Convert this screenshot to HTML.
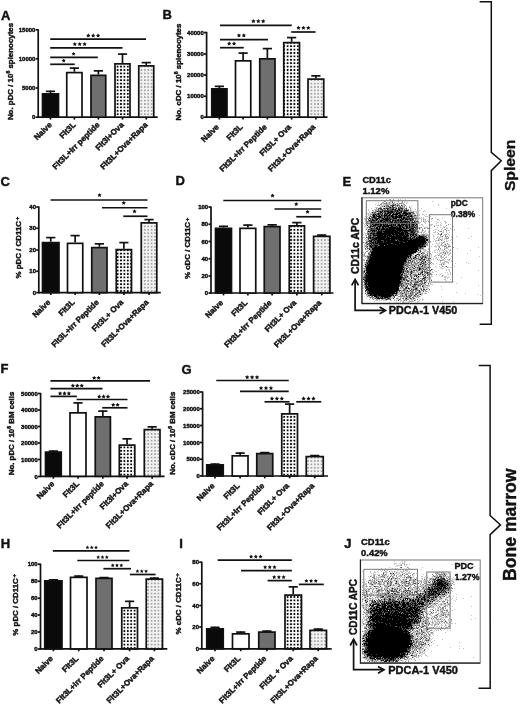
<!DOCTYPE html>
<html><head><meta charset="utf-8"><style>
html,body{margin:0;padding:0;background:#fff;}
svg{display:block;filter:grayscale(1);}
text{font-family:'Liberation Sans', sans-serif;font-weight:bold;fill:#111;stroke:#111;stroke-width:0.42px;}
.tk{font-size:6px;text-anchor:end;}
.xl{font-size:8px;text-anchor:end;}
.yl{font-size:7.9px;text-anchor:middle;}
.pl{font-size:13px;}
.ch line,.ch polyline{stroke:#111;stroke-width:1.7;}
.ch rect{stroke:#111;stroke-width:1.7;}
</style></head><body>
<svg width="520" height="704" viewBox="0 0 520 704">
<defs>
<pattern id="pOva" patternUnits="userSpaceOnUse" width="3.4" height="3.4" x="0.3" y="0.3"><rect width="3.4" height="3.4" fill="#fff"/><rect x="0.8" y="0.8" width="1.8" height="1.8" fill="#000"/></pattern>
<pattern id="pRapa" patternUnits="userSpaceOnUse" width="3.4" height="3.4" x="0.3" y="0.3"><rect width="3.4" height="3.4" fill="#f2f2f2"/><rect x="0.9" y="0.9" width="1.6" height="1.6" fill="#9a9a9a"/></pattern>
</defs>
<g class="ch">
<line x1="35.6" y1="117.2" x2="38.2" y2="117.2"/>
<text class="tk" x="35.4" y="119.4">0</text>
<line x1="35.6" y1="88" x2="38.2" y2="88"/>
<text class="tk" x="35.4" y="90.2">5000</text>
<line x1="35.6" y1="58.8" x2="38.2" y2="58.8"/>
<text class="tk" x="35.4" y="61">10000</text>
<line x1="35.6" y1="29.8" x2="38.2" y2="29.8"/>
<text class="tk" x="35.4" y="32">15000</text>
<line x1="38.2" y1="29.2" x2="38.2" y2="117.9"/>
<line x1="37.5" y1="117.2" x2="157.7" y2="117.2"/>
<line x1="50.5" y1="90.75" x2="50.5" y2="93"/>
<line x1="45.9" y1="91.35" x2="55.1" y2="91.35"/>
<rect x="42.5" y="93.85" width="16" height="23.35" fill="#0a0a0a"/>
<line x1="50.5" y1="117.2" x2="50.5" y2="119.6"/>
<line x1="74.38" y1="67.5" x2="74.38" y2="71.75"/>
<line x1="69.78" y1="68.1" x2="78.97" y2="68.1"/>
<rect x="66.75" y="72.6" width="15.25" height="44.6" fill="#fff"/>
<line x1="74.38" y1="117.2" x2="74.38" y2="119.6"/>
<line x1="98.38" y1="70.25" x2="98.38" y2="74.5"/>
<line x1="93.78" y1="70.85" x2="102.97" y2="70.85"/>
<rect x="91" y="75.35" width="14.75" height="41.85" fill="#6f6f6f"/>
<line x1="98.38" y1="117.2" x2="98.38" y2="119.6"/>
<line x1="122.5" y1="53.5" x2="122.5" y2="63"/>
<line x1="117.9" y1="54.1" x2="127.1" y2="54.1"/>
<rect x="115" y="63.85" width="15" height="53.35" fill="url(#pOva)"/>
<line x1="122.5" y1="117.2" x2="122.5" y2="119.6"/>
<line x1="146.25" y1="62" x2="146.25" y2="65"/>
<line x1="141.65" y1="62.6" x2="150.85" y2="62.6"/>
<rect x="138.75" y="65.85" width="15" height="51.35" fill="url(#pRapa)"/>
<line x1="146.25" y1="117.2" x2="146.25" y2="119.6"/>
<line x1="50.2" y1="64.3" x2="74.8" y2="64.3"/>
<g stroke="none" fill="#111"><polygon points="63.7,58.6 64.34,59.82 65.7,60.05 64.74,61.04 64.93,62.4 63.7,61.79 62.47,62.4 62.66,61.04 61.7,60.05 63.06,59.82"/></g>
<line x1="50.2" y1="57.4" x2="97.8" y2="57.4"/>
<g stroke="none" fill="#111"><polygon points="73.6,51.7 74.24,52.92 75.6,53.15 74.64,54.14 74.83,55.5 73.6,54.89 72.37,55.5 72.56,54.14 71.6,53.15 72.96,52.92"/></g>
<line x1="50.2" y1="47.8" x2="122.5" y2="47.8"/>
<g stroke="none" fill="#111"><polygon points="74.8,41.95 75.49,43.25 76.94,43.5 75.91,44.56 76.12,46.02 74.8,45.37 73.48,46.02 73.69,44.56 72.66,43.5 74.11,43.25"/><polygon points="79.7,41.95 80.39,43.25 81.84,43.5 80.81,44.56 81.02,46.02 79.7,45.37 78.38,46.02 78.59,44.56 77.56,43.5 79.01,43.25"/><polygon points="84.6,41.95 85.29,43.25 86.74,43.5 85.71,44.56 85.92,46.02 84.6,45.37 83.28,46.02 83.49,44.56 82.46,43.5 83.91,43.25"/></g>
<line x1="50.2" y1="39.2" x2="146" y2="39.2"/>
<g stroke="none" fill="#111"><polygon points="88.3,33.35 88.99,34.65 90.44,34.9 89.41,35.96 89.62,37.42 88.3,36.77 86.98,37.42 87.19,35.96 86.16,34.9 87.61,34.65"/><polygon points="93.2,33.35 93.89,34.65 95.34,34.9 94.31,35.96 94.52,37.42 93.2,36.77 91.88,37.42 92.09,35.96 91.06,34.9 92.51,34.65"/><polygon points="98.1,33.35 98.79,34.65 100.24,34.9 99.21,35.96 99.42,37.42 98.1,36.77 96.78,37.42 96.99,35.96 95.96,34.9 97.41,34.65"/></g>
<text class="xl" transform="translate(52.3,125.4) rotate(-45)">Naive</text>
<text class="xl" transform="translate(76.17,125.4) rotate(-45)">Flt3L</text>
<text class="xl" transform="translate(100.17,125.4) rotate(-45)">Flt3L+Irr peptide</text>
<text class="xl" transform="translate(124.3,125.4) rotate(-45)">Flt3l+Ova</text>
<text class="xl" transform="translate(148.05,125.4) rotate(-45)">Flt3L+Ova+Rapa</text>
<text class="yl" transform="translate(13.2,71.5) rotate(-90)">No. pDC / 10<tspan dy="-3" font-size="5.2">6</tspan><tspan dy="3"> </tspan>splenocytes</text>
<text class="pl" x="1" y="19.6">A</text>
<line x1="204" y1="117.2" x2="206.6" y2="117.2"/>
<text class="tk" x="203.8" y="119.4">0</text>
<line x1="204" y1="96.25" x2="206.6" y2="96.25"/>
<text class="tk" x="203.8" y="98.45">10000</text>
<line x1="204" y1="75" x2="206.6" y2="75"/>
<text class="tk" x="203.8" y="77.2">20000</text>
<line x1="204" y1="54" x2="206.6" y2="54"/>
<text class="tk" x="203.8" y="56.2">30000</text>
<line x1="204" y1="32.5" x2="206.6" y2="32.5"/>
<text class="tk" x="203.8" y="34.7">40000</text>
<line x1="206.6" y1="31.9" x2="206.6" y2="117.9"/>
<line x1="205.9" y1="117.2" x2="327.5" y2="117.2"/>
<line x1="219.38" y1="85.75" x2="219.38" y2="88"/>
<line x1="214.78" y1="86.35" x2="223.97" y2="86.35"/>
<rect x="211.75" y="88.85" width="15.25" height="28.35" fill="#0a0a0a"/>
<line x1="219.38" y1="117.2" x2="219.38" y2="119.6"/>
<line x1="243.12" y1="52.5" x2="243.12" y2="60"/>
<line x1="238.53" y1="53.1" x2="247.72" y2="53.1"/>
<rect x="235.5" y="60.85" width="15.25" height="56.35" fill="#fff"/>
<line x1="243.12" y1="117.2" x2="243.12" y2="119.6"/>
<line x1="267.38" y1="48" x2="267.38" y2="58"/>
<line x1="262.77" y1="48.6" x2="271.98" y2="48.6"/>
<rect x="259.75" y="58.85" width="15.25" height="58.35" fill="#6f6f6f"/>
<line x1="267.38" y1="117.2" x2="267.38" y2="119.6"/>
<line x1="291.62" y1="37" x2="291.62" y2="41.75"/>
<line x1="287.02" y1="37.6" x2="296.23" y2="37.6"/>
<rect x="283.75" y="42.6" width="15.75" height="74.6" fill="url(#pOva)"/>
<line x1="291.62" y1="117.2" x2="291.62" y2="119.6"/>
<line x1="315.88" y1="75.25" x2="315.88" y2="78.25"/>
<line x1="311.27" y1="75.85" x2="320.48" y2="75.85"/>
<rect x="308" y="79.1" width="15.75" height="38.1" fill="url(#pRapa)"/>
<line x1="315.88" y1="117.2" x2="315.88" y2="119.6"/>
<line x1="220" y1="47.7" x2="243.75" y2="47.7"/>
<g stroke="none" fill="#111"><polygon points="229.15,41.35 229.84,42.65 231.29,42.9 230.26,43.96 230.47,45.42 229.15,44.77 227.83,45.42 228.04,43.96 227.01,42.9 228.46,42.65"/><polygon points="234.05,41.35 234.74,42.65 236.19,42.9 235.16,43.96 235.37,45.42 234.05,44.77 232.73,45.42 232.94,43.96 231.91,42.9 233.36,42.65"/></g>
<line x1="220" y1="39.6" x2="268" y2="39.6"/>
<g stroke="none" fill="#111"><polygon points="238.95,33.25 239.64,34.55 241.09,34.8 240.06,35.86 240.27,37.32 238.95,36.67 237.63,37.32 237.84,35.86 236.81,34.8 238.26,34.55"/><polygon points="243.85,33.25 244.54,34.55 245.99,34.8 244.96,35.86 245.17,37.32 243.85,36.67 242.53,37.32 242.74,35.86 241.71,34.8 243.16,34.55"/></g>
<line x1="220" y1="25.4" x2="291.75" y2="25.4"/>
<g stroke="none" fill="#111"><polygon points="253.4,19.05 254.09,20.35 255.54,20.6 254.51,21.66 254.72,23.12 253.4,22.47 252.08,23.12 252.29,21.66 251.26,20.6 252.71,20.35"/><polygon points="258.3,19.05 258.99,20.35 260.44,20.6 259.41,21.66 259.62,23.12 258.3,22.47 256.98,23.12 257.19,21.66 256.16,20.6 257.61,20.35"/><polygon points="263.2,19.05 263.89,20.35 265.34,20.6 264.31,21.66 264.52,23.12 263.2,22.47 261.88,23.12 262.09,21.66 261.06,20.6 262.51,20.35"/></g>
<line x1="291.25" y1="32" x2="315.5" y2="32"/>
<g stroke="none" fill="#111"><polygon points="298.5,25.65 299.19,26.95 300.64,27.2 299.61,28.26 299.82,29.72 298.5,29.07 297.18,29.72 297.39,28.26 296.36,27.2 297.81,26.95"/><polygon points="303.4,25.65 304.09,26.95 305.54,27.2 304.51,28.26 304.72,29.72 303.4,29.07 302.08,29.72 302.29,28.26 301.26,27.2 302.71,26.95"/><polygon points="308.3,25.65 308.99,26.95 310.44,27.2 309.41,28.26 309.62,29.72 308.3,29.07 306.98,29.72 307.19,28.26 306.16,27.2 307.61,26.95"/></g>
<text class="xl" transform="translate(219.47,127.5) rotate(-45)">Naive</text>
<text class="xl" transform="translate(243.22,127.5) rotate(-45)">Flt3L</text>
<text class="xl" transform="translate(267.48,127.5) rotate(-45)">Flt3L+Irr Peptide</text>
<text class="xl" transform="translate(291.73,127.5) rotate(-45)">Flt3L+ Ova</text>
<text class="xl" transform="translate(315.98,127.5) rotate(-45)">Flt3L+Ova+Rapa</text>
<text class="yl" transform="translate(181.2,72) rotate(-90)">No. cDC / 10<tspan dy="-3" font-size="5.2">6</tspan><tspan dy="3"> </tspan>splenocytes</text>
<text class="pl" x="162.6" y="19.4">B</text>
<line x1="36.2" y1="292.6" x2="38.8" y2="292.6"/>
<text class="tk" x="36" y="294.8">0</text>
<line x1="36.2" y1="271.25" x2="38.8" y2="271.25"/>
<text class="tk" x="36" y="273.45">10</text>
<line x1="36.2" y1="250" x2="38.8" y2="250"/>
<text class="tk" x="36" y="252.2">20</text>
<line x1="36.2" y1="228.25" x2="38.8" y2="228.25"/>
<text class="tk" x="36" y="230.45">30</text>
<line x1="36.2" y1="207" x2="38.8" y2="207"/>
<text class="tk" x="36" y="209.2">40</text>
<line x1="38.8" y1="206.4" x2="38.8" y2="293.3"/>
<line x1="38.1" y1="292.6" x2="160.8" y2="292.6"/>
<line x1="50.75" y1="237" x2="50.75" y2="241.75"/>
<line x1="46.15" y1="237.6" x2="55.35" y2="237.6"/>
<rect x="42.5" y="242.6" width="16.5" height="50" fill="#0a0a0a"/>
<line x1="50.75" y1="292.6" x2="50.75" y2="295"/>
<line x1="75.12" y1="235" x2="75.12" y2="242.5"/>
<line x1="70.53" y1="235.6" x2="79.72" y2="235.6"/>
<rect x="67.5" y="243.35" width="15.25" height="49.25" fill="#fff"/>
<line x1="75.12" y1="292.6" x2="75.12" y2="295"/>
<line x1="99.38" y1="243.25" x2="99.38" y2="246.75"/>
<line x1="94.78" y1="243.85" x2="103.97" y2="243.85"/>
<rect x="91.75" y="247.6" width="15.25" height="45" fill="#6f6f6f"/>
<line x1="99.38" y1="292.6" x2="99.38" y2="295"/>
<line x1="123.88" y1="242" x2="123.88" y2="248.75"/>
<line x1="119.28" y1="242.6" x2="128.47" y2="242.6"/>
<rect x="116.25" y="249.6" width="15.25" height="43" fill="url(#pOva)"/>
<line x1="123.88" y1="292.6" x2="123.88" y2="295"/>
<line x1="149.03" y1="219" x2="149.03" y2="222"/>
<line x1="144.43" y1="219.6" x2="153.62" y2="219.6"/>
<rect x="141.25" y="222.85" width="15.55" height="69.75" fill="url(#pRapa)"/>
<line x1="149.03" y1="292.6" x2="149.03" y2="295"/>
<line x1="50.6" y1="200" x2="147.5" y2="200"/>
<g stroke="none" fill="#111"><polygon points="99.5,192.95 100.19,194.25 101.64,194.5 100.61,195.56 100.82,197.02 99.5,196.37 98.18,197.02 98.39,195.56 97.36,194.5 98.81,194.25"/></g>
<line x1="102" y1="207.75" x2="147.5" y2="207.75"/>
<g stroke="none" fill="#111"><polygon points="123.75,200.7 124.44,202 125.89,202.25 124.86,203.31 125.07,204.77 123.75,204.12 122.43,204.77 122.64,203.31 121.61,202.25 123.06,202"/></g>
<line x1="123.25" y1="216.25" x2="147.5" y2="216.25"/>
<g stroke="none" fill="#111"><polygon points="134.5,209.2 135.19,210.5 136.64,210.75 135.61,211.81 135.82,213.27 134.5,212.62 133.18,213.27 133.39,211.81 132.36,210.75 133.81,210.5"/></g>
<text class="xl" transform="translate(50.85,302.9) rotate(-45)">Naive</text>
<text class="xl" transform="translate(75.22,302.9) rotate(-45)">Flt3L</text>
<text class="xl" transform="translate(99.47,302.9) rotate(-45)">Flt3L+Irr Peptide</text>
<text class="xl" transform="translate(123.97,302.9) rotate(-45)">Flt3L+ Ova</text>
<text class="xl" transform="translate(149.12,302.9) rotate(-45)">Flt3L+Ova+Rapa</text>
<text class="yl" transform="translate(20.5,247.6) rotate(-90)">% pDC / CD11C<tspan dx="0.8" dy="-1.8" font-size="5.9">+</tspan></text>
<text class="pl" x="0.6" y="185.8">C</text>
<line x1="208.4" y1="293" x2="211" y2="293"/>
<text class="tk" x="208.2" y="295.2">0</text>
<line x1="208.4" y1="276" x2="211" y2="276"/>
<text class="tk" x="208.2" y="278.2">20</text>
<line x1="208.4" y1="258.75" x2="211" y2="258.75"/>
<text class="tk" x="208.2" y="260.95">40</text>
<line x1="208.4" y1="241.5" x2="211" y2="241.5"/>
<text class="tk" x="208.2" y="243.7">60</text>
<line x1="208.4" y1="224.25" x2="211" y2="224.25"/>
<text class="tk" x="208.2" y="226.45">80</text>
<line x1="208.4" y1="207" x2="211" y2="207"/>
<text class="tk" x="208.2" y="209.2">100</text>
<line x1="211" y1="206.4" x2="211" y2="293.7"/>
<line x1="210.3" y1="293" x2="333.5" y2="293"/>
<line x1="223.5" y1="225.75" x2="223.5" y2="227.5"/>
<line x1="218.9" y1="226.35" x2="228.1" y2="226.35"/>
<rect x="215.5" y="228.35" width="16" height="64.65" fill="#0a0a0a"/>
<line x1="223.5" y1="293" x2="223.5" y2="295.4"/>
<line x1="247.88" y1="224.5" x2="247.88" y2="227.5"/>
<line x1="243.28" y1="225.1" x2="252.47" y2="225.1"/>
<rect x="240" y="228.35" width="15.75" height="64.65" fill="#fff"/>
<line x1="247.88" y1="293" x2="247.88" y2="295.4"/>
<line x1="272.12" y1="224.25" x2="272.12" y2="225.75"/>
<line x1="267.52" y1="224.85" x2="276.73" y2="224.85"/>
<rect x="264.25" y="226.6" width="15.75" height="66.4" fill="#6f6f6f"/>
<line x1="272.12" y1="293" x2="272.12" y2="295.4"/>
<line x1="296.88" y1="222" x2="296.88" y2="225"/>
<line x1="292.27" y1="222.6" x2="301.48" y2="222.6"/>
<rect x="289.25" y="225.85" width="15.25" height="67.15" fill="url(#pOva)"/>
<line x1="296.88" y1="293" x2="296.88" y2="295.4"/>
<line x1="321.75" y1="234.5" x2="321.75" y2="235.5"/>
<line x1="317.15" y1="235.1" x2="326.35" y2="235.1"/>
<rect x="313.6" y="236.35" width="16.3" height="56.65" fill="url(#pRapa)"/>
<line x1="321.75" y1="293" x2="321.75" y2="295.4"/>
<line x1="223.3" y1="200.5" x2="321.25" y2="200.5"/>
<g stroke="none" fill="#111"><polygon points="272.5,193.45 273.19,194.75 274.64,195 273.61,196.06 273.82,197.52 272.5,196.87 271.18,197.52 271.39,196.06 270.36,195 271.81,194.75"/></g>
<line x1="274.5" y1="209" x2="321.25" y2="209"/>
<g stroke="none" fill="#111"><polygon points="296.25,201.95 296.94,203.25 298.39,203.5 297.36,204.56 297.57,206.02 296.25,205.37 294.93,206.02 295.14,204.56 294.11,203.5 295.56,203.25"/></g>
<line x1="296.25" y1="216.75" x2="321.25" y2="216.75"/>
<g stroke="none" fill="#111"><polygon points="307.5,209.7 308.19,211 309.64,211.25 308.61,212.31 308.82,213.77 307.5,213.12 306.18,213.77 306.39,212.31 305.36,211.25 306.81,211"/></g>
<text class="xl" transform="translate(223.6,303.3) rotate(-45)">Naive</text>
<text class="xl" transform="translate(247.97,303.3) rotate(-45)">Flt3L</text>
<text class="xl" transform="translate(272.23,303.3) rotate(-45)">Flt3L+Irr Peptide</text>
<text class="xl" transform="translate(296.98,303.3) rotate(-45)">Flt3L+ Ova</text>
<text class="xl" transform="translate(321.85,303.3) rotate(-45)">Flt3L+Ova+Rapa</text>
<text class="yl" transform="translate(190.4,248.4) rotate(-90)">% cDC / CD11C<tspan dx="0.8" dy="-1.8" font-size="5.9">+</tspan></text>
<text class="pl" x="175.4" y="185.3">D</text>
<line x1="38" y1="476.5" x2="40.6" y2="476.5"/>
<text class="tk" x="37.8" y="478.7">0</text>
<line x1="38" y1="459.5" x2="40.6" y2="459.5"/>
<text class="tk" x="37.8" y="461.7">10000</text>
<line x1="38" y1="443" x2="40.6" y2="443"/>
<text class="tk" x="37.8" y="445.2">20000</text>
<line x1="38" y1="426.5" x2="40.6" y2="426.5"/>
<text class="tk" x="37.8" y="428.7">30000</text>
<line x1="38" y1="410" x2="40.6" y2="410"/>
<text class="tk" x="37.8" y="412.2">40000</text>
<line x1="38" y1="393.5" x2="40.6" y2="393.5"/>
<text class="tk" x="37.8" y="395.7">50000</text>
<line x1="40.6" y1="392.9" x2="40.6" y2="477"/>
<line x1="39.9" y1="476.3" x2="164.6" y2="476.3"/>
<line x1="53.38" y1="450.5" x2="53.38" y2="451.25"/>
<line x1="48.77" y1="451.1" x2="57.98" y2="451.1"/>
<rect x="45.5" y="452.1" width="15.75" height="24.2" fill="#0a0a0a"/>
<line x1="53.38" y1="476.3" x2="53.38" y2="478.7"/>
<line x1="78" y1="402.3" x2="78" y2="412"/>
<line x1="73.4" y1="402.9" x2="82.6" y2="402.9"/>
<rect x="70" y="412.85" width="16" height="63.45" fill="#fff"/>
<line x1="78" y1="476.3" x2="78" y2="478.7"/>
<line x1="102.83" y1="410.5" x2="102.83" y2="416"/>
<line x1="98.23" y1="411.1" x2="107.42" y2="411.1"/>
<rect x="95.25" y="416.85" width="15.15" height="59.45" fill="#6f6f6f"/>
<line x1="102.83" y1="476.3" x2="102.83" y2="478.7"/>
<line x1="127.05" y1="438.25" x2="127.05" y2="444.25"/>
<line x1="122.45" y1="438.85" x2="131.65" y2="438.85"/>
<rect x="119.3" y="445.1" width="15.5" height="31.2" fill="url(#pOva)"/>
<line x1="127.05" y1="476.3" x2="127.05" y2="478.7"/>
<line x1="152.15" y1="426.25" x2="152.15" y2="428.75"/>
<line x1="147.55" y1="426.85" x2="156.75" y2="426.85"/>
<rect x="144.3" y="429.6" width="15.7" height="46.7" fill="url(#pRapa)"/>
<line x1="152.15" y1="476.3" x2="152.15" y2="478.7"/>
<line x1="50.4" y1="380.8" x2="150.1" y2="380.8"/>
<g stroke="none" fill="#111"><polygon points="94.2,375.65 94.89,376.95 96.34,377.2 95.31,378.26 95.52,379.72 94.2,379.07 92.88,379.72 93.09,378.26 92.06,377.2 93.51,376.95"/><polygon points="98.6,375.65 99.29,376.95 100.74,377.2 99.71,378.26 99.92,379.72 98.6,379.07 97.28,379.72 97.49,378.26 96.46,377.2 97.91,376.95"/></g>
<line x1="50.4" y1="388.6" x2="102.5" y2="388.6"/>
<g stroke="none" fill="#111"><polygon points="72.9,383.45 73.59,384.75 75.04,385 74.01,386.06 74.22,387.52 72.9,386.87 71.58,387.52 71.79,386.06 70.76,385 72.21,384.75"/><polygon points="77.3,383.45 77.99,384.75 79.44,385 78.41,386.06 78.62,387.52 77.3,386.87 75.98,387.52 76.19,386.06 75.16,385 76.61,384.75"/><polygon points="81.7,383.45 82.39,384.75 83.84,385 82.81,386.06 83.02,387.52 81.7,386.87 80.38,387.52 80.59,386.06 79.56,385 81.01,384.75"/></g>
<line x1="50.4" y1="396.4" x2="76.9" y2="396.4"/>
<g stroke="none" fill="#111"><polygon points="60.1,391.25 60.79,392.55 62.24,392.8 61.21,393.86 61.42,395.32 60.1,394.67 58.78,395.32 58.99,393.86 57.96,392.8 59.41,392.55"/><polygon points="64.5,391.25 65.19,392.55 66.64,392.8 65.61,393.86 65.82,395.32 64.5,394.67 63.18,395.32 63.39,393.86 62.36,392.8 63.81,392.55"/><polygon points="68.9,391.25 69.59,392.55 71.04,392.8 70.01,393.86 70.22,395.32 68.9,394.67 67.58,395.32 67.79,393.86 66.76,392.8 68.21,392.55"/></g>
<line x1="76.6" y1="399.5" x2="127.5" y2="399.5"/>
<g stroke="none" fill="#111"><polygon points="99.2,394.35 99.89,395.65 101.34,395.9 100.31,396.96 100.52,398.42 99.2,397.77 97.88,398.42 98.09,396.96 97.06,395.9 98.51,395.65"/><polygon points="103.6,394.35 104.29,395.65 105.74,395.9 104.71,396.96 104.92,398.42 103.6,397.77 102.28,398.42 102.49,396.96 101.46,395.9 102.91,395.65"/><polygon points="108,394.35 108.69,395.65 110.14,395.9 109.11,396.96 109.32,398.42 108,397.77 106.68,398.42 106.89,396.96 105.86,395.9 107.31,395.65"/></g>
<line x1="102.2" y1="407.8" x2="127.5" y2="407.8"/>
<g stroke="none" fill="#111"><polygon points="113.2,402.65 113.89,403.95 115.34,404.2 114.31,405.26 114.52,406.72 113.2,406.07 111.88,406.72 112.09,405.26 111.06,404.2 112.51,403.95"/><polygon points="117.6,402.65 118.29,403.95 119.74,404.2 118.71,405.26 118.92,406.72 117.6,406.07 116.28,406.72 116.49,405.26 115.46,404.2 116.91,403.95"/></g>
<text class="xl" transform="translate(54.98,484.4) rotate(-45)">Naive</text>
<text class="xl" transform="translate(79.6,484.4) rotate(-45)">Flt3L</text>
<text class="xl" transform="translate(104.42,484.4) rotate(-45)">Flt3L+Irr peptide</text>
<text class="xl" transform="translate(128.65,484.4) rotate(-45)">Flt3l+Ova</text>
<text class="xl" transform="translate(153.75,484.4) rotate(-45)">Flt3L+Ova+Rapa</text>
<text class="yl" transform="translate(13.9,433.5) rotate(-90)">No. pDC / 10<tspan dy="-3" font-size="5.2">6</tspan><tspan dy="3"> </tspan>BM cells</text>
<text class="pl" x="0.6" y="373.2">F</text>
<line x1="200" y1="476" x2="202.6" y2="476"/>
<text class="tk" x="199.8" y="478.2">0</text>
<line x1="200" y1="459.25" x2="202.6" y2="459.25"/>
<text class="tk" x="199.8" y="461.45">5000</text>
<line x1="200" y1="442.5" x2="202.6" y2="442.5"/>
<text class="tk" x="199.8" y="444.7">10000</text>
<line x1="200" y1="425.5" x2="202.6" y2="425.5"/>
<text class="tk" x="199.8" y="427.7">15000</text>
<line x1="200" y1="408.75" x2="202.6" y2="408.75"/>
<text class="tk" x="199.8" y="410.95">20000</text>
<line x1="200" y1="392" x2="202.6" y2="392"/>
<text class="tk" x="199.8" y="394.2">25000</text>
<line x1="202.6" y1="391.4" x2="202.6" y2="476.7"/>
<line x1="201.9" y1="476" x2="328" y2="476"/>
<line x1="215" y1="463.5" x2="215" y2="464"/>
<line x1="210.4" y1="464.1" x2="219.6" y2="464.1"/>
<rect x="206.75" y="464.85" width="16.5" height="11.15" fill="#0a0a0a"/>
<line x1="215" y1="476" x2="215" y2="478.4"/>
<line x1="240.12" y1="452.5" x2="240.12" y2="455"/>
<line x1="235.53" y1="453.1" x2="244.72" y2="453.1"/>
<rect x="232.25" y="455.85" width="15.75" height="20.15" fill="#fff"/>
<line x1="240.12" y1="476" x2="240.12" y2="478.4"/>
<line x1="264.75" y1="452" x2="264.75" y2="452.75"/>
<line x1="260.15" y1="452.6" x2="269.35" y2="452.6"/>
<rect x="256.75" y="453.6" width="16" height="22.4" fill="#6f6f6f"/>
<line x1="264.75" y1="476" x2="264.75" y2="478.4"/>
<line x1="289.62" y1="403.5" x2="289.62" y2="413"/>
<line x1="285.02" y1="404.1" x2="294.23" y2="404.1"/>
<rect x="281.75" y="413.85" width="15.75" height="62.15" fill="url(#pOva)"/>
<line x1="289.62" y1="476" x2="289.62" y2="478.4"/>
<line x1="314.75" y1="455" x2="314.75" y2="455.75"/>
<line x1="310.15" y1="455.6" x2="319.35" y2="455.6"/>
<rect x="306.25" y="456.6" width="17" height="19.4" fill="url(#pRapa)"/>
<line x1="314.75" y1="476" x2="314.75" y2="478.4"/>
<line x1="216.25" y1="380.5" x2="288.75" y2="380.5"/>
<g stroke="none" fill="#111"><polygon points="247.15,375.05 247.84,376.35 249.29,376.6 248.26,377.66 248.47,379.12 247.15,378.47 245.83,379.12 246.04,377.66 245.01,376.6 246.46,376.35"/><polygon points="252.1,375.05 252.79,376.35 254.24,376.6 253.21,377.66 253.42,379.12 252.1,378.47 250.78,379.12 250.99,377.66 249.96,376.6 251.41,376.35"/><polygon points="257.05,375.05 257.74,376.35 259.19,376.6 258.16,377.66 258.37,379.12 257.05,378.47 255.73,379.12 255.94,377.66 254.91,376.6 256.36,376.35"/></g>
<line x1="240" y1="391.3" x2="288.75" y2="391.3"/>
<g stroke="none" fill="#111"><polygon points="261.05,385.85 261.74,387.15 263.19,387.4 262.16,388.46 262.37,389.92 261.05,389.27 259.73,389.92 259.94,388.46 258.91,387.4 260.36,387.15"/><polygon points="266,385.85 266.69,387.15 268.14,387.4 267.11,388.46 267.32,389.92 266,389.27 264.68,389.92 264.89,388.46 263.86,387.4 265.31,387.15"/><polygon points="270.95,385.85 271.64,387.15 273.09,387.4 272.06,388.46 272.27,389.92 270.95,389.27 269.63,389.92 269.84,388.46 268.81,387.4 270.26,387.15"/></g>
<line x1="264.5" y1="401.8" x2="289.5" y2="401.8"/>
<g stroke="none" fill="#111"><polygon points="271.95,396.35 272.64,397.65 274.09,397.9 273.06,398.96 273.27,400.42 271.95,399.77 270.63,400.42 270.84,398.96 269.81,397.9 271.26,397.65"/><polygon points="276.9,396.35 277.59,397.65 279.04,397.9 278.01,398.96 278.22,400.42 276.9,399.77 275.58,400.42 275.79,398.96 274.76,397.9 276.21,397.65"/><polygon points="281.85,396.35 282.54,397.65 283.99,397.9 282.96,398.96 283.17,400.42 281.85,399.77 280.53,400.42 280.74,398.96 279.71,397.9 281.16,397.65"/></g>
<line x1="296.25" y1="401.8" x2="321.25" y2="401.8"/>
<g stroke="none" fill="#111"><polygon points="303.55,396.35 304.24,397.65 305.69,397.9 304.66,398.96 304.87,400.42 303.55,399.77 302.23,400.42 302.44,398.96 301.41,397.9 302.86,397.65"/><polygon points="308.5,396.35 309.19,397.65 310.64,397.9 309.61,398.96 309.82,400.42 308.5,399.77 307.18,400.42 307.39,398.96 306.36,397.9 307.81,397.65"/><polygon points="313.45,396.35 314.14,397.65 315.59,397.9 314.56,398.96 314.77,400.42 313.45,399.77 312.13,400.42 312.34,398.96 311.31,397.9 312.76,397.65"/></g>
<text class="xl" transform="translate(215.1,486.3) rotate(-45)">Naive</text>
<text class="xl" transform="translate(240.22,486.3) rotate(-45)">Flt3L</text>
<text class="xl" transform="translate(264.85,486.3) rotate(-45)">Flt3L+Irr Peptide</text>
<text class="xl" transform="translate(289.73,486.3) rotate(-45)">Flt3L+ Ova</text>
<text class="xl" transform="translate(314.85,486.3) rotate(-45)">Flt3L+Ova+Rapa</text>
<text class="yl" transform="translate(175.4,433.2) rotate(-90)">No. cDC / 10<tspan dy="-3" font-size="5.2">6</tspan><tspan dy="3"> </tspan>BM cells</text>
<text class="pl" x="181.5" y="373.7">G</text>
<line x1="37.9" y1="649" x2="40.5" y2="649"/>
<text class="tk" x="37.7" y="651.2">0</text>
<line x1="37.9" y1="632" x2="40.5" y2="632"/>
<text class="tk" x="37.7" y="634.2">20</text>
<line x1="37.9" y1="615" x2="40.5" y2="615"/>
<text class="tk" x="37.7" y="617.2">40</text>
<line x1="37.9" y1="598.25" x2="40.5" y2="598.25"/>
<text class="tk" x="37.7" y="600.45">60</text>
<line x1="37.9" y1="581.25" x2="40.5" y2="581.25"/>
<text class="tk" x="37.7" y="583.45">80</text>
<line x1="37.9" y1="564.2" x2="40.5" y2="564.2"/>
<text class="tk" x="37.7" y="566.4">100</text>
<line x1="40.5" y1="563.6" x2="40.5" y2="649.6"/>
<line x1="39.8" y1="648.9" x2="167.3" y2="648.9"/>
<line x1="53.38" y1="579.25" x2="53.38" y2="580"/>
<line x1="48.77" y1="579.85" x2="57.98" y2="579.85"/>
<rect x="44.75" y="580.85" width="17.25" height="68.05" fill="#0a0a0a"/>
<line x1="53.38" y1="648.9" x2="53.38" y2="651.3"/>
<line x1="78.75" y1="575.5" x2="78.75" y2="576.5"/>
<line x1="74.15" y1="576.1" x2="83.35" y2="576.1"/>
<rect x="70.5" y="577.35" width="16.5" height="71.55" fill="#fff"/>
<line x1="78.75" y1="648.9" x2="78.75" y2="651.3"/>
<line x1="104" y1="577" x2="104" y2="577.5"/>
<line x1="99.4" y1="577.6" x2="108.6" y2="577.6"/>
<rect x="96" y="578.35" width="16" height="70.55" fill="#6f6f6f"/>
<line x1="104" y1="648.9" x2="104" y2="651.3"/>
<line x1="129.62" y1="600.75" x2="129.62" y2="607"/>
<line x1="125.03" y1="601.35" x2="134.22" y2="601.35"/>
<rect x="121.75" y="607.85" width="15.75" height="41.05" fill="url(#pOva)"/>
<line x1="129.62" y1="648.9" x2="129.62" y2="651.3"/>
<line x1="154.38" y1="577.5" x2="154.38" y2="578.25"/>
<line x1="149.78" y1="578.1" x2="158.97" y2="578.1"/>
<rect x="146.25" y="579.1" width="16.25" height="69.8" fill="url(#pRapa)"/>
<line x1="154.38" y1="648.9" x2="154.38" y2="651.3"/>
<line x1="52.8" y1="550.8" x2="129.5" y2="550.8"/>
<g stroke="none" fill="#111"><polygon points="87.45,545.55 88.05,546.68 89.3,546.9 88.41,547.81 88.6,549.08 87.45,548.51 86.3,549.08 86.49,547.81 85.6,546.9 86.85,546.68"/><polygon points="91.75,545.55 92.35,546.68 93.6,546.9 92.71,547.81 92.9,549.08 91.75,548.51 90.6,549.08 90.79,547.81 89.9,546.9 91.15,546.68"/><polygon points="96.05,545.55 96.65,546.68 97.9,546.9 97.01,547.81 97.2,549.08 96.05,548.51 94.9,549.08 95.09,547.81 94.2,546.9 95.45,546.68"/></g>
<line x1="77.3" y1="560.5" x2="129.3" y2="560.5"/>
<g stroke="none" fill="#111"><polygon points="98.2,555.25 98.8,556.38 100.05,556.6 99.16,557.51 99.35,558.78 98.2,558.21 97.05,558.78 97.24,557.51 96.35,556.6 97.6,556.38"/><polygon points="102.5,555.25 103.1,556.38 104.35,556.6 103.46,557.51 103.65,558.78 102.5,558.21 101.35,558.78 101.54,557.51 100.65,556.6 101.9,556.38"/><polygon points="106.8,555.25 107.4,556.38 108.65,556.6 107.76,557.51 107.95,558.78 106.8,558.21 105.65,558.78 105.84,557.51 104.95,556.6 106.2,556.38"/></g>
<line x1="103.4" y1="568.7" x2="131" y2="568.7"/>
<g stroke="none" fill="#111"><polygon points="112.7,563.45 113.3,564.58 114.55,564.8 113.66,565.71 113.85,566.98 112.7,566.41 111.55,566.98 111.74,565.71 110.85,564.8 112.1,564.58"/><polygon points="117,563.45 117.6,564.58 118.85,564.8 117.96,565.71 118.15,566.98 117,566.41 115.85,566.98 116.04,565.71 115.15,564.8 116.4,564.58"/><polygon points="121.3,563.45 121.9,564.58 123.15,564.8 122.26,565.71 122.45,566.98 121.3,566.41 120.15,566.98 120.34,565.71 119.45,564.8 120.7,564.58"/></g>
<line x1="129.9" y1="574.5" x2="155.6" y2="574.5"/>
<g stroke="none" fill="#111"><polygon points="137.45,569.25 138.05,570.38 139.3,570.6 138.41,571.51 138.6,572.78 137.45,572.21 136.3,572.78 136.49,571.51 135.6,570.6 136.85,570.38"/><polygon points="141.75,569.25 142.35,570.38 143.6,570.6 142.71,571.51 142.9,572.78 141.75,572.21 140.6,572.78 140.79,571.51 139.9,570.6 141.15,570.38"/><polygon points="146.05,569.25 146.65,570.38 147.9,570.6 147.01,571.51 147.2,572.78 146.05,572.21 144.9,572.78 145.09,571.51 144.2,570.6 145.45,570.38"/></g>
<text class="xl" transform="translate(53.48,659.2) rotate(-45)">Naive</text>
<text class="xl" transform="translate(78.85,659.2) rotate(-45)">Flt3L</text>
<text class="xl" transform="translate(104.1,659.2) rotate(-45)">Flt3L+Irr Peptide</text>
<text class="xl" transform="translate(129.72,659.2) rotate(-45)">Flt3L+ Ova</text>
<text class="xl" transform="translate(154.47,659.2) rotate(-45)">Flt3L+Ova+Rapa</text>
<text class="yl" transform="translate(17.9,604.8) rotate(-90)">% pDC / CD11C<tspan dx="0.8" dy="-1.8" font-size="5.9">+</tspan></text>
<text class="pl" x="0.8" y="548.1">H</text>
<line x1="199.2" y1="648.8" x2="201.8" y2="648.8"/>
<text class="tk" x="199" y="651">0</text>
<line x1="199.2" y1="627" x2="201.8" y2="627"/>
<text class="tk" x="199" y="629.2">20</text>
<line x1="199.2" y1="605.5" x2="201.8" y2="605.5"/>
<text class="tk" x="199" y="607.7">40</text>
<line x1="199.2" y1="583.75" x2="201.8" y2="583.75"/>
<text class="tk" x="199" y="585.95">60</text>
<line x1="199.2" y1="562.2" x2="201.8" y2="562.2"/>
<text class="tk" x="199" y="564.4">80</text>
<line x1="201.8" y1="561.6" x2="201.8" y2="649.5"/>
<line x1="201.1" y1="648.8" x2="331.7" y2="648.8"/>
<line x1="215" y1="626.75" x2="215" y2="628"/>
<line x1="210.4" y1="627.35" x2="219.6" y2="627.35"/>
<rect x="206.75" y="628.85" width="16.5" height="19.95" fill="#0a0a0a"/>
<line x1="215" y1="648.8" x2="215" y2="651.2"/>
<line x1="240.75" y1="631.5" x2="240.75" y2="633"/>
<line x1="236.15" y1="632.1" x2="245.35" y2="632.1"/>
<rect x="232.5" y="633.85" width="16.5" height="14.95" fill="#fff"/>
<line x1="240.75" y1="648.8" x2="240.75" y2="651.2"/>
<line x1="266.88" y1="630.5" x2="266.88" y2="631.25"/>
<line x1="262.27" y1="631.1" x2="271.48" y2="631.1"/>
<rect x="258.75" y="632.1" width="16.25" height="16.7" fill="#6f6f6f"/>
<line x1="266.88" y1="648.8" x2="266.88" y2="651.2"/>
<line x1="293.25" y1="586.25" x2="293.25" y2="594.25"/>
<line x1="288.65" y1="586.85" x2="297.85" y2="586.85"/>
<rect x="285" y="595.1" width="16.5" height="53.7" fill="url(#pOva)"/>
<line x1="293.25" y1="648.8" x2="293.25" y2="651.2"/>
<line x1="318.25" y1="628.5" x2="318.25" y2="629.5"/>
<line x1="313.65" y1="629.1" x2="322.85" y2="629.1"/>
<rect x="310" y="630.35" width="16.5" height="18.45" fill="url(#pRapa)"/>
<line x1="318.25" y1="648.8" x2="318.25" y2="651.2"/>
<line x1="217.7" y1="560.1" x2="291.8" y2="560.1"/>
<g stroke="none" fill="#111"><polygon points="251.1,554.6 251.74,555.82 253.1,556.05 252.14,557.04 252.33,558.4 251.1,557.79 249.87,558.4 250.06,557.04 249.1,556.05 250.46,555.82"/><polygon points="255.8,554.6 256.44,555.82 257.8,556.05 256.84,557.04 257.03,558.4 255.8,557.79 254.57,558.4 254.76,557.04 253.8,556.05 255.16,555.82"/><polygon points="260.5,554.6 261.14,555.82 262.5,556.05 261.54,557.04 261.73,558.4 260.5,557.79 259.27,558.4 259.46,557.04 258.5,556.05 259.86,555.82"/></g>
<line x1="241" y1="570.6" x2="291.8" y2="570.6"/>
<g stroke="none" fill="#111"><polygon points="265.1,565.1 265.74,566.32 267.1,566.55 266.14,567.54 266.33,568.9 265.1,568.29 263.87,568.9 264.06,567.54 263.1,566.55 264.46,566.32"/><polygon points="269.8,565.1 270.44,566.32 271.8,566.55 270.84,567.54 271.03,568.9 269.8,568.29 268.57,568.9 268.76,567.54 267.8,566.55 269.16,566.32"/><polygon points="274.5,565.1 275.14,566.32 276.5,566.55 275.54,567.54 275.73,568.9 274.5,568.29 273.27,568.9 273.46,567.54 272.5,566.55 273.86,566.32"/></g>
<line x1="267.6" y1="580.6" x2="291.8" y2="580.6"/>
<g stroke="none" fill="#111"><polygon points="274.2,575.1 274.84,576.32 276.2,576.55 275.24,577.54 275.43,578.9 274.2,578.29 272.97,578.9 273.16,577.54 272.2,576.55 273.56,576.32"/><polygon points="278.9,575.1 279.54,576.32 280.9,576.55 279.94,577.54 280.13,578.9 278.9,578.29 277.67,578.9 277.86,577.54 276.9,576.55 278.26,576.32"/><polygon points="283.6,575.1 284.24,576.32 285.6,576.55 284.64,577.54 284.83,578.9 283.6,578.29 282.37,578.9 282.56,577.54 281.6,576.55 282.96,576.32"/></g>
<line x1="298.8" y1="584.4" x2="323.8" y2="584.4"/>
<g stroke="none" fill="#111"><polygon points="306.4,578.9 307.04,580.12 308.4,580.35 307.44,581.34 307.63,582.7 306.4,582.09 305.17,582.7 305.36,581.34 304.4,580.35 305.76,580.12"/><polygon points="311.1,578.9 311.74,580.12 313.1,580.35 312.14,581.34 312.33,582.7 311.1,582.09 309.87,582.7 310.06,581.34 309.1,580.35 310.46,580.12"/><polygon points="315.8,578.9 316.44,580.12 317.8,580.35 316.84,581.34 317.03,582.7 315.8,582.09 314.57,582.7 314.76,581.34 313.8,580.35 315.16,580.12"/></g>
<text class="xl" transform="translate(215.1,659.1) rotate(-45)">Naive</text>
<text class="xl" transform="translate(240.85,659.1) rotate(-45)">Flt3L</text>
<text class="xl" transform="translate(266.98,659.1) rotate(-45)">Flt3L+Irr Peptide</text>
<text class="xl" transform="translate(293.35,659.1) rotate(-45)">Flt3L + Ova</text>
<text class="xl" transform="translate(318.35,659.1) rotate(-45)">Flt3L+Ova+Rapa</text>
<text class="yl" transform="translate(180.6,603.8) rotate(-90)">% cDC / CD11C<tspan dx="0.8" dy="-1.8" font-size="5.9">+</tspan></text>
<text class="pl" x="179.3" y="548.1">I</text>
</g>
<g fill="none" stroke="#111" stroke-width="1.5">
<polyline points="479.6,1.8 491.3,1.8 491.3,152.4 501.2,160.8 491.3,170.6 491.3,324.3 479.6,324.3"/>
<polyline points="478.7,365.6 490.1,365.6 490.1,515.5 500.5,524.9 490.1,534.6 490.2,688.2 478.5,688.2"/>
</g>
<text transform="translate(515.3,165.4) rotate(-90) scale(0.98,0.92)" style="font-size:16px;text-anchor:middle">Spleen</text>
<text transform="translate(516.4,524.7) rotate(-90)" style="font-size:17.6px;text-anchor:middle">Bone marrow</text>
<text class="pl" x="342.6" y="185.9">E</text>
<text x="362.4" y="182.6" style="font-size:9.3px">CD11c</text>
<text x="362.4" y="193.8" style="font-size:9.5px">1.12%</text>
<text x="450.8" y="206.2" style="font-size:8.3px">pDC</text>
<text x="450.8" y="216.8" style="font-size:8.6px">0.38%</text>
<path d="M386 199h1v1h-1zM389 199h1v1h-1zM398 199h1v1h-1zM400 199h1v1h-1zM405 199h1v1h-1zM383 200h1v1h-1zM388 200h1v1h-1zM390 200h5v1h-5zM399 200h1v1h-1zM390 201h2v1h-2zM394 201h1v1h-1zM397 201h1v1h-1zM404 201h1v1h-1zM432 201h1v1h-1zM378 202h1v1h-1zM382 202h1v1h-1zM387 202h2v1h-2zM390 202h1v1h-1zM394 202h1v1h-1zM398 202h1v1h-1zM401 202h1v1h-1zM404 202h1v1h-1zM406 202h2v1h-2zM382 203h2v1h-2zM387 203h6v1h-6zM394 203h3v1h-3zM402 203h2v1h-2zM406 203h1v1h-1zM375 204h1v1h-1zM378 204h1v1h-1zM383 204h3v1h-3zM387 204h2v1h-2zM390 204h1v1h-1zM399 204h1v1h-1zM401 204h3v1h-3zM438 204h1v1h-1zM377 205h2v1h-2zM381 205h5v1h-5zM403 205h2v1h-2zM438 205h1v1h-1zM380 206h2v1h-2zM383 206h1v1h-1zM385 206h1v1h-1zM391 206h1v1h-1zM396 206h1v1h-1zM398 206h1v1h-1zM401 206h1v1h-1zM403 206h1v1h-1zM406 206h1v1h-1zM409 206h1v1h-1zM411 206h1v1h-1zM375 207h3v1h-3zM379 207h1v1h-1zM381 207h1v1h-1zM383 207h1v1h-1zM385 207h1v1h-1zM388 207h1v1h-1zM403 207h1v1h-1zM406 207h1v1h-1zM410 207h1v1h-1zM371 208h1v1h-1zM394 208h1v1h-1zM397 208h1v1h-1zM404 208h1v1h-1zM421 208h1v1h-1zM446 208h1v1h-1zM368 209h1v1h-1zM374 209h4v1h-4zM379 209h1v1h-1zM383 209h1v1h-1zM386 209h1v1h-1zM397 209h1v1h-1zM403 209h1v1h-1zM405 209h1v1h-1zM407 209h1v1h-1zM410 209h2v1h-2zM415 209h1v1h-1zM368 210h1v1h-1zM373 210h1v1h-1zM377 210h1v1h-1zM379 210h1v1h-1zM411 210h1v1h-1zM419 210h1v1h-1zM424 210h1v1h-1zM465 210h1v1h-1zM369 211h1v1h-1zM373 211h2v1h-2zM408 211h5v1h-5zM414 211h3v1h-3zM423 211h1v1h-1zM425 211h1v1h-1zM369 212h1v1h-1zM371 212h1v1h-1zM376 212h1v1h-1zM402 212h1v1h-1zM416 212h1v1h-1zM366 213h3v1h-3zM370 213h3v1h-3zM383 213h1v1h-1zM411 213h1v1h-1zM416 213h1v1h-1zM368 214h2v1h-2zM383 214h1v1h-1zM391 214h1v1h-1zM413 214h3v1h-3zM417 214h1v1h-1zM419 214h1v1h-1zM422 214h2v1h-2zM426 214h1v1h-1zM431 214h1v1h-1zM368 215h3v1h-3zM407 215h1v1h-1zM413 215h1v1h-1zM416 215h1v1h-1zM419 215h1v1h-1zM424 215h1v1h-1zM479 215h1v1h-1zM365 216h1v1h-1zM367 216h1v1h-1zM369 216h1v1h-1zM415 216h2v1h-2zM425 216h3v1h-3zM430 216h1v1h-1zM366 217h1v1h-1zM368 217h1v1h-1zM377 217h1v1h-1zM410 217h1v1h-1zM413 217h1v1h-1zM415 217h1v1h-1zM419 217h1v1h-1zM421 217h1v1h-1zM423 217h1v1h-1zM435 217h1v1h-1zM364 218h2v1h-2zM368 218h1v1h-1zM397 218h1v1h-1zM417 218h5v1h-5zM423 218h1v1h-1zM429 218h1v1h-1zM431 218h1v1h-1zM442 218h1v1h-1zM364 219h3v1h-3zM416 219h2v1h-2zM421 219h1v1h-1zM424 219h2v1h-2zM431 219h1v1h-1zM438 219h1v1h-1zM365 220h2v1h-2zM391 220h1v1h-1zM416 220h2v1h-2zM421 220h1v1h-1zM423 220h1v1h-1zM425 220h1v1h-1zM427 220h1v1h-1zM439 220h1v1h-1zM365 221h2v1h-2zM421 221h1v1h-1zM424 221h3v1h-3zM431 221h1v1h-1zM436 221h1v1h-1zM444 221h2v1h-2zM368 222h2v1h-2zM416 222h2v1h-2zM419 222h2v1h-2zM424 222h2v1h-2zM429 222h1v1h-1zM437 222h2v1h-2zM440 222h1v1h-1zM445 222h2v1h-2zM363 223h1v1h-1zM365 223h1v1h-1zM369 223h1v1h-1zM382 223h1v1h-1zM393 223h1v1h-1zM418 223h2v1h-2zM425 223h1v1h-1zM436 223h1v1h-1zM441 223h1v1h-1zM445 223h1v1h-1zM452 223h1v1h-1zM364 224h1v1h-1zM367 224h3v1h-3zM421 224h2v1h-2zM430 224h3v1h-3zM440 224h1v1h-1zM450 224h1v1h-1zM365 225h2v1h-2zM369 225h1v1h-1zM419 225h1v1h-1zM422 225h1v1h-1zM429 225h3v1h-3zM434 225h1v1h-1zM436 225h3v1h-3zM440 225h2v1h-2zM364 226h2v1h-2zM423 226h1v1h-1zM443 226h1v1h-1zM445 226h1v1h-1zM453 226h1v1h-1zM366 227h1v1h-1zM418 227h1v1h-1zM420 227h1v1h-1zM424 227h4v1h-4zM429 227h1v1h-1zM437 227h1v1h-1zM440 227h1v1h-1zM443 227h1v1h-1zM446 227h1v1h-1zM366 228h2v1h-2zM369 228h1v1h-1zM414 228h1v1h-1zM418 228h1v1h-1zM420 228h1v1h-1zM422 228h1v1h-1zM425 228h1v1h-1zM430 228h1v1h-1zM442 228h1v1h-1zM446 228h2v1h-2zM450 228h1v1h-1zM468 228h1v1h-1zM365 229h1v1h-1zM419 229h1v1h-1zM435 229h2v1h-2zM441 229h1v1h-1zM444 229h1v1h-1zM451 229h1v1h-1zM454 229h1v1h-1zM367 230h1v1h-1zM369 230h1v1h-1zM418 230h1v1h-1zM423 230h1v1h-1zM425 230h1v1h-1zM433 230h1v1h-1zM441 230h1v1h-1zM443 230h1v1h-1zM448 230h2v1h-2zM454 230h1v1h-1zM421 231h2v1h-2zM424 231h2v1h-2zM428 231h2v1h-2zM435 231h1v1h-1zM439 231h1v1h-1zM443 231h1v1h-1zM446 231h1v1h-1zM364 232h1v1h-1zM368 232h1v1h-1zM416 232h1v1h-1zM419 232h2v1h-2zM423 232h2v1h-2zM428 232h1v1h-1zM433 232h3v1h-3zM437 232h1v1h-1zM442 232h2v1h-2zM446 232h1v1h-1zM449 232h1v1h-1zM365 233h2v1h-2zM421 233h1v1h-1zM423 233h1v1h-1zM425 233h2v1h-2zM447 233h1v1h-1zM363 234h1v1h-1zM365 234h1v1h-1zM420 234h2v1h-2zM425 234h4v1h-4zM432 234h1v1h-1zM435 234h1v1h-1zM437 234h3v1h-3zM444 234h2v1h-2zM448 234h1v1h-1zM365 235h1v1h-1zM425 235h1v1h-1zM428 235h1v1h-1zM433 235h1v1h-1zM443 235h1v1h-1zM449 235h1v1h-1zM366 236h1v1h-1zM433 236h2v1h-2zM438 236h1v1h-1zM440 236h2v1h-2zM446 236h1v1h-1zM451 236h1v1h-1zM456 236h1v1h-1zM471 236h1v1h-1zM363 237h2v1h-2zM428 237h1v1h-1zM439 237h2v1h-2zM442 237h1v1h-1zM445 237h2v1h-2zM451 237h1v1h-1zM365 238h1v1h-1zM367 238h1v1h-1zM427 238h2v1h-2zM433 238h1v1h-1zM436 238h1v1h-1zM438 238h2v1h-2zM442 238h1v1h-1zM444 238h2v1h-2zM448 238h1v1h-1zM468 238h1v1h-1zM364 239h1v1h-1zM366 239h2v1h-2zM369 239h1v1h-1zM434 239h1v1h-1zM438 239h2v1h-2zM441 239h2v1h-2zM444 239h1v1h-1zM446 239h1v1h-1zM451 239h1v1h-1zM365 240h3v1h-3zM428 240h1v1h-1zM435 240h3v1h-3zM439 240h1v1h-1zM442 240h1v1h-1zM446 240h1v1h-1zM448 240h1v1h-1zM450 240h1v1h-1zM426 241h2v1h-2zM433 241h1v1h-1zM435 241h1v1h-1zM446 241h2v1h-2zM364 242h2v1h-2zM427 242h1v1h-1zM430 242h1v1h-1zM436 242h1v1h-1zM439 242h1v1h-1zM441 242h2v1h-2zM444 242h1v1h-1zM451 242h1v1h-1zM427 243h1v1h-1zM436 243h2v1h-2zM439 243h1v1h-1zM441 243h2v1h-2zM445 243h1v1h-1zM364 244h1v1h-1zM432 244h1v1h-1zM438 244h1v1h-1zM444 244h1v1h-1zM447 244h3v1h-3zM364 245h2v1h-2zM367 245h2v1h-2zM426 245h1v1h-1zM435 245h1v1h-1zM437 245h2v1h-2zM440 245h7v1h-7zM448 245h2v1h-2zM364 246h1v1h-1zM368 246h1v1h-1zM431 246h1v1h-1zM434 246h3v1h-3zM438 246h1v1h-1zM442 246h1v1h-1zM446 246h1v1h-1zM364 247h1v1h-1zM424 247h2v1h-2zM436 247h1v1h-1zM444 247h1v1h-1zM447 247h2v1h-2zM452 247h1v1h-1zM478 247h1v1h-1zM428 248h2v1h-2zM438 248h1v1h-1zM444 248h4v1h-4zM452 248h1v1h-1zM457 248h1v1h-1zM366 249h3v1h-3zM419 249h1v1h-1zM421 249h5v1h-5zM428 249h1v1h-1zM436 249h1v1h-1zM440 249h1v1h-1zM442 249h1v1h-1zM448 249h1v1h-1zM450 249h1v1h-1zM367 250h2v1h-2zM417 250h1v1h-1zM419 250h1v1h-1zM423 250h4v1h-4zM434 250h2v1h-2zM437 250h1v1h-1zM439 250h1v1h-1zM441 250h3v1h-3zM445 250h2v1h-2zM449 250h1v1h-1zM470 250h1v1h-1zM369 251h1v1h-1zM419 251h1v1h-1zM421 251h1v1h-1zM424 251h2v1h-2zM427 251h2v1h-2zM430 251h1v1h-1zM439 251h1v1h-1zM443 251h2v1h-2zM446 251h2v1h-2zM449 251h1v1h-1zM363 252h1v1h-1zM368 252h1v1h-1zM416 252h2v1h-2zM424 252h1v1h-1zM426 252h3v1h-3zM432 252h1v1h-1zM434 252h2v1h-2zM437 252h1v1h-1zM440 252h3v1h-3zM444 252h1v1h-1zM448 252h1v1h-1zM450 252h1v1h-1zM364 253h2v1h-2zM370 253h1v1h-1zM414 253h2v1h-2zM429 253h1v1h-1zM439 253h3v1h-3zM443 253h2v1h-2zM447 253h1v1h-1zM449 253h2v1h-2zM467 253h1v1h-1zM363 254h1v1h-1zM412 254h1v1h-1zM420 254h1v1h-1zM423 254h1v1h-1zM426 254h1v1h-1zM430 254h2v1h-2zM437 254h1v1h-1zM439 254h1v1h-1zM444 254h3v1h-3zM448 254h2v1h-2zM363 255h1v1h-1zM366 255h3v1h-3zM412 255h1v1h-1zM414 255h1v1h-1zM418 255h1v1h-1zM423 255h1v1h-1zM426 255h1v1h-1zM431 255h1v1h-1zM435 255h2v1h-2zM439 255h3v1h-3zM448 255h1v1h-1zM363 256h2v1h-2zM366 256h1v1h-1zM411 256h2v1h-2zM414 256h1v1h-1zM417 256h1v1h-1zM419 256h1v1h-1zM421 256h1v1h-1zM426 256h3v1h-3zM431 256h1v1h-1zM434 256h2v1h-2zM440 256h1v1h-1zM443 256h1v1h-1zM446 256h1v1h-1zM451 256h1v1h-1zM479 256h1v1h-1zM366 257h1v1h-1zM409 257h1v1h-1zM411 257h2v1h-2zM416 257h1v1h-1zM427 257h1v1h-1zM429 257h2v1h-2zM436 257h1v1h-1zM438 257h1v1h-1zM440 257h4v1h-4zM445 257h2v1h-2zM365 258h1v1h-1zM412 258h1v1h-1zM419 258h2v1h-2zM425 258h1v1h-1zM427 258h1v1h-1zM429 258h1v1h-1zM433 258h1v1h-1zM435 258h2v1h-2zM441 258h1v1h-1zM450 258h1v1h-1zM363 259h2v1h-2zM366 259h1v1h-1zM409 259h2v1h-2zM412 259h2v1h-2zM416 259h2v1h-2zM425 259h3v1h-3zM431 259h1v1h-1zM433 259h1v1h-1zM439 259h1v1h-1zM442 259h2v1h-2zM445 259h1v1h-1zM447 259h1v1h-1zM363 260h1v1h-1zM407 260h1v1h-1zM417 260h3v1h-3zM429 260h2v1h-2zM438 260h1v1h-1zM442 260h3v1h-3zM448 260h2v1h-2zM451 260h1v1h-1zM407 261h1v1h-1zM413 261h1v1h-1zM417 261h1v1h-1zM424 261h1v1h-1zM427 261h2v1h-2zM430 261h1v1h-1zM440 261h1v1h-1zM444 261h4v1h-4zM451 261h1v1h-1zM364 262h1v1h-1zM413 262h1v1h-1zM419 262h1v1h-1zM422 262h1v1h-1zM426 262h1v1h-1zM430 262h1v1h-1zM440 262h1v1h-1zM442 262h3v1h-3zM446 262h3v1h-3zM466 262h1v1h-1zM364 263h2v1h-2zM406 263h1v1h-1zM410 263h1v1h-1zM413 263h1v1h-1zM418 263h2v1h-2zM425 263h2v1h-2zM432 263h2v1h-2zM436 263h1v1h-1zM441 263h4v1h-4zM448 263h1v1h-1zM455 263h1v1h-1zM468 263h1v1h-1zM364 264h1v1h-1zM410 264h1v1h-1zM414 264h1v1h-1zM417 264h2v1h-2zM422 264h1v1h-1zM427 264h1v1h-1zM431 264h1v1h-1zM433 264h1v1h-1zM439 264h2v1h-2zM444 264h1v1h-1zM363 265h1v1h-1zM411 265h1v1h-1zM415 265h3v1h-3zM419 265h1v1h-1zM423 265h1v1h-1zM426 265h1v1h-1zM428 265h2v1h-2zM441 265h2v1h-2zM452 265h1v1h-1zM405 266h1v1h-1zM408 266h1v1h-1zM410 266h1v1h-1zM412 266h2v1h-2zM415 266h2v1h-2zM420 266h1v1h-1zM423 266h1v1h-1zM426 266h3v1h-3zM435 266h1v1h-1zM439 266h1v1h-1zM443 266h1v1h-1zM445 266h1v1h-1zM454 266h1v1h-1zM406 267h2v1h-2zM411 267h1v1h-1zM413 267h1v1h-1zM416 267h1v1h-1zM421 267h2v1h-2zM426 267h1v1h-1zM436 267h1v1h-1zM440 267h2v1h-2zM444 267h1v1h-1zM448 267h1v1h-1zM450 267h2v1h-2zM405 268h1v1h-1zM410 268h3v1h-3zM415 268h2v1h-2zM424 268h2v1h-2zM427 268h2v1h-2zM441 268h3v1h-3zM452 268h1v1h-1zM364 269h2v1h-2zM405 269h1v1h-1zM408 269h1v1h-1zM412 269h5v1h-5zM422 269h1v1h-1zM426 269h1v1h-1zM446 269h1v1h-1zM448 269h2v1h-2zM363 270h1v1h-1zM408 270h3v1h-3zM412 270h1v1h-1zM417 270h1v1h-1zM420 270h2v1h-2zM425 270h2v1h-2zM429 270h1v1h-1zM431 270h1v1h-1zM434 270h1v1h-1zM438 270h1v1h-1zM446 270h1v1h-1zM449 270h1v1h-1zM478 270h1v1h-1zM365 271h1v1h-1zM409 271h1v1h-1zM413 271h1v1h-1zM416 271h1v1h-1zM418 271h1v1h-1zM420 271h1v1h-1zM427 271h1v1h-1zM430 271h1v1h-1zM432 271h1v1h-1zM435 271h2v1h-2zM449 271h1v1h-1zM452 271h1v1h-1zM365 272h1v1h-1zM404 272h2v1h-2zM409 272h1v1h-1zM414 272h6v1h-6zM429 272h2v1h-2zM432 272h2v1h-2zM445 272h1v1h-1zM447 272h1v1h-1zM450 272h1v1h-1zM409 273h1v1h-1zM412 273h4v1h-4zM425 273h1v1h-1zM429 273h1v1h-1zM431 273h1v1h-1zM441 273h1v1h-1zM450 273h1v1h-1zM363 274h1v1h-1zM403 274h1v1h-1zM405 274h1v1h-1zM409 274h1v1h-1zM411 274h2v1h-2zM417 274h1v1h-1zM424 274h1v1h-1zM432 274h1v1h-1zM440 274h1v1h-1zM447 274h2v1h-2zM450 274h1v1h-1zM363 275h1v1h-1zM407 275h1v1h-1zM409 275h1v1h-1zM412 275h2v1h-2zM419 275h2v1h-2zM423 275h1v1h-1zM428 275h1v1h-1zM431 275h1v1h-1zM439 275h1v1h-1zM443 275h1v1h-1zM363 276h1v1h-1zM412 276h2v1h-2zM415 276h1v1h-1zM417 276h1v1h-1zM419 276h3v1h-3zM424 276h1v1h-1zM426 276h1v1h-1zM428 276h1v1h-1zM431 276h2v1h-2zM441 276h2v1h-2zM444 276h3v1h-3zM449 276h1v1h-1zM408 277h3v1h-3zM412 277h2v1h-2zM416 277h1v1h-1zM419 277h1v1h-1zM426 277h1v1h-1zM428 277h2v1h-2zM444 277h2v1h-2zM447 277h2v1h-2zM461 277h1v1h-1zM412 278h1v1h-1zM417 278h1v1h-1zM421 278h1v1h-1zM426 278h3v1h-3zM430 278h1v1h-1zM445 278h1v1h-1zM447 278h1v1h-1zM407 279h1v1h-1zM409 279h1v1h-1zM411 279h1v1h-1zM413 279h1v1h-1zM417 279h1v1h-1zM419 279h1v1h-1zM421 279h1v1h-1zM423 279h1v1h-1zM427 279h2v1h-2zM430 279h2v1h-2zM444 279h2v1h-2zM450 279h1v1h-1zM405 280h1v1h-1zM409 280h2v1h-2zM413 280h2v1h-2zM416 280h2v1h-2zM419 280h1v1h-1zM422 280h1v1h-1zM425 280h1v1h-1zM427 280h1v1h-1zM445 280h1v1h-1zM403 281h2v1h-2zM409 281h2v1h-2zM412 281h1v1h-1zM414 281h1v1h-1zM425 281h1v1h-1zM434 281h1v1h-1zM438 281h1v1h-1zM446 281h1v1h-1zM449 281h1v1h-1zM453 281h1v1h-1zM363 282h1v1h-1zM406 282h2v1h-2zM409 282h1v1h-1zM412 282h2v1h-2zM420 282h1v1h-1zM426 282h2v1h-2zM403 283h2v1h-2zM409 283h2v1h-2zM417 283h2v1h-2zM421 283h1v1h-1zM425 283h1v1h-1zM430 283h1v1h-1zM456 283h1v1h-1zM363 284h1v1h-1zM404 284h1v1h-1zM407 284h1v1h-1zM411 284h1v1h-1zM422 284h3v1h-3zM428 284h1v1h-1zM430 284h3v1h-3zM363 285h2v1h-2zM405 285h2v1h-2zM409 285h1v1h-1zM411 285h2v1h-2zM416 285h1v1h-1zM424 285h2v1h-2zM428 285h2v1h-2zM478 285h1v1h-1zM400 286h1v1h-1zM405 286h1v1h-1zM410 286h2v1h-2zM416 286h2v1h-2zM419 286h1v1h-1zM424 286h2v1h-2zM427 286h3v1h-3zM441 286h1v1h-1zM363 287h2v1h-2zM401 287h1v1h-1zM403 287h1v1h-1zM407 287h1v1h-1zM410 287h3v1h-3zM418 287h1v1h-1zM420 287h1v1h-1zM422 287h1v1h-1zM424 287h4v1h-4zM363 288h1v1h-1zM399 288h1v1h-1zM401 288h2v1h-2zM410 288h1v1h-1zM412 288h3v1h-3zM419 288h1v1h-1zM424 288h1v1h-1zM426 288h3v1h-3zM364 289h2v1h-2zM399 289h1v1h-1zM401 289h1v1h-1zM406 289h1v1h-1zM408 289h1v1h-1zM412 289h1v1h-1zM418 289h1v1h-1zM420 289h1v1h-1zM425 289h1v1h-1zM427 289h1v1h-1zM442 289h1v1h-1zM401 290h1v1h-1zM409 290h1v1h-1zM424 290h1v1h-1zM429 290h1v1h-1zM366 291h1v1h-1zM398 291h1v1h-1zM402 291h2v1h-2zM405 291h1v1h-1zM410 291h1v1h-1zM413 291h1v1h-1zM416 291h1v1h-1zM421 291h1v1h-1zM425 291h1v1h-1zM427 291h1v1h-1zM430 291h1v1h-1zM365 292h2v1h-2zM398 292h2v1h-2zM402 292h2v1h-2zM405 292h1v1h-1zM407 292h2v1h-2zM415 292h2v1h-2zM422 292h1v1h-1zM425 292h1v1h-1zM428 292h1v1h-1zM456 292h1v1h-1zM398 293h2v1h-2zM404 293h1v1h-1zM407 293h1v1h-1zM409 293h1v1h-1zM413 293h1v1h-1zM418 293h4v1h-4zM424 293h1v1h-1zM426 293h1v1h-1zM465 293h1v1h-1zM394 294h1v1h-1zM397 294h4v1h-4zM402 294h3v1h-3zM407 294h3v1h-3zM418 294h1v1h-1zM421 294h2v1h-2zM477 294h1v1h-1zM366 295h2v1h-2zM394 295h1v1h-1zM401 295h1v1h-1zM403 295h2v1h-2zM412 295h2v1h-2zM416 295h1v1h-1zM421 295h1v1h-1zM480 295h1v1h-1zM368 296h1v1h-1zM373 296h1v1h-1zM392 296h1v1h-1zM405 296h1v1h-1zM411 296h1v1h-1zM414 296h1v1h-1zM416 296h1v1h-1zM418 296h1v1h-1zM420 296h1v1h-1zM441 296h1v1h-1zM366 297h1v1h-1zM369 297h1v1h-1zM374 297h1v1h-1zM391 297h3v1h-3zM397 297h1v1h-1zM400 297h2v1h-2zM403 297h3v1h-3zM408 297h1v1h-1zM414 297h1v1h-1zM416 297h2v1h-2zM370 298h1v1h-1zM373 298h1v1h-1zM391 298h2v1h-2zM398 298h1v1h-1zM407 298h3v1h-3zM412 298h1v1h-1zM415 298h1v1h-1zM419 298h1v1h-1zM422 298h1v1h-1zM369 299h1v1h-1zM372 299h1v1h-1zM377 299h2v1h-2zM381 299h1v1h-1zM383 299h2v1h-2zM394 299h1v1h-1zM397 299h2v1h-2zM403 299h2v1h-2zM410 299h1v1h-1zM412 299h2v1h-2zM415 299h1v1h-1zM420 299h1v1h-1zM422 299h2v1h-2zM375 300h3v1h-3zM379 300h1v1h-1zM381 300h1v1h-1zM383 300h4v1h-4zM390 300h2v1h-2zM394 300h1v1h-1zM400 300h2v1h-2zM403 300h1v1h-1zM405 300h1v1h-1zM409 300h1v1h-1zM411 300h2v1h-2zM415 300h1v1h-1zM419 300h1v1h-1zM422 300h1v1h-1zM374 301h1v1h-1zM395 301h1v1h-1zM400 301h1v1h-1zM402 301h1v1h-1zM406 301h1v1h-1zM408 301h2v1h-2zM411 301h3v1h-3zM417 301h2v1h-2zM442 301h1v1h-1zM453 301h1v1h-1zM389 302h1v1h-1zM396 302h1v1h-1zM398 302h1v1h-1zM402 302h4v1h-4zM407 302h2v1h-2zM411 302h1v1h-1zM417 302h1v1h-1z" fill="#c4c4c4"/><path d="M390 199h1v1h-1zM393 199h1v1h-1zM384 201h2v1h-2zM392 201h1v1h-1zM398 201h1v1h-1zM402 201h1v1h-1zM383 202h1v1h-1zM386 202h1v1h-1zM389 202h1v1h-1zM402 202h1v1h-1zM381 203h1v1h-1zM384 203h3v1h-3zM393 203h1v1h-1zM397 203h1v1h-1zM399 203h3v1h-3zM380 204h2v1h-2zM386 204h1v1h-1zM389 204h1v1h-1zM392 204h3v1h-3zM397 204h2v1h-2zM404 204h1v1h-1zM379 205h1v1h-1zM386 205h1v1h-1zM388 205h1v1h-1zM390 205h1v1h-1zM394 205h3v1h-3zM398 205h2v1h-2zM402 205h1v1h-1zM405 205h1v1h-1zM382 206h1v1h-1zM386 206h2v1h-2zM389 206h2v1h-2zM393 206h1v1h-1zM395 206h1v1h-1zM397 206h1v1h-1zM399 206h2v1h-2zM402 206h1v1h-1zM404 206h1v1h-1zM380 207h1v1h-1zM386 207h2v1h-2zM391 207h1v1h-1zM395 207h2v1h-2zM399 207h1v1h-1zM401 207h2v1h-2zM404 207h1v1h-1zM409 207h1v1h-1zM376 208h1v1h-1zM385 208h1v1h-1zM389 208h1v1h-1zM391 208h1v1h-1zM395 208h1v1h-1zM403 208h1v1h-1zM405 208h1v1h-1zM410 208h1v1h-1zM384 209h2v1h-2zM389 209h1v1h-1zM396 209h1v1h-1zM400 209h2v1h-2zM408 209h1v1h-1zM372 210h1v1h-1zM375 210h2v1h-2zM380 210h2v1h-2zM393 210h1v1h-1zM403 210h1v1h-1zM410 210h1v1h-1zM375 211h2v1h-2zM383 211h1v1h-1zM399 211h1v1h-1zM402 211h1v1h-1zM407 211h1v1h-1zM413 211h1v1h-1zM373 212h2v1h-2zM378 212h2v1h-2zM382 212h2v1h-2zM386 212h1v1h-1zM395 212h1v1h-1zM407 212h1v1h-1zM413 212h1v1h-1zM373 213h1v1h-1zM375 213h2v1h-2zM381 213h1v1h-1zM392 213h1v1h-1zM394 213h1v1h-1zM401 213h1v1h-1zM412 213h1v1h-1zM414 213h1v1h-1zM370 214h3v1h-3zM376 214h1v1h-1zM388 214h1v1h-1zM398 214h1v1h-1zM401 214h1v1h-1zM411 214h2v1h-2zM375 215h1v1h-1zM377 215h1v1h-1zM380 215h1v1h-1zM394 215h1v1h-1zM397 215h1v1h-1zM412 215h1v1h-1zM417 215h1v1h-1zM371 216h2v1h-2zM383 216h1v1h-1zM405 216h2v1h-2zM413 216h2v1h-2zM383 217h1v1h-1zM391 217h1v1h-1zM402 217h1v1h-1zM414 217h1v1h-1zM416 217h1v1h-1zM366 218h2v1h-2zM371 218h1v1h-1zM373 218h1v1h-1zM380 218h1v1h-1zM398 218h1v1h-1zM400 218h1v1h-1zM414 218h1v1h-1zM416 218h1v1h-1zM432 218h1v1h-1zM371 219h1v1h-1zM374 219h1v1h-1zM378 219h1v1h-1zM380 219h1v1h-1zM404 219h1v1h-1zM415 219h1v1h-1zM423 219h1v1h-1zM429 219h1v1h-1zM437 219h1v1h-1zM368 220h1v1h-1zM377 220h1v1h-1zM379 220h1v1h-1zM403 220h1v1h-1zM406 220h1v1h-1zM408 220h2v1h-2zM413 220h3v1h-3zM367 221h3v1h-3zM372 221h1v1h-1zM376 221h1v1h-1zM393 221h1v1h-1zM410 221h2v1h-2zM415 221h1v1h-1zM418 221h1v1h-1zM423 221h1v1h-1zM428 221h1v1h-1zM366 222h2v1h-2zM386 222h1v1h-1zM393 222h1v1h-1zM410 222h1v1h-1zM418 222h1v1h-1zM366 223h3v1h-3zM372 223h1v1h-1zM381 223h1v1h-1zM384 223h1v1h-1zM412 223h1v1h-1zM414 223h1v1h-1zM416 223h1v1h-1zM366 224h1v1h-1zM371 224h1v1h-1zM388 224h1v1h-1zM396 224h1v1h-1zM400 224h1v1h-1zM410 224h1v1h-1zM415 224h1v1h-1zM448 224h1v1h-1zM372 225h1v1h-1zM382 225h1v1h-1zM396 225h1v1h-1zM404 225h1v1h-1zM410 225h1v1h-1zM414 225h1v1h-1zM416 225h1v1h-1zM446 225h1v1h-1zM368 226h2v1h-2zM376 226h1v1h-1zM389 226h1v1h-1zM403 226h1v1h-1zM408 226h1v1h-1zM415 226h1v1h-1zM434 226h1v1h-1zM367 227h2v1h-2zM371 227h3v1h-3zM375 227h1v1h-1zM378 227h1v1h-1zM381 227h1v1h-1zM384 227h1v1h-1zM405 227h1v1h-1zM419 227h1v1h-1zM421 227h1v1h-1zM444 227h1v1h-1zM402 228h1v1h-1zM416 228h1v1h-1zM424 228h1v1h-1zM427 228h2v1h-2zM366 229h1v1h-1zM407 229h2v1h-2zM415 229h1v1h-1zM417 229h1v1h-1zM422 229h1v1h-1zM445 229h1v1h-1zM368 230h1v1h-1zM377 230h1v1h-1zM416 230h2v1h-2zM422 230h1v1h-1zM438 230h1v1h-1zM446 230h1v1h-1zM367 231h1v1h-1zM371 231h1v1h-1zM416 231h1v1h-1zM418 231h1v1h-1zM440 231h2v1h-2zM367 232h1v1h-1zM369 232h2v1h-2zM375 232h1v1h-1zM408 232h2v1h-2zM415 232h1v1h-1zM417 232h2v1h-2zM421 232h1v1h-1zM367 233h1v1h-1zM369 233h1v1h-1zM415 233h1v1h-1zM417 233h1v1h-1zM438 233h1v1h-1zM367 234h1v1h-1zM369 234h1v1h-1zM371 234h1v1h-1zM409 234h1v1h-1zM417 234h2v1h-2zM422 234h3v1h-3zM440 234h1v1h-1zM446 234h1v1h-1zM366 235h1v1h-1zM368 235h1v1h-1zM372 235h1v1h-1zM409 235h1v1h-1zM411 235h1v1h-1zM414 235h1v1h-1zM417 235h2v1h-2zM420 235h3v1h-3zM424 235h1v1h-1zM426 235h2v1h-2zM440 235h1v1h-1zM445 235h1v1h-1zM371 236h2v1h-2zM376 236h1v1h-1zM409 236h1v1h-1zM412 236h1v1h-1zM416 236h1v1h-1zM426 236h1v1h-1zM428 236h1v1h-1zM442 236h1v1h-1zM445 236h1v1h-1zM447 236h1v1h-1zM367 237h1v1h-1zM411 237h1v1h-1zM415 237h1v1h-1zM425 237h1v1h-1zM427 237h1v1h-1zM437 237h1v1h-1zM448 237h1v1h-1zM426 238h1v1h-1zM446 238h2v1h-2zM370 239h1v1h-1zM428 239h1v1h-1zM440 239h1v1h-1zM368 240h1v1h-1zM396 240h1v1h-1zM438 240h1v1h-1zM441 240h1v1h-1zM366 241h2v1h-2zM372 241h1v1h-1zM428 241h1v1h-1zM430 241h1v1h-1zM444 241h1v1h-1zM363 242h1v1h-1zM367 242h1v1h-1zM370 242h1v1h-1zM428 242h1v1h-1zM443 242h1v1h-1zM365 243h3v1h-3zM426 243h1v1h-1zM447 243h1v1h-1zM366 244h1v1h-1zM368 244h1v1h-1zM370 244h1v1h-1zM372 244h1v1h-1zM425 244h3v1h-3zM441 244h1v1h-1zM445 244h1v1h-1zM366 245h1v1h-1zM378 245h1v1h-1zM384 245h1v1h-1zM425 245h1v1h-1zM427 245h1v1h-1zM365 246h2v1h-2zM439 246h1v1h-1zM444 246h2v1h-2zM448 246h3v1h-3zM366 247h2v1h-2zM369 247h1v1h-1zM422 247h2v1h-2zM439 247h1v1h-1zM446 247h1v1h-1zM453 247h1v1h-1zM368 248h1v1h-1zM370 248h2v1h-2zM421 248h1v1h-1zM423 248h1v1h-1zM440 248h1v1h-1zM365 249h1v1h-1zM370 249h2v1h-2zM420 249h1v1h-1zM438 249h1v1h-1zM444 249h1v1h-1zM371 250h1v1h-1zM450 250h1v1h-1zM366 251h2v1h-2zM417 251h1v1h-1zM365 252h1v1h-1zM369 252h2v1h-2zM418 252h3v1h-3zM422 252h2v1h-2zM443 252h1v1h-1zM445 252h1v1h-1zM447 252h1v1h-1zM369 253h1v1h-1zM418 253h1v1h-1zM422 253h3v1h-3zM427 253h1v1h-1zM430 253h1v1h-1zM445 253h1v1h-1zM364 254h1v1h-1zM368 254h1v1h-1zM413 254h1v1h-1zM416 254h1v1h-1zM422 254h1v1h-1zM425 254h1v1h-1zM427 254h1v1h-1zM442 254h1v1h-1zM364 255h1v1h-1zM369 255h1v1h-1zM421 255h2v1h-2zM424 255h2v1h-2zM438 255h1v1h-1zM444 255h1v1h-1zM365 256h1v1h-1zM413 256h1v1h-1zM416 256h1v1h-1zM418 256h1v1h-1zM420 256h1v1h-1zM424 256h1v1h-1zM429 256h1v1h-1zM441 256h1v1h-1zM367 257h1v1h-1zM413 257h1v1h-1zM418 257h1v1h-1zM421 257h1v1h-1zM423 257h2v1h-2zM426 257h1v1h-1zM367 258h1v1h-1zM407 258h2v1h-2zM410 258h1v1h-1zM414 258h2v1h-2zM417 258h2v1h-2zM424 258h1v1h-1zM426 258h1v1h-1zM444 258h1v1h-1zM367 259h2v1h-2zM408 259h1v1h-1zM414 259h2v1h-2zM418 259h1v1h-1zM421 259h2v1h-2zM428 259h1v1h-1zM437 259h1v1h-1zM449 259h1v1h-1zM364 260h1v1h-1zM412 260h3v1h-3zM416 260h1v1h-1zM421 260h4v1h-4zM426 260h3v1h-3zM440 260h2v1h-2zM366 261h2v1h-2zM410 261h2v1h-2zM414 261h1v1h-1zM416 261h1v1h-1zM419 261h1v1h-1zM421 261h1v1h-1zM423 261h1v1h-1zM429 261h1v1h-1zM365 262h1v1h-1zM407 262h1v1h-1zM409 262h4v1h-4zM414 262h2v1h-2zM417 262h1v1h-1zM420 262h1v1h-1zM424 262h1v1h-1zM428 262h1v1h-1zM431 262h1v1h-1zM366 263h1v1h-1zM407 263h3v1h-3zM414 263h4v1h-4zM420 263h2v1h-2zM424 263h1v1h-1zM427 263h1v1h-1zM429 263h2v1h-2zM366 264h1v1h-1zM405 264h1v1h-1zM407 264h2v1h-2zM411 264h3v1h-3zM415 264h2v1h-2zM419 264h1v1h-1zM421 264h1v1h-1zM423 264h2v1h-2zM426 264h1v1h-1zM428 264h2v1h-2zM441 264h1v1h-1zM443 264h1v1h-1zM365 265h1v1h-1zM404 265h1v1h-1zM406 265h3v1h-3zM410 265h1v1h-1zM412 265h3v1h-3zM420 265h1v1h-1zM424 265h2v1h-2zM364 266h1v1h-1zM404 266h1v1h-1zM406 266h1v1h-1zM411 266h1v1h-1zM418 266h2v1h-2zM424 266h2v1h-2zM429 266h1v1h-1zM442 266h1v1h-1zM365 267h1v1h-1zM404 267h2v1h-2zM409 267h2v1h-2zM418 267h1v1h-1zM420 267h1v1h-1zM423 267h3v1h-3zM427 267h1v1h-1zM430 267h1v1h-1zM447 267h1v1h-1zM363 268h3v1h-3zM403 268h1v1h-1zM409 268h1v1h-1zM417 268h2v1h-2zM421 268h1v1h-1zM423 268h1v1h-1zM429 268h1v1h-1zM409 269h1v1h-1zM411 269h1v1h-1zM417 269h2v1h-2zM421 269h1v1h-1zM424 269h1v1h-1zM427 269h1v1h-1zM432 269h1v1h-1zM365 270h1v1h-1zM404 270h3v1h-3zM411 270h1v1h-1zM415 270h1v1h-1zM418 270h1v1h-1zM424 270h1v1h-1zM427 270h2v1h-2zM363 271h1v1h-1zM404 271h1v1h-1zM406 271h1v1h-1zM410 271h1v1h-1zM412 271h1v1h-1zM414 271h1v1h-1zM417 271h1v1h-1zM421 271h1v1h-1zM423 271h1v1h-1zM425 271h2v1h-2zM363 272h1v1h-1zM406 272h1v1h-1zM408 272h1v1h-1zM412 272h2v1h-2zM420 272h1v1h-1zM424 272h1v1h-1zM426 272h1v1h-1zM428 272h1v1h-1zM363 273h1v1h-1zM401 273h1v1h-1zM403 273h1v1h-1zM405 273h2v1h-2zM408 273h1v1h-1zM410 273h1v1h-1zM421 273h2v1h-2zM424 273h1v1h-1zM426 273h1v1h-1zM428 273h1v1h-1zM430 273h1v1h-1zM364 274h1v1h-1zM404 274h1v1h-1zM406 274h3v1h-3zM413 274h4v1h-4zM423 274h1v1h-1zM425 274h1v1h-1zM427 274h1v1h-1zM429 274h3v1h-3zM436 274h1v1h-1zM364 275h1v1h-1zM402 275h2v1h-2zM405 275h1v1h-1zM411 275h1v1h-1zM414 275h1v1h-1zM417 275h1v1h-1zM422 275h1v1h-1zM425 275h1v1h-1zM442 275h1v1h-1zM404 276h1v1h-1zM406 276h1v1h-1zM408 276h1v1h-1zM410 276h2v1h-2zM425 276h1v1h-1zM429 276h1v1h-1zM404 277h1v1h-1zM406 277h2v1h-2zM417 277h2v1h-2zM423 277h1v1h-1zM427 277h1v1h-1zM430 277h1v1h-1zM363 278h2v1h-2zM402 278h1v1h-1zM405 278h2v1h-2zM408 278h2v1h-2zM414 278h3v1h-3zM418 278h1v1h-1zM420 278h1v1h-1zM425 278h1v1h-1zM402 279h1v1h-1zM405 279h1v1h-1zM410 279h1v1h-1zM418 279h1v1h-1zM425 279h1v1h-1zM400 280h1v1h-1zM402 280h2v1h-2zM412 280h1v1h-1zM415 280h1v1h-1zM418 280h1v1h-1zM423 280h1v1h-1zM426 280h1v1h-1zM363 281h2v1h-2zM402 281h1v1h-1zM405 281h1v1h-1zM411 281h1v1h-1zM413 281h1v1h-1zM415 281h2v1h-2zM418 281h1v1h-1zM420 281h1v1h-1zM422 281h1v1h-1zM424 281h1v1h-1zM426 281h1v1h-1zM401 282h5v1h-5zM411 282h1v1h-1zM414 282h1v1h-1zM418 282h1v1h-1zM421 282h2v1h-2zM364 283h1v1h-1zM405 283h1v1h-1zM407 283h1v1h-1zM415 283h2v1h-2zM419 283h2v1h-2zM423 283h1v1h-1zM402 284h2v1h-2zM405 284h2v1h-2zM408 284h2v1h-2zM412 284h2v1h-2zM417 284h4v1h-4zM425 284h1v1h-1zM367 285h1v1h-1zM400 285h1v1h-1zM402 285h1v1h-1zM404 285h1v1h-1zM410 285h1v1h-1zM413 285h2v1h-2zM417 285h1v1h-1zM419 285h2v1h-2zM422 285h2v1h-2zM426 285h2v1h-2zM364 286h1v1h-1zM402 286h3v1h-3zM406 286h1v1h-1zM415 286h1v1h-1zM418 286h1v1h-1zM420 286h1v1h-1zM423 286h1v1h-1zM400 287h1v1h-1zM408 287h1v1h-1zM414 287h4v1h-4zM423 287h1v1h-1zM400 288h1v1h-1zM403 288h2v1h-2zM407 288h1v1h-1zM411 288h1v1h-1zM417 288h1v1h-1zM420 288h2v1h-2zM423 288h1v1h-1zM403 289h1v1h-1zM405 289h1v1h-1zM409 289h1v1h-1zM417 289h1v1h-1zM426 289h1v1h-1zM429 289h1v1h-1zM402 290h1v1h-1zM404 290h3v1h-3zM411 290h2v1h-2zM415 290h4v1h-4zM421 290h3v1h-3zM425 290h1v1h-1zM401 291h1v1h-1zM404 291h1v1h-1zM406 291h2v1h-2zM409 291h1v1h-1zM411 291h2v1h-2zM415 291h1v1h-1zM418 291h1v1h-1zM420 291h1v1h-1zM426 291h1v1h-1zM395 292h1v1h-1zM400 292h2v1h-2zM406 292h1v1h-1zM410 292h2v1h-2zM413 292h2v1h-2zM417 292h2v1h-2zM420 292h1v1h-1zM397 293h1v1h-1zM400 293h2v1h-2zM403 293h1v1h-1zM405 293h2v1h-2zM408 293h1v1h-1zM411 293h2v1h-2zM415 293h2v1h-2zM422 293h1v1h-1zM425 293h1v1h-1zM366 294h4v1h-4zM395 294h1v1h-1zM401 294h1v1h-1zM406 294h1v1h-1zM410 294h4v1h-4zM419 294h1v1h-1zM396 295h2v1h-2zM400 295h1v1h-1zM405 295h1v1h-1zM408 295h1v1h-1zM410 295h1v1h-1zM415 295h1v1h-1zM417 295h2v1h-2zM367 296h1v1h-1zM369 296h1v1h-1zM371 296h1v1h-1zM391 296h1v1h-1zM393 296h1v1h-1zM398 296h7v1h-7zM407 296h3v1h-3zM413 296h1v1h-1zM417 296h1v1h-1zM419 296h1v1h-1zM371 297h3v1h-3zM375 297h1v1h-1zM379 297h1v1h-1zM383 297h1v1h-1zM390 297h1v1h-1zM406 297h2v1h-2zM410 297h1v1h-1zM412 297h2v1h-2zM418 297h1v1h-1zM372 298h1v1h-1zM374 298h1v1h-1zM376 298h1v1h-1zM386 298h1v1h-1zM390 298h1v1h-1zM396 298h2v1h-2zM400 298h1v1h-1zM402 298h1v1h-1zM405 298h1v1h-1zM411 298h1v1h-1zM414 298h1v1h-1zM373 299h1v1h-1zM376 299h1v1h-1zM379 299h1v1h-1zM382 299h1v1h-1zM385 299h1v1h-1zM388 299h2v1h-2zM400 299h1v1h-1zM405 299h4v1h-4zM411 299h1v1h-1zM417 299h1v1h-1zM396 300h1v1h-1zM404 300h1v1h-1zM406 300h1v1h-1zM403 301h1v1h-1zM410 301h1v1h-1z" fill="#8a8a8a"/><path d="M392 202h1v1h-1zM395 204h1v1h-1zM387 205h1v1h-1zM391 205h2v1h-2zM397 205h1v1h-1zM401 205h1v1h-1zM388 206h1v1h-1zM389 207h1v1h-1zM392 207h3v1h-3zM398 207h1v1h-1zM400 207h1v1h-1zM378 208h4v1h-4zM383 208h1v1h-1zM386 208h1v1h-1zM388 208h1v1h-1zM390 208h1v1h-1zM392 208h2v1h-2zM398 208h3v1h-3zM402 208h1v1h-1zM406 208h1v1h-1zM378 209h1v1h-1zM380 209h3v1h-3zM388 209h1v1h-1zM390 209h2v1h-2zM394 209h1v1h-1zM402 209h1v1h-1zM404 209h1v1h-1zM406 209h1v1h-1zM378 210h1v1h-1zM382 210h11v1h-11zM394 210h1v1h-1zM396 210h1v1h-1zM398 210h1v1h-1zM400 210h3v1h-3zM404 210h2v1h-2zM408 210h1v1h-1zM378 211h2v1h-2zM381 211h1v1h-1zM386 211h1v1h-1zM389 211h1v1h-1zM393 211h4v1h-4zM398 211h1v1h-1zM400 211h1v1h-1zM403 211h1v1h-1zM405 211h2v1h-2zM375 212h1v1h-1zM384 212h2v1h-2zM387 212h1v1h-1zM390 212h1v1h-1zM393 212h2v1h-2zM397 212h2v1h-2zM400 212h1v1h-1zM403 212h1v1h-1zM406 212h1v1h-1zM408 212h5v1h-5zM374 213h1v1h-1zM377 213h1v1h-1zM379 213h2v1h-2zM384 213h1v1h-1zM386 213h1v1h-1zM389 213h1v1h-1zM391 213h1v1h-1zM395 213h1v1h-1zM400 213h1v1h-1zM402 213h1v1h-1zM408 213h1v1h-1zM413 213h1v1h-1zM374 214h1v1h-1zM377 214h1v1h-1zM379 214h4v1h-4zM385 214h1v1h-1zM387 214h1v1h-1zM390 214h1v1h-1zM399 214h1v1h-1zM402 214h3v1h-3zM408 214h3v1h-3zM372 215h1v1h-1zM378 215h1v1h-1zM382 215h2v1h-2zM387 215h1v1h-1zM390 215h1v1h-1zM393 215h1v1h-1zM395 215h1v1h-1zM403 215h1v1h-1zM408 215h3v1h-3zM414 215h2v1h-2zM370 216h1v1h-1zM375 216h2v1h-2zM381 216h2v1h-2zM385 216h2v1h-2zM388 216h3v1h-3zM394 216h1v1h-1zM398 216h1v1h-1zM402 216h3v1h-3zM409 216h1v1h-1zM412 216h1v1h-1zM369 217h1v1h-1zM371 217h2v1h-2zM375 217h2v1h-2zM378 217h1v1h-1zM381 217h2v1h-2zM385 217h2v1h-2zM388 217h1v1h-1zM390 217h1v1h-1zM394 217h1v1h-1zM405 217h5v1h-5zM411 217h2v1h-2zM370 218h1v1h-1zM372 218h1v1h-1zM374 218h1v1h-1zM376 218h1v1h-1zM379 218h1v1h-1zM381 218h1v1h-1zM384 218h1v1h-1zM388 218h1v1h-1zM390 218h3v1h-3zM399 218h1v1h-1zM402 218h1v1h-1zM405 218h1v1h-1zM407 218h2v1h-2zM410 218h4v1h-4zM415 218h1v1h-1zM368 219h1v1h-1zM370 219h1v1h-1zM373 219h1v1h-1zM375 219h1v1h-1zM379 219h1v1h-1zM381 219h2v1h-2zM389 219h1v1h-1zM391 219h7v1h-7zM399 219h1v1h-1zM401 219h1v1h-1zM408 219h2v1h-2zM411 219h1v1h-1zM413 219h1v1h-1zM370 220h2v1h-2zM375 220h1v1h-1zM378 220h1v1h-1zM383 220h2v1h-2zM388 220h1v1h-1zM390 220h1v1h-1zM394 220h1v1h-1zM396 220h1v1h-1zM399 220h1v1h-1zM402 220h1v1h-1zM404 220h2v1h-2zM407 220h1v1h-1zM411 220h2v1h-2zM370 221h1v1h-1zM373 221h3v1h-3zM377 221h1v1h-1zM379 221h1v1h-1zM382 221h2v1h-2zM385 221h2v1h-2zM388 221h2v1h-2zM391 221h1v1h-1zM394 221h1v1h-1zM396 221h5v1h-5zM402 221h1v1h-1zM407 221h1v1h-1zM409 221h1v1h-1zM412 221h1v1h-1zM416 221h1v1h-1zM370 222h1v1h-1zM374 222h2v1h-2zM377 222h1v1h-1zM379 222h4v1h-4zM384 222h1v1h-1zM387 222h3v1h-3zM397 222h1v1h-1zM399 222h1v1h-1zM404 222h1v1h-1zM408 222h1v1h-1zM411 222h1v1h-1zM414 222h2v1h-2zM374 223h1v1h-1zM376 223h1v1h-1zM387 223h1v1h-1zM392 223h1v1h-1zM394 223h1v1h-1zM400 223h2v1h-2zM403 223h1v1h-1zM405 223h1v1h-1zM408 223h1v1h-1zM410 223h1v1h-1zM413 223h1v1h-1zM415 223h1v1h-1zM370 224h1v1h-1zM373 224h2v1h-2zM379 224h1v1h-1zM382 224h1v1h-1zM384 224h1v1h-1zM386 224h1v1h-1zM389 224h2v1h-2zM392 224h1v1h-1zM394 224h1v1h-1zM397 224h1v1h-1zM405 224h1v1h-1zM407 224h2v1h-2zM411 224h1v1h-1zM414 224h1v1h-1zM417 224h1v1h-1zM370 225h2v1h-2zM376 225h4v1h-4zM385 225h1v1h-1zM392 225h1v1h-1zM394 225h1v1h-1zM397 225h1v1h-1zM402 225h1v1h-1zM407 225h2v1h-2zM411 225h2v1h-2zM417 225h1v1h-1zM371 226h1v1h-1zM373 226h3v1h-3zM377 226h1v1h-1zM381 226h1v1h-1zM390 226h1v1h-1zM393 226h3v1h-3zM397 226h2v1h-2zM401 226h1v1h-1zM404 226h2v1h-2zM410 226h2v1h-2zM413 226h2v1h-2zM416 226h2v1h-2zM369 227h2v1h-2zM374 227h1v1h-1zM380 227h1v1h-1zM386 227h2v1h-2zM396 227h1v1h-1zM398 227h1v1h-1zM401 227h1v1h-1zM404 227h1v1h-1zM408 227h1v1h-1zM410 227h4v1h-4zM415 227h3v1h-3zM370 228h1v1h-1zM372 228h4v1h-4zM378 228h1v1h-1zM380 228h2v1h-2zM385 228h1v1h-1zM388 228h1v1h-1zM405 228h1v1h-1zM407 228h4v1h-4zM415 228h1v1h-1zM417 228h1v1h-1zM419 228h1v1h-1zM368 229h9v1h-9zM380 229h1v1h-1zM395 229h1v1h-1zM403 229h4v1h-4zM411 229h1v1h-1zM413 229h2v1h-2zM416 229h1v1h-1zM370 230h1v1h-1zM375 230h1v1h-1zM379 230h2v1h-2zM382 230h3v1h-3zM411 230h2v1h-2zM414 230h2v1h-2zM369 231h2v1h-2zM373 231h1v1h-1zM375 231h3v1h-3zM382 231h1v1h-1zM398 231h1v1h-1zM401 231h1v1h-1zM403 231h1v1h-1zM407 231h4v1h-4zM413 231h3v1h-3zM417 231h1v1h-1zM371 232h4v1h-4zM376 232h1v1h-1zM382 232h2v1h-2zM400 232h1v1h-1zM404 232h1v1h-1zM410 232h1v1h-1zM413 232h1v1h-1zM368 233h1v1h-1zM372 233h1v1h-1zM375 233h1v1h-1zM394 233h1v1h-1zM404 233h1v1h-1zM406 233h1v1h-1zM409 233h4v1h-4zM414 233h1v1h-1zM416 233h1v1h-1zM441 233h1v1h-1zM368 234h1v1h-1zM370 234h1v1h-1zM372 234h1v1h-1zM374 234h3v1h-3zM391 234h1v1h-1zM398 234h1v1h-1zM404 234h1v1h-1zM408 234h1v1h-1zM412 234h1v1h-1zM414 234h1v1h-1zM416 234h1v1h-1zM441 234h1v1h-1zM369 235h1v1h-1zM371 235h1v1h-1zM383 235h1v1h-1zM386 235h1v1h-1zM392 235h1v1h-1zM394 235h2v1h-2zM405 235h1v1h-1zM415 235h1v1h-1zM423 235h1v1h-1zM368 236h3v1h-3zM373 236h3v1h-3zM388 236h1v1h-1zM402 236h1v1h-1zM408 236h1v1h-1zM410 236h1v1h-1zM413 236h1v1h-1zM415 236h1v1h-1zM417 236h2v1h-2zM423 236h3v1h-3zM366 237h1v1h-1zM368 237h2v1h-2zM371 237h1v1h-1zM374 237h2v1h-2zM386 237h1v1h-1zM390 237h1v1h-1zM407 237h3v1h-3zM412 237h2v1h-2zM417 237h1v1h-1zM424 237h1v1h-1zM426 237h1v1h-1zM368 238h2v1h-2zM371 238h3v1h-3zM385 238h1v1h-1zM409 238h1v1h-1zM411 238h1v1h-1zM413 238h3v1h-3zM368 239h1v1h-1zM371 239h1v1h-1zM374 239h1v1h-1zM377 239h1v1h-1zM390 239h1v1h-1zM395 239h1v1h-1zM397 239h1v1h-1zM403 239h1v1h-1zM408 239h2v1h-2zM412 239h1v1h-1zM425 239h1v1h-1zM370 240h1v1h-1zM372 240h2v1h-2zM375 240h2v1h-2zM381 240h3v1h-3zM395 240h1v1h-1zM398 240h1v1h-1zM425 240h1v1h-1zM368 241h2v1h-2zM373 241h2v1h-2zM376 241h1v1h-1zM383 241h1v1h-1zM386 241h1v1h-1zM399 241h1v1h-1zM402 241h1v1h-1zM407 241h1v1h-1zM366 242h1v1h-1zM369 242h1v1h-1zM374 242h1v1h-1zM376 242h1v1h-1zM383 242h1v1h-1zM403 242h2v1h-2zM425 242h2v1h-2zM368 243h2v1h-2zM371 243h2v1h-2zM374 243h1v1h-1zM378 243h1v1h-1zM391 243h2v1h-2zM399 243h1v1h-1zM424 243h1v1h-1zM367 244h1v1h-1zM369 244h1v1h-1zM373 244h6v1h-6zM387 244h1v1h-1zM395 244h1v1h-1zM424 244h1v1h-1zM369 245h1v1h-1zM371 245h1v1h-1zM373 245h1v1h-1zM379 245h1v1h-1zM421 245h1v1h-1zM423 245h2v1h-2zM367 246h1v1h-1zM369 246h1v1h-1zM372 246h3v1h-3zM377 246h1v1h-1zM423 246h1v1h-1zM370 247h1v1h-1zM372 247h2v1h-2zM418 247h2v1h-2zM421 247h1v1h-1zM365 248h1v1h-1zM367 248h1v1h-1zM369 248h1v1h-1zM418 248h3v1h-3zM422 248h1v1h-1zM418 249h1v1h-1zM370 250h1v1h-1zM372 250h1v1h-1zM414 250h1v1h-1zM420 250h1v1h-1zM370 251h2v1h-2zM420 251h1v1h-1zM368 253h1v1h-1zM413 253h1v1h-1zM369 254h2v1h-2zM411 254h1v1h-1zM418 254h2v1h-2zM408 255h2v1h-2zM411 255h1v1h-1zM416 255h1v1h-1zM419 255h1v1h-1zM427 255h1v1h-1zM429 255h1v1h-1zM367 256h3v1h-3zM371 256h1v1h-1zM409 256h1v1h-1zM415 256h1v1h-1zM422 256h2v1h-2zM425 256h1v1h-1zM368 257h2v1h-2zM407 257h1v1h-1zM414 257h1v1h-1zM420 257h1v1h-1zM422 257h1v1h-1zM368 258h2v1h-2zM409 258h1v1h-1zM411 258h1v1h-1zM416 258h1v1h-1zM422 258h1v1h-1zM428 258h1v1h-1zM430 258h1v1h-1zM406 259h2v1h-2zM411 259h1v1h-1zM419 259h2v1h-2zM423 259h1v1h-1zM366 260h3v1h-3zM406 260h1v1h-1zM408 260h2v1h-2zM420 260h1v1h-1zM406 261h1v1h-1zM408 261h1v1h-1zM412 261h1v1h-1zM422 261h1v1h-1zM366 262h3v1h-3zM404 262h3v1h-3zM408 262h1v1h-1zM418 262h1v1h-1zM421 262h1v1h-1zM423 262h1v1h-1zM425 262h1v1h-1zM368 263h1v1h-1zM404 263h2v1h-2zM411 263h1v1h-1zM422 263h2v1h-2zM367 264h1v1h-1zM404 264h1v1h-1zM406 264h1v1h-1zM425 264h1v1h-1zM366 265h1v1h-1zM403 265h1v1h-1zM405 265h1v1h-1zM409 265h1v1h-1zM418 265h1v1h-1zM366 266h1v1h-1zM403 266h1v1h-1zM407 266h1v1h-1zM421 266h2v1h-2zM446 266h1v1h-1zM408 267h1v1h-1zM412 267h1v1h-1zM415 267h1v1h-1zM417 267h1v1h-1zM419 267h1v1h-1zM428 267h1v1h-1zM404 268h1v1h-1zM407 268h1v1h-1zM413 268h2v1h-2zM420 268h1v1h-1zM422 268h1v1h-1zM426 268h1v1h-1zM404 269h1v1h-1zM406 269h1v1h-1zM410 269h1v1h-1zM420 269h1v1h-1zM423 269h1v1h-1zM425 269h1v1h-1zM431 269h1v1h-1zM364 270h1v1h-1zM402 270h2v1h-2zM407 270h1v1h-1zM413 270h2v1h-2zM416 270h1v1h-1zM419 270h1v1h-1zM422 270h1v1h-1zM430 270h1v1h-1zM366 271h1v1h-1zM402 271h1v1h-1zM405 271h1v1h-1zM407 271h2v1h-2zM422 271h1v1h-1zM424 271h1v1h-1zM364 272h1v1h-1zM402 272h1v1h-1zM407 272h1v1h-1zM410 272h2v1h-2zM421 272h1v1h-1zM425 272h1v1h-1zM366 273h1v1h-1zM402 273h1v1h-1zM404 273h1v1h-1zM418 273h1v1h-1zM420 273h1v1h-1zM427 273h1v1h-1zM365 274h1v1h-1zM367 274h1v1h-1zM400 274h1v1h-1zM410 274h1v1h-1zM419 274h2v1h-2zM428 274h1v1h-1zM365 275h1v1h-1zM400 275h1v1h-1zM404 275h1v1h-1zM406 275h1v1h-1zM410 275h1v1h-1zM415 275h2v1h-2zM424 275h1v1h-1zM427 275h1v1h-1zM364 276h2v1h-2zM401 276h2v1h-2zM405 276h1v1h-1zM414 276h1v1h-1zM423 276h1v1h-1zM363 277h2v1h-2zM403 277h1v1h-1zM405 277h1v1h-1zM411 277h1v1h-1zM424 277h1v1h-1zM365 278h1v1h-1zM403 278h2v1h-2zM411 278h1v1h-1zM413 278h1v1h-1zM422 278h1v1h-1zM424 278h1v1h-1zM364 279h2v1h-2zM401 279h1v1h-1zM404 279h1v1h-1zM406 279h1v1h-1zM414 279h1v1h-1zM422 279h1v1h-1zM424 279h1v1h-1zM364 280h1v1h-1zM401 280h1v1h-1zM404 280h1v1h-1zM406 280h3v1h-3zM411 280h1v1h-1zM420 280h2v1h-2zM424 280h1v1h-1zM431 280h1v1h-1zM401 281h1v1h-1zM407 281h2v1h-2zM417 281h1v1h-1zM419 281h1v1h-1zM421 281h1v1h-1zM364 282h2v1h-2zM367 282h1v1h-1zM410 282h1v1h-1zM415 282h3v1h-3zM424 282h2v1h-2zM367 283h1v1h-1zM400 283h3v1h-3zM406 283h1v1h-1zM408 283h1v1h-1zM411 283h1v1h-1zM414 283h1v1h-1zM422 283h1v1h-1zM424 283h1v1h-1zM428 283h1v1h-1zM364 284h1v1h-1zM366 284h1v1h-1zM399 284h3v1h-3zM410 284h1v1h-1zM415 284h2v1h-2zM421 284h1v1h-1zM365 285h1v1h-1zM399 285h1v1h-1zM401 285h1v1h-1zM403 285h1v1h-1zM407 285h1v1h-1zM415 285h1v1h-1zM418 285h1v1h-1zM365 286h1v1h-1zM399 286h1v1h-1zM401 286h1v1h-1zM407 286h1v1h-1zM413 286h2v1h-2zM365 287h1v1h-1zM368 287h1v1h-1zM402 287h1v1h-1zM405 287h1v1h-1zM413 287h1v1h-1zM365 288h2v1h-2zM405 288h2v1h-2zM409 288h1v1h-1zM415 288h1v1h-1zM404 289h1v1h-1zM411 289h1v1h-1zM413 289h4v1h-4zM421 289h1v1h-1zM423 289h2v1h-2zM365 290h3v1h-3zM398 290h3v1h-3zM403 290h1v1h-1zM410 290h1v1h-1zM413 290h1v1h-1zM419 290h1v1h-1zM365 291h1v1h-1zM367 291h2v1h-2zM397 291h1v1h-1zM399 291h1v1h-1zM408 291h1v1h-1zM419 291h1v1h-1zM423 291h1v1h-1zM367 292h2v1h-2zM397 292h1v1h-1zM404 292h1v1h-1zM412 292h1v1h-1zM419 292h1v1h-1zM365 293h1v1h-1zM367 293h1v1h-1zM402 293h1v1h-1zM410 293h1v1h-1zM417 293h1v1h-1zM372 294h1v1h-1zM391 294h1v1h-1zM393 294h1v1h-1zM396 294h1v1h-1zM405 294h1v1h-1zM415 294h2v1h-2zM368 295h2v1h-2zM371 295h1v1h-1zM377 295h1v1h-1zM392 295h1v1h-1zM402 295h1v1h-1zM406 295h1v1h-1zM409 295h1v1h-1zM411 295h1v1h-1zM414 295h1v1h-1zM372 296h1v1h-1zM377 296h4v1h-4zM394 296h1v1h-1zM406 296h1v1h-1zM410 296h1v1h-1zM415 296h1v1h-1zM370 297h1v1h-1zM377 297h1v1h-1zM380 297h2v1h-2zM388 297h2v1h-2zM394 297h1v1h-1zM409 297h1v1h-1zM375 298h1v1h-1zM380 298h1v1h-1zM383 298h3v1h-3zM387 298h1v1h-1zM389 298h1v1h-1zM393 298h1v1h-1zM403 298h1v1h-1zM410 298h1v1h-1zM413 298h1v1h-1zM386 299h2v1h-2zM390 299h1v1h-1zM399 299h1v1h-1zM398 300h1v1h-1zM414 300h1v1h-1z" fill="#484848"/><path d="M393 205h1v1h-1zM384 206h1v1h-1zM392 206h1v1h-1zM390 207h1v1h-1zM384 208h1v1h-1zM387 208h1v1h-1zM396 208h1v1h-1zM401 208h1v1h-1zM387 209h1v1h-1zM392 209h2v1h-2zM395 209h1v1h-1zM398 209h2v1h-2zM395 210h1v1h-1zM397 210h1v1h-1zM399 210h1v1h-1zM406 210h2v1h-2zM377 211h1v1h-1zM380 211h1v1h-1zM382 211h1v1h-1zM384 211h2v1h-2zM387 211h2v1h-2zM390 211h3v1h-3zM397 211h1v1h-1zM401 211h1v1h-1zM404 211h1v1h-1zM372 212h1v1h-1zM380 212h2v1h-2zM388 212h2v1h-2zM391 212h2v1h-2zM396 212h1v1h-1zM399 212h1v1h-1zM401 212h1v1h-1zM404 212h2v1h-2zM378 213h1v1h-1zM382 213h1v1h-1zM385 213h1v1h-1zM387 213h2v1h-2zM390 213h1v1h-1zM393 213h1v1h-1zM396 213h4v1h-4zM403 213h5v1h-5zM409 213h2v1h-2zM373 214h1v1h-1zM375 214h1v1h-1zM378 214h1v1h-1zM384 214h1v1h-1zM386 214h1v1h-1zM389 214h1v1h-1zM392 214h6v1h-6zM400 214h1v1h-1zM405 214h3v1h-3zM373 215h2v1h-2zM376 215h1v1h-1zM379 215h1v1h-1zM381 215h1v1h-1zM384 215h3v1h-3zM388 215h2v1h-2zM391 215h2v1h-2zM396 215h1v1h-1zM398 215h5v1h-5zM404 215h3v1h-3zM411 215h1v1h-1zM373 216h2v1h-2zM377 216h4v1h-4zM384 216h1v1h-1zM387 216h1v1h-1zM391 216h3v1h-3zM395 216h3v1h-3zM399 216h3v1h-3zM407 216h2v1h-2zM410 216h2v1h-2zM373 217h2v1h-2zM379 217h2v1h-2zM384 217h1v1h-1zM387 217h1v1h-1zM389 217h1v1h-1zM392 217h2v1h-2zM395 217h7v1h-7zM403 217h2v1h-2zM369 218h1v1h-1zM375 218h1v1h-1zM377 218h2v1h-2zM382 218h2v1h-2zM385 218h3v1h-3zM389 218h1v1h-1zM393 218h4v1h-4zM401 218h1v1h-1zM403 218h2v1h-2zM406 218h1v1h-1zM409 218h1v1h-1zM372 219h1v1h-1zM376 219h2v1h-2zM383 219h6v1h-6zM390 219h1v1h-1zM398 219h1v1h-1zM400 219h1v1h-1zM402 219h2v1h-2zM405 219h3v1h-3zM410 219h1v1h-1zM412 219h1v1h-1zM369 220h1v1h-1zM372 220h3v1h-3zM376 220h1v1h-1zM380 220h3v1h-3zM385 220h3v1h-3zM389 220h1v1h-1zM392 220h2v1h-2zM395 220h1v1h-1zM397 220h2v1h-2zM400 220h2v1h-2zM410 220h1v1h-1zM371 221h1v1h-1zM378 221h1v1h-1zM380 221h2v1h-2zM384 221h1v1h-1zM387 221h1v1h-1zM390 221h1v1h-1zM392 221h1v1h-1zM395 221h1v1h-1zM401 221h1v1h-1zM403 221h4v1h-4zM408 221h1v1h-1zM414 221h1v1h-1zM417 221h1v1h-1zM371 222h3v1h-3zM376 222h1v1h-1zM378 222h1v1h-1zM383 222h1v1h-1zM385 222h1v1h-1zM390 222h3v1h-3zM394 222h3v1h-3zM398 222h1v1h-1zM400 222h4v1h-4zM405 222h3v1h-3zM409 222h1v1h-1zM412 222h2v1h-2zM370 223h2v1h-2zM373 223h1v1h-1zM375 223h1v1h-1zM377 223h4v1h-4zM383 223h1v1h-1zM385 223h2v1h-2zM388 223h4v1h-4zM395 223h5v1h-5zM402 223h1v1h-1zM404 223h1v1h-1zM406 223h2v1h-2zM409 223h1v1h-1zM411 223h1v1h-1zM372 224h1v1h-1zM375 224h4v1h-4zM380 224h2v1h-2zM383 224h1v1h-1zM385 224h1v1h-1zM387 224h1v1h-1zM391 224h1v1h-1zM393 224h1v1h-1zM395 224h1v1h-1zM398 224h2v1h-2zM401 224h4v1h-4zM406 224h1v1h-1zM409 224h1v1h-1zM412 224h2v1h-2zM416 224h1v1h-1zM367 225h1v1h-1zM373 225h3v1h-3zM380 225h2v1h-2zM383 225h2v1h-2zM386 225h6v1h-6zM393 225h1v1h-1zM395 225h1v1h-1zM398 225h4v1h-4zM403 225h1v1h-1zM405 225h2v1h-2zM409 225h1v1h-1zM413 225h1v1h-1zM415 225h1v1h-1zM370 226h1v1h-1zM372 226h1v1h-1zM378 226h3v1h-3zM382 226h7v1h-7zM391 226h2v1h-2zM396 226h1v1h-1zM399 226h2v1h-2zM402 226h1v1h-1zM406 226h2v1h-2zM409 226h1v1h-1zM412 226h1v1h-1zM376 227h2v1h-2zM379 227h1v1h-1zM382 227h2v1h-2zM385 227h1v1h-1zM388 227h8v1h-8zM397 227h1v1h-1zM399 227h2v1h-2zM402 227h2v1h-2zM406 227h2v1h-2zM409 227h1v1h-1zM414 227h1v1h-1zM371 228h1v1h-1zM376 228h2v1h-2zM379 228h1v1h-1zM382 228h3v1h-3zM386 228h2v1h-2zM389 228h13v1h-13zM403 228h2v1h-2zM406 228h1v1h-1zM411 228h3v1h-3zM377 229h3v1h-3zM381 229h14v1h-14zM396 229h7v1h-7zM409 229h2v1h-2zM412 229h1v1h-1zM371 230h4v1h-4zM376 230h1v1h-1zM378 230h1v1h-1zM381 230h1v1h-1zM385 230h26v1h-26zM413 230h1v1h-1zM368 231h1v1h-1zM372 231h1v1h-1zM374 231h1v1h-1zM378 231h4v1h-4zM383 231h15v1h-15zM399 231h2v1h-2zM402 231h1v1h-1zM404 231h3v1h-3zM411 231h2v1h-2zM377 232h5v1h-5zM384 232h16v1h-16zM401 232h3v1h-3zM405 232h3v1h-3zM411 232h2v1h-2zM414 232h1v1h-1zM370 233h2v1h-2zM373 233h2v1h-2zM376 233h18v1h-18zM395 233h9v1h-9zM405 233h1v1h-1zM407 233h2v1h-2zM413 233h1v1h-1zM373 234h1v1h-1zM377 234h14v1h-14zM392 234h6v1h-6zM399 234h5v1h-5zM405 234h3v1h-3zM410 234h2v1h-2zM413 234h1v1h-1zM415 234h1v1h-1zM370 235h1v1h-1zM373 235h10v1h-10zM384 235h2v1h-2zM387 235h5v1h-5zM393 235h1v1h-1zM396 235h9v1h-9zM406 235h3v1h-3zM410 235h1v1h-1zM412 235h2v1h-2zM416 235h1v1h-1zM419 235h1v1h-1zM377 236h11v1h-11zM389 236h13v1h-13zM403 236h5v1h-5zM411 236h1v1h-1zM414 236h1v1h-1zM419 236h4v1h-4zM370 237h1v1h-1zM372 237h2v1h-2zM376 237h10v1h-10zM387 237h3v1h-3zM391 237h16v1h-16zM410 237h1v1h-1zM414 237h1v1h-1zM416 237h1v1h-1zM418 237h6v1h-6zM370 238h1v1h-1zM374 238h11v1h-11zM386 238h23v1h-23zM410 238h1v1h-1zM412 238h1v1h-1zM416 238h10v1h-10zM372 239h2v1h-2zM375 239h2v1h-2zM378 239h12v1h-12zM391 239h4v1h-4zM396 239h1v1h-1zM398 239h5v1h-5zM404 239h4v1h-4zM410 239h2v1h-2zM413 239h12v1h-12zM426 239h2v1h-2zM369 240h1v1h-1zM371 240h1v1h-1zM374 240h1v1h-1zM377 240h4v1h-4zM384 240h11v1h-11zM397 240h1v1h-1zM399 240h26v1h-26zM426 240h2v1h-2zM370 241h2v1h-2zM375 241h1v1h-1zM377 241h6v1h-6zM384 241h2v1h-2zM387 241h12v1h-12zM400 241h2v1h-2zM403 241h4v1h-4zM408 241h18v1h-18zM371 242h3v1h-3zM375 242h1v1h-1zM377 242h6v1h-6zM384 242h19v1h-19zM405 242h20v1h-20zM370 243h1v1h-1zM373 243h1v1h-1zM375 243h3v1h-3zM379 243h12v1h-12zM393 243h6v1h-6zM400 243h24v1h-24zM425 243h1v1h-1zM371 244h1v1h-1zM379 244h8v1h-8zM388 244h7v1h-7zM396 244h28v1h-28zM370 245h1v1h-1zM372 245h1v1h-1zM374 245h4v1h-4zM380 245h4v1h-4zM385 245h36v1h-36zM422 245h1v1h-1zM370 246h2v1h-2zM375 246h2v1h-2zM378 246h45v1h-45zM424 246h2v1h-2zM371 247h1v1h-1zM374 247h44v1h-44zM420 247h1v1h-1zM372 248h46v1h-46zM369 249h1v1h-1zM372 249h46v1h-46zM373 250h41v1h-41zM415 250h2v1h-2zM418 250h1v1h-1zM372 251h45v1h-45zM371 252h45v1h-45zM371 253h42v1h-42zM421 253h1v1h-1zM371 254h40v1h-40zM417 254h1v1h-1zM370 255h38v1h-38zM410 255h1v1h-1zM415 255h1v1h-1zM370 256h1v1h-1zM372 256h37v1h-37zM410 256h1v1h-1zM370 257h37v1h-37zM408 257h1v1h-1zM410 257h1v1h-1zM415 257h1v1h-1zM425 257h1v1h-1zM370 258h37v1h-37zM413 258h1v1h-1zM421 258h1v1h-1zM369 259h37v1h-37zM424 259h1v1h-1zM369 260h37v1h-37zM410 260h1v1h-1zM368 261h38v1h-38zM425 261h1v1h-1zM369 262h35v1h-35zM367 263h1v1h-1zM369 263h35v1h-35zM365 264h1v1h-1zM368 264h36v1h-36zM420 264h1v1h-1zM367 265h36v1h-36zM422 265h1v1h-1zM365 266h1v1h-1zM367 266h36v1h-36zM414 266h1v1h-1zM366 267h38v1h-38zM366 268h37v1h-37zM406 268h1v1h-1zM419 268h1v1h-1zM366 269h38v1h-38zM419 269h1v1h-1zM366 270h36v1h-36zM364 271h1v1h-1zM367 271h35v1h-35zM403 271h1v1h-1zM411 271h1v1h-1zM366 272h36v1h-36zM403 272h1v1h-1zM422 272h1v1h-1zM427 272h1v1h-1zM365 273h1v1h-1zM367 273h34v1h-34zM411 273h1v1h-1zM366 274h1v1h-1zM368 274h32v1h-32zM401 274h2v1h-2zM418 274h1v1h-1zM422 274h1v1h-1zM366 275h34v1h-34zM401 275h1v1h-1zM366 276h35v1h-35zM407 276h1v1h-1zM416 276h1v1h-1zM418 276h1v1h-1zM365 277h38v1h-38zM425 277h1v1h-1zM366 278h36v1h-36zM423 278h1v1h-1zM363 279h1v1h-1zM366 279h35v1h-35zM403 279h1v1h-1zM415 279h1v1h-1zM365 280h35v1h-35zM365 281h36v1h-36zM366 282h1v1h-1zM368 282h33v1h-33zM365 283h2v1h-2zM368 283h32v1h-32zM365 284h1v1h-1zM367 284h32v1h-32zM414 284h1v1h-1zM366 285h1v1h-1zM368 285h31v1h-31zM366 286h33v1h-33zM412 286h1v1h-1zM422 286h1v1h-1zM366 287h2v1h-2zM369 287h30v1h-30zM406 287h1v1h-1zM367 288h32v1h-32zM408 288h1v1h-1zM416 288h1v1h-1zM366 289h33v1h-33zM368 290h30v1h-30zM407 290h1v1h-1zM369 291h28v1h-28zM369 292h26v1h-26zM396 292h1v1h-1zM368 293h29v1h-29zM370 294h2v1h-2zM373 294h18v1h-18zM392 294h1v1h-1zM420 294h1v1h-1zM370 295h1v1h-1zM372 295h5v1h-5zM378 295h14v1h-14zM393 295h1v1h-1zM395 295h1v1h-1zM374 296h3v1h-3zM381 296h10v1h-10zM376 297h1v1h-1zM378 297h1v1h-1zM382 297h1v1h-1zM384 297h4v1h-4zM377 298h3v1h-3zM381 298h2v1h-2zM388 298h1v1h-1zM406 298h1v1h-1z" fill="#000"/>
<rect x="362.1" y="197.8" width="120.6" height="105.4" fill="none" stroke="#777" stroke-width="1"/>
<path d="M361.9 197.3V303.7H483" fill="none" stroke="#222" stroke-width="1.2"/>
<rect x="366.3" y="200.7" width="51.6" height="22.6" fill="none" stroke="#7a7a7a" stroke-width="1"/>
<rect x="429.4" y="214.7" width="23.1" height="67.4" fill="none" stroke="#7a7a7a" stroke-width="1"/>
<text transform="translate(359,245.8) rotate(-90)" style="font-size:10.4px;text-anchor:middle">CD11c APC</text>
<text x="388.8" y="314" style="font-size:10.8px">PDCA-1 V450</text>
<g fill="none" stroke="#111" stroke-width="1.7"><path d="M355.1 279.6V310.4H384.9"/><path d="M351.7 285.4L355.1 279.4L358.5 285.4"/><path d="M379.6 307L385.6 310.4L379.6 313.8"/></g>
<text class="pl" x="344.3" y="548.2">J</text>
<text x="361.1" y="544.6" style="font-size:9.4px">CD11c</text>
<text x="361.1" y="556.2" style="font-size:9.4px">0.42%</text>
<text x="454.6" y="568.8" style="font-size:9px">PDC</text>
<text x="454.6" y="579.8" style="font-size:8.8px">1.27%</text>
<path d="M394 561h1v1h-1zM402 561h1v1h-1zM404 561h2v1h-2zM400 562h1v1h-1zM402 562h1v1h-1zM404 562h1v1h-1zM394 563h3v1h-3zM399 563h1v1h-1zM402 563h3v1h-3zM394 564h1v1h-1zM400 564h2v1h-2zM406 564h2v1h-2zM409 564h1v1h-1zM452 564h1v1h-1zM396 565h5v1h-5zM404 565h1v1h-1zM406 565h1v1h-1zM395 566h1v1h-1zM405 566h1v1h-1zM474 566h1v1h-1zM389 567h1v1h-1zM408 567h1v1h-1zM422 567h1v1h-1zM381 568h1v1h-1zM385 568h1v1h-1zM392 568h1v1h-1zM395 568h1v1h-1zM397 568h1v1h-1zM408 568h2v1h-2zM376 569h2v1h-2zM379 569h1v1h-1zM385 569h1v1h-1zM387 569h4v1h-4zM393 569h4v1h-4zM421 569h1v1h-1zM432 569h1v1h-1zM378 570h1v1h-1zM380 570h1v1h-1zM382 570h1v1h-1zM386 570h2v1h-2zM398 570h1v1h-1zM403 570h1v1h-1zM406 570h2v1h-2zM362 571h1v1h-1zM370 571h1v1h-1zM374 571h1v1h-1zM377 571h1v1h-1zM381 571h1v1h-1zM385 571h2v1h-2zM391 571h2v1h-2zM397 571h1v1h-1zM400 571h3v1h-3zM406 571h2v1h-2zM409 571h1v1h-1zM439 571h1v1h-1zM442 571h1v1h-1zM446 571h1v1h-1zM370 572h1v1h-1zM374 572h2v1h-2zM378 572h1v1h-1zM384 572h4v1h-4zM390 572h1v1h-1zM392 572h1v1h-1zM394 572h1v1h-1zM397 572h1v1h-1zM399 572h1v1h-1zM401 572h2v1h-2zM405 572h1v1h-1zM408 572h2v1h-2zM411 572h1v1h-1zM433 572h1v1h-1zM439 572h1v1h-1zM448 572h1v1h-1zM371 573h1v1h-1zM373 573h1v1h-1zM386 573h1v1h-1zM392 573h1v1h-1zM395 573h2v1h-2zM398 573h2v1h-2zM402 573h2v1h-2zM406 573h5v1h-5zM414 573h1v1h-1zM416 573h1v1h-1zM436 573h1v1h-1zM438 573h2v1h-2zM441 573h2v1h-2zM445 573h2v1h-2zM448 573h1v1h-1zM467 573h1v1h-1zM373 574h3v1h-3zM377 574h1v1h-1zM379 574h1v1h-1zM381 574h2v1h-2zM384 574h1v1h-1zM386 574h1v1h-1zM390 574h4v1h-4zM397 574h2v1h-2zM400 574h1v1h-1zM405 574h1v1h-1zM413 574h1v1h-1zM423 574h1v1h-1zM443 574h1v1h-1zM445 574h3v1h-3zM449 574h2v1h-2zM371 575h1v1h-1zM373 575h1v1h-1zM383 575h1v1h-1zM385 575h2v1h-2zM388 575h1v1h-1zM393 575h1v1h-1zM399 575h1v1h-1zM401 575h2v1h-2zM412 575h1v1h-1zM414 575h1v1h-1zM426 575h1v1h-1zM435 575h2v1h-2zM441 575h2v1h-2zM444 575h1v1h-1zM368 576h1v1h-1zM371 576h1v1h-1zM373 576h1v1h-1zM376 576h1v1h-1zM379 576h2v1h-2zM384 576h2v1h-2zM388 576h1v1h-1zM393 576h1v1h-1zM398 576h4v1h-4zM404 576h2v1h-2zM407 576h1v1h-1zM410 576h1v1h-1zM413 576h1v1h-1zM421 576h2v1h-2zM425 576h1v1h-1zM432 576h2v1h-2zM436 576h1v1h-1zM438 576h1v1h-1zM442 576h1v1h-1zM445 576h6v1h-6zM363 577h1v1h-1zM369 577h1v1h-1zM376 577h8v1h-8zM386 577h2v1h-2zM394 577h1v1h-1zM400 577h1v1h-1zM402 577h2v1h-2zM412 577h2v1h-2zM416 577h2v1h-2zM424 577h1v1h-1zM432 577h1v1h-1zM435 577h1v1h-1zM439 577h1v1h-1zM442 577h1v1h-1zM444 577h1v1h-1zM449 577h1v1h-1zM453 577h1v1h-1zM472 577h1v1h-1zM373 578h1v1h-1zM375 578h2v1h-2zM378 578h1v1h-1zM385 578h1v1h-1zM387 578h1v1h-1zM392 578h3v1h-3zM397 578h2v1h-2zM404 578h1v1h-1zM406 578h3v1h-3zM411 578h1v1h-1zM414 578h1v1h-1zM416 578h1v1h-1zM421 578h2v1h-2zM424 578h1v1h-1zM426 578h1v1h-1zM429 578h1v1h-1zM432 578h1v1h-1zM434 578h1v1h-1zM439 578h1v1h-1zM451 578h1v1h-1zM460 578h1v1h-1zM362 579h1v1h-1zM365 579h1v1h-1zM369 579h2v1h-2zM374 579h7v1h-7zM385 579h1v1h-1zM390 579h1v1h-1zM392 579h1v1h-1zM394 579h2v1h-2zM397 579h1v1h-1zM399 579h2v1h-2zM402 579h1v1h-1zM404 579h1v1h-1zM409 579h1v1h-1zM411 579h2v1h-2zM414 579h1v1h-1zM416 579h2v1h-2zM422 579h1v1h-1zM425 579h2v1h-2zM429 579h1v1h-1zM431 579h1v1h-1zM436 579h1v1h-1zM447 579h1v1h-1zM450 579h1v1h-1zM452 579h2v1h-2zM455 579h1v1h-1zM368 580h1v1h-1zM371 580h3v1h-3zM377 580h2v1h-2zM381 580h1v1h-1zM384 580h3v1h-3zM388 580h4v1h-4zM393 580h1v1h-1zM395 580h4v1h-4zM400 580h7v1h-7zM411 580h2v1h-2zM415 580h7v1h-7zM423 580h3v1h-3zM427 580h1v1h-1zM431 580h2v1h-2zM448 580h1v1h-1zM450 580h3v1h-3zM366 581h1v1h-1zM368 581h1v1h-1zM370 581h4v1h-4zM375 581h1v1h-1zM381 581h1v1h-1zM391 581h2v1h-2zM395 581h1v1h-1zM397 581h2v1h-2zM403 581h1v1h-1zM409 581h1v1h-1zM411 581h2v1h-2zM415 581h1v1h-1zM417 581h4v1h-4zM423 581h2v1h-2zM426 581h1v1h-1zM433 581h1v1h-1zM436 581h1v1h-1zM451 581h3v1h-3zM362 582h1v1h-1zM364 582h1v1h-1zM370 582h1v1h-1zM372 582h1v1h-1zM375 582h1v1h-1zM378 582h1v1h-1zM380 582h2v1h-2zM384 582h1v1h-1zM386 582h1v1h-1zM388 582h2v1h-2zM392 582h1v1h-1zM395 582h1v1h-1zM397 582h2v1h-2zM400 582h1v1h-1zM402 582h1v1h-1zM408 582h1v1h-1zM411 582h2v1h-2zM414 582h4v1h-4zM419 582h1v1h-1zM423 582h3v1h-3zM430 582h1v1h-1zM449 582h2v1h-2zM365 583h2v1h-2zM368 583h2v1h-2zM373 583h1v1h-1zM376 583h2v1h-2zM380 583h2v1h-2zM383 583h1v1h-1zM389 583h1v1h-1zM397 583h1v1h-1zM401 583h1v1h-1zM403 583h1v1h-1zM405 583h1v1h-1zM410 583h1v1h-1zM412 583h1v1h-1zM416 583h1v1h-1zM420 583h2v1h-2zM426 583h1v1h-1zM429 583h3v1h-3zM451 583h1v1h-1zM364 584h3v1h-3zM369 584h2v1h-2zM373 584h3v1h-3zM377 584h2v1h-2zM381 584h2v1h-2zM384 584h1v1h-1zM386 584h1v1h-1zM388 584h2v1h-2zM395 584h3v1h-3zM401 584h1v1h-1zM403 584h2v1h-2zM409 584h1v1h-1zM411 584h1v1h-1zM413 584h1v1h-1zM415 584h2v1h-2zM422 584h1v1h-1zM425 584h2v1h-2zM450 584h2v1h-2zM453 584h2v1h-2zM362 585h1v1h-1zM366 585h1v1h-1zM371 585h3v1h-3zM379 585h2v1h-2zM385 585h4v1h-4zM391 585h2v1h-2zM396 585h1v1h-1zM398 585h1v1h-1zM401 585h1v1h-1zM409 585h3v1h-3zM417 585h1v1h-1zM420 585h5v1h-5zM427 585h1v1h-1zM431 585h1v1h-1zM450 585h1v1h-1zM362 586h1v1h-1zM365 586h1v1h-1zM367 586h1v1h-1zM371 586h1v1h-1zM373 586h1v1h-1zM378 586h1v1h-1zM384 586h1v1h-1zM387 586h1v1h-1zM389 586h2v1h-2zM392 586h1v1h-1zM395 586h1v1h-1zM397 586h1v1h-1zM401 586h3v1h-3zM408 586h1v1h-1zM414 586h1v1h-1zM416 586h4v1h-4zM421 586h4v1h-4zM426 586h1v1h-1zM430 586h1v1h-1zM362 587h1v1h-1zM366 587h1v1h-1zM370 587h1v1h-1zM372 587h1v1h-1zM375 587h1v1h-1zM377 587h6v1h-6zM385 587h2v1h-2zM388 587h1v1h-1zM390 587h3v1h-3zM396 587h2v1h-2zM399 587h2v1h-2zM402 587h2v1h-2zM410 587h2v1h-2zM414 587h3v1h-3zM421 587h2v1h-2zM424 587h2v1h-2zM450 587h1v1h-1zM365 588h1v1h-1zM367 588h3v1h-3zM373 588h3v1h-3zM377 588h2v1h-2zM382 588h1v1h-1zM385 588h2v1h-2zM388 588h2v1h-2zM394 588h3v1h-3zM398 588h5v1h-5zM409 588h4v1h-4zM414 588h2v1h-2zM417 588h3v1h-3zM424 588h1v1h-1zM450 588h1v1h-1zM454 588h1v1h-1zM363 589h3v1h-3zM372 589h1v1h-1zM376 589h1v1h-1zM380 589h1v1h-1zM382 589h1v1h-1zM385 589h1v1h-1zM387 589h1v1h-1zM390 589h2v1h-2zM396 589h1v1h-1zM401 589h1v1h-1zM403 589h2v1h-2zM406 589h1v1h-1zM410 589h2v1h-2zM413 589h4v1h-4zM421 589h3v1h-3zM450 589h1v1h-1zM363 590h1v1h-1zM366 590h4v1h-4zM372 590h1v1h-1zM375 590h2v1h-2zM380 590h1v1h-1zM386 590h1v1h-1zM388 590h1v1h-1zM393 590h1v1h-1zM395 590h1v1h-1zM398 590h1v1h-1zM400 590h2v1h-2zM403 590h1v1h-1zM411 590h3v1h-3zM415 590h3v1h-3zM419 590h1v1h-1zM421 590h1v1h-1zM423 590h1v1h-1zM428 590h1v1h-1zM449 590h2v1h-2zM365 591h1v1h-1zM367 591h1v1h-1zM369 591h1v1h-1zM374 591h1v1h-1zM376 591h1v1h-1zM379 591h4v1h-4zM385 591h2v1h-2zM389 591h2v1h-2zM398 591h3v1h-3zM402 591h1v1h-1zM405 591h1v1h-1zM407 591h2v1h-2zM412 591h1v1h-1zM417 591h3v1h-3zM421 591h2v1h-2zM446 591h5v1h-5zM452 591h1v1h-1zM365 592h1v1h-1zM367 592h1v1h-1zM370 592h1v1h-1zM372 592h4v1h-4zM377 592h1v1h-1zM379 592h1v1h-1zM381 592h2v1h-2zM384 592h3v1h-3zM394 592h3v1h-3zM401 592h2v1h-2zM404 592h1v1h-1zM408 592h1v1h-1zM410 592h1v1h-1zM415 592h1v1h-1zM420 592h1v1h-1zM422 592h2v1h-2zM447 592h1v1h-1zM364 593h1v1h-1zM367 593h1v1h-1zM369 593h2v1h-2zM372 593h1v1h-1zM374 593h1v1h-1zM376 593h1v1h-1zM379 593h1v1h-1zM381 593h1v1h-1zM389 593h2v1h-2zM393 593h1v1h-1zM396 593h4v1h-4zM403 593h2v1h-2zM408 593h1v1h-1zM411 593h1v1h-1zM416 593h1v1h-1zM419 593h1v1h-1zM424 593h1v1h-1zM440 593h1v1h-1zM443 593h1v1h-1zM445 593h1v1h-1zM447 593h4v1h-4zM365 594h2v1h-2zM369 594h3v1h-3zM373 594h1v1h-1zM379 594h1v1h-1zM381 594h1v1h-1zM384 594h1v1h-1zM387 594h4v1h-4zM393 594h1v1h-1zM399 594h2v1h-2zM407 594h2v1h-2zM411 594h1v1h-1zM417 594h1v1h-1zM421 594h1v1h-1zM423 594h1v1h-1zM445 594h3v1h-3zM456 594h1v1h-1zM363 595h1v1h-1zM366 595h2v1h-2zM370 595h3v1h-3zM375 595h2v1h-2zM378 595h2v1h-2zM381 595h3v1h-3zM385 595h1v1h-1zM394 595h4v1h-4zM400 595h1v1h-1zM402 595h2v1h-2zM406 595h1v1h-1zM411 595h1v1h-1zM414 595h2v1h-2zM422 595h1v1h-1zM439 595h2v1h-2zM442 595h1v1h-1zM446 595h1v1h-1zM448 595h2v1h-2zM364 596h3v1h-3zM368 596h1v1h-1zM371 596h1v1h-1zM374 596h1v1h-1zM376 596h2v1h-2zM379 596h1v1h-1zM384 596h2v1h-2zM391 596h1v1h-1zM394 596h1v1h-1zM398 596h1v1h-1zM403 596h2v1h-2zM408 596h1v1h-1zM410 596h2v1h-2zM413 596h2v1h-2zM430 596h1v1h-1zM438 596h1v1h-1zM441 596h1v1h-1zM446 596h1v1h-1zM448 596h1v1h-1zM450 596h1v1h-1zM453 596h1v1h-1zM471 596h1v1h-1zM366 597h1v1h-1zM369 597h1v1h-1zM372 597h1v1h-1zM376 597h1v1h-1zM378 597h2v1h-2zM384 597h1v1h-1zM386 597h1v1h-1zM388 597h1v1h-1zM397 597h1v1h-1zM406 597h2v1h-2zM409 597h4v1h-4zM414 597h2v1h-2zM437 597h2v1h-2zM441 597h1v1h-1zM443 597h1v1h-1zM446 597h1v1h-1zM448 597h1v1h-1zM450 597h1v1h-1zM456 597h1v1h-1zM362 598h5v1h-5zM371 598h3v1h-3zM375 598h1v1h-1zM377 598h2v1h-2zM380 598h1v1h-1zM382 598h2v1h-2zM387 598h1v1h-1zM391 598h1v1h-1zM396 598h2v1h-2zM401 598h2v1h-2zM412 598h1v1h-1zM430 598h1v1h-1zM435 598h1v1h-1zM437 598h1v1h-1zM439 598h1v1h-1zM442 598h2v1h-2zM445 598h2v1h-2zM450 598h1v1h-1zM452 598h1v1h-1zM463 598h1v1h-1zM363 599h1v1h-1zM365 599h2v1h-2zM368 599h1v1h-1zM370 599h1v1h-1zM373 599h1v1h-1zM375 599h2v1h-2zM379 599h1v1h-1zM382 599h1v1h-1zM399 599h1v1h-1zM402 599h1v1h-1zM404 599h1v1h-1zM408 599h1v1h-1zM414 599h1v1h-1zM429 599h1v1h-1zM437 599h1v1h-1zM440 599h2v1h-2zM446 599h2v1h-2zM451 599h1v1h-1zM456 599h1v1h-1zM362 600h1v1h-1zM364 600h1v1h-1zM366 600h2v1h-2zM373 600h1v1h-1zM382 600h2v1h-2zM386 600h2v1h-2zM397 600h1v1h-1zM400 600h1v1h-1zM408 600h1v1h-1zM432 600h1v1h-1zM435 600h3v1h-3zM441 600h1v1h-1zM443 600h1v1h-1zM445 600h1v1h-1zM448 600h1v1h-1zM450 600h1v1h-1zM454 600h1v1h-1zM369 601h1v1h-1zM423 601h1v1h-1zM429 601h1v1h-1zM433 601h4v1h-4zM438 601h1v1h-1zM440 601h1v1h-1zM447 601h1v1h-1zM455 601h1v1h-1zM367 602h1v1h-1zM369 602h2v1h-2zM379 602h1v1h-1zM385 602h1v1h-1zM428 602h1v1h-1zM431 602h1v1h-1zM435 602h1v1h-1zM438 602h1v1h-1zM442 602h2v1h-2zM446 602h1v1h-1zM450 602h1v1h-1zM363 603h2v1h-2zM366 603h1v1h-1zM368 603h2v1h-2zM372 603h1v1h-1zM380 603h1v1h-1zM424 603h1v1h-1zM428 603h1v1h-1zM432 603h2v1h-2zM435 603h1v1h-1zM440 603h2v1h-2zM443 603h1v1h-1zM447 603h4v1h-4zM362 604h2v1h-2zM365 604h1v1h-1zM371 604h1v1h-1zM432 604h1v1h-1zM434 604h1v1h-1zM438 604h3v1h-3zM442 604h4v1h-4zM447 604h1v1h-1zM364 605h2v1h-2zM367 605h2v1h-2zM374 605h2v1h-2zM426 605h1v1h-1zM430 605h1v1h-1zM432 605h1v1h-1zM434 605h1v1h-1zM438 605h1v1h-1zM440 605h2v1h-2zM444 605h1v1h-1zM446 605h2v1h-2zM449 605h2v1h-2zM362 606h2v1h-2zM365 606h4v1h-4zM370 606h1v1h-1zM424 606h3v1h-3zM431 606h2v1h-2zM435 606h1v1h-1zM437 606h1v1h-1zM443 606h1v1h-1zM447 606h1v1h-1zM452 606h1v1h-1zM471 606h1v1h-1zM362 607h1v1h-1zM364 607h2v1h-2zM368 607h1v1h-1zM424 607h1v1h-1zM430 607h5v1h-5zM437 607h3v1h-3zM445 607h1v1h-1zM449 607h1v1h-1zM364 608h5v1h-5zM433 608h1v1h-1zM435 608h1v1h-1zM440 608h2v1h-2zM450 608h1v1h-1zM364 609h1v1h-1zM420 609h1v1h-1zM425 609h1v1h-1zM430 609h2v1h-2zM435 609h1v1h-1zM437 609h2v1h-2zM441 609h2v1h-2zM446 609h2v1h-2zM454 609h1v1h-1zM364 610h1v1h-1zM388 610h1v1h-1zM422 610h1v1h-1zM424 610h2v1h-2zM430 610h1v1h-1zM435 610h1v1h-1zM440 610h4v1h-4zM445 610h1v1h-1zM452 610h1v1h-1zM366 611h1v1h-1zM425 611h1v1h-1zM429 611h1v1h-1zM432 611h1v1h-1zM436 611h1v1h-1zM438 611h1v1h-1zM440 611h1v1h-1zM446 611h1v1h-1zM450 611h1v1h-1zM363 612h1v1h-1zM365 612h1v1h-1zM423 612h1v1h-1zM426 612h1v1h-1zM435 612h2v1h-2zM440 612h2v1h-2zM443 612h1v1h-1zM445 612h2v1h-2zM366 613h2v1h-2zM423 613h1v1h-1zM427 613h2v1h-2zM431 613h1v1h-1zM439 613h1v1h-1zM441 613h2v1h-2zM444 613h2v1h-2zM447 613h2v1h-2zM362 614h1v1h-1zM369 614h1v1h-1zM418 614h1v1h-1zM425 614h1v1h-1zM427 614h1v1h-1zM430 614h1v1h-1zM436 614h1v1h-1zM440 614h1v1h-1zM442 614h1v1h-1zM444 614h1v1h-1zM446 614h2v1h-2zM449 614h1v1h-1zM365 615h4v1h-4zM371 615h1v1h-1zM422 615h1v1h-1zM430 615h2v1h-2zM434 615h1v1h-1zM438 615h4v1h-4zM447 615h3v1h-3zM471 615h1v1h-1zM363 616h1v1h-1zM366 616h1v1h-1zM424 616h3v1h-3zM432 616h2v1h-2zM436 616h1v1h-1zM439 616h1v1h-1zM441 616h1v1h-1zM444 616h2v1h-2zM447 616h1v1h-1zM449 616h1v1h-1zM363 617h2v1h-2zM366 617h1v1h-1zM423 617h1v1h-1zM426 617h1v1h-1zM428 617h2v1h-2zM431 617h2v1h-2zM436 617h2v1h-2zM439 617h1v1h-1zM441 617h3v1h-3zM446 617h2v1h-2zM363 618h2v1h-2zM366 618h1v1h-1zM368 618h1v1h-1zM422 618h5v1h-5zM429 618h1v1h-1zM435 618h1v1h-1zM438 618h1v1h-1zM440 618h2v1h-2zM443 618h1v1h-1zM449 618h1v1h-1zM475 618h1v1h-1zM362 619h1v1h-1zM364 619h2v1h-2zM367 619h2v1h-2zM419 619h1v1h-1zM422 619h1v1h-1zM425 619h2v1h-2zM428 619h1v1h-1zM431 619h2v1h-2zM434 619h1v1h-1zM436 619h1v1h-1zM438 619h2v1h-2zM441 619h2v1h-2zM448 619h1v1h-1zM450 619h1v1h-1zM471 619h1v1h-1zM362 620h1v1h-1zM364 620h2v1h-2zM367 620h2v1h-2zM419 620h1v1h-1zM421 620h3v1h-3zM427 620h2v1h-2zM432 620h1v1h-1zM434 620h2v1h-2zM437 620h2v1h-2zM441 620h1v1h-1zM443 620h3v1h-3zM448 620h1v1h-1zM451 620h1v1h-1zM362 621h2v1h-2zM366 621h1v1h-1zM371 621h1v1h-1zM421 621h2v1h-2zM424 621h1v1h-1zM430 621h1v1h-1zM432 621h1v1h-1zM434 621h2v1h-2zM437 621h4v1h-4zM446 621h1v1h-1zM449 621h1v1h-1zM451 621h1v1h-1zM362 622h1v1h-1zM365 622h2v1h-2zM420 622h5v1h-5zM426 622h4v1h-4zM431 622h1v1h-1zM433 622h1v1h-1zM435 622h3v1h-3zM441 622h1v1h-1zM443 622h1v1h-1zM447 622h1v1h-1zM449 622h2v1h-2zM362 623h1v1h-1zM364 623h2v1h-2zM369 623h1v1h-1zM421 623h1v1h-1zM423 623h2v1h-2zM427 623h2v1h-2zM432 623h2v1h-2zM435 623h6v1h-6zM442 623h1v1h-1zM444 623h1v1h-1zM446 623h3v1h-3zM451 623h2v1h-2zM455 623h1v1h-1zM364 624h2v1h-2zM415 624h2v1h-2zM418 624h1v1h-1zM421 624h1v1h-1zM427 624h1v1h-1zM429 624h4v1h-4zM434 624h1v1h-1zM436 624h2v1h-2zM441 624h1v1h-1zM445 624h1v1h-1zM448 624h1v1h-1zM362 625h1v1h-1zM367 625h1v1h-1zM421 625h3v1h-3zM425 625h2v1h-2zM431 625h2v1h-2zM435 625h1v1h-1zM441 625h2v1h-2zM446 625h1v1h-1zM364 626h2v1h-2zM367 626h1v1h-1zM412 626h1v1h-1zM414 626h1v1h-1zM421 626h1v1h-1zM424 626h1v1h-1zM427 626h1v1h-1zM434 626h1v1h-1zM436 626h2v1h-2zM439 626h1v1h-1zM441 626h1v1h-1zM444 626h1v1h-1zM366 627h2v1h-2zM413 627h3v1h-3zM417 627h1v1h-1zM420 627h1v1h-1zM423 627h1v1h-1zM429 627h4v1h-4zM445 627h1v1h-1zM447 627h1v1h-1zM368 628h1v1h-1zM415 628h1v1h-1zM418 628h3v1h-3zM423 628h2v1h-2zM428 628h3v1h-3zM433 628h2v1h-2zM437 628h8v1h-8zM446 628h1v1h-1zM450 628h1v1h-1zM409 629h1v1h-1zM415 629h1v1h-1zM418 629h1v1h-1zM420 629h1v1h-1zM423 629h3v1h-3zM429 629h1v1h-1zM431 629h1v1h-1zM435 629h1v1h-1zM437 629h2v1h-2zM444 629h1v1h-1zM364 630h1v1h-1zM366 630h1v1h-1zM368 630h1v1h-1zM413 630h2v1h-2zM422 630h4v1h-4zM427 630h1v1h-1zM430 630h1v1h-1zM432 630h1v1h-1zM434 630h1v1h-1zM436 630h1v1h-1zM438 630h1v1h-1zM441 630h1v1h-1zM447 630h1v1h-1zM450 630h1v1h-1zM363 631h2v1h-2zM367 631h1v1h-1zM413 631h2v1h-2zM416 631h1v1h-1zM418 631h2v1h-2zM423 631h2v1h-2zM427 631h2v1h-2zM433 631h1v1h-1zM364 632h1v1h-1zM412 632h1v1h-1zM414 632h5v1h-5zM420 632h2v1h-2zM425 632h1v1h-1zM428 632h1v1h-1zM430 632h1v1h-1zM445 632h1v1h-1zM363 633h2v1h-2zM410 633h1v1h-1zM414 633h1v1h-1zM421 633h1v1h-1zM424 633h3v1h-3zM430 633h4v1h-4zM412 634h4v1h-4zM418 634h2v1h-2zM423 634h2v1h-2zM428 634h1v1h-1zM430 634h1v1h-1zM432 634h1v1h-1zM362 635h1v1h-1zM413 635h6v1h-6zM420 635h2v1h-2zM423 635h1v1h-1zM426 635h2v1h-2zM430 635h1v1h-1zM433 635h1v1h-1zM437 635h1v1h-1zM362 636h1v1h-1zM414 636h2v1h-2zM418 636h3v1h-3zM425 636h5v1h-5zM431 636h1v1h-1zM362 637h1v1h-1zM364 637h1v1h-1zM413 637h3v1h-3zM418 637h1v1h-1zM421 637h1v1h-1zM426 637h1v1h-1zM428 637h1v1h-1zM414 638h2v1h-2zM420 638h1v1h-1zM424 638h2v1h-2zM427 638h1v1h-1zM430 638h1v1h-1zM432 638h1v1h-1zM362 639h1v1h-1zM411 639h1v1h-1zM413 639h2v1h-2zM417 639h1v1h-1zM419 639h1v1h-1zM422 639h2v1h-2zM426 639h2v1h-2zM431 639h1v1h-1zM442 639h1v1h-1zM362 640h1v1h-1zM414 640h3v1h-3zM418 640h2v1h-2zM424 640h1v1h-1zM429 640h2v1h-2zM434 640h1v1h-1zM412 641h1v1h-1zM415 641h1v1h-1zM418 641h2v1h-2zM421 641h4v1h-4zM426 641h3v1h-3zM430 641h1v1h-1zM432 641h1v1h-1zM415 642h1v1h-1zM417 642h1v1h-1zM420 642h1v1h-1zM425 642h1v1h-1zM427 642h2v1h-2zM459 642h1v1h-1zM362 643h1v1h-1zM420 643h1v1h-1zM423 643h1v1h-1zM429 643h1v1h-1zM433 643h1v1h-1zM415 644h2v1h-2zM424 644h1v1h-1zM426 644h2v1h-2zM409 645h1v1h-1zM413 645h1v1h-1zM418 645h1v1h-1zM424 645h2v1h-2zM431 645h1v1h-1zM437 645h1v1h-1zM414 646h1v1h-1zM416 646h1v1h-1zM418 646h7v1h-7zM427 646h1v1h-1zM429 646h1v1h-1zM459 646h1v1h-1zM364 647h1v1h-1zM415 647h1v1h-1zM417 647h3v1h-3zM423 647h1v1h-1zM425 647h2v1h-2zM450 647h1v1h-1zM364 648h1v1h-1zM411 648h1v1h-1zM414 648h1v1h-1zM416 648h1v1h-1zM420 648h2v1h-2zM423 648h1v1h-1zM427 648h1v1h-1zM459 648h1v1h-1zM463 648h1v1h-1zM411 649h1v1h-1zM415 649h1v1h-1zM418 649h1v1h-1zM420 649h2v1h-2zM425 649h1v1h-1zM362 650h1v1h-1zM412 650h2v1h-2zM415 650h1v1h-1zM419 650h3v1h-3zM423 650h1v1h-1zM411 651h1v1h-1zM415 651h1v1h-1zM418 651h3v1h-3zM422 651h2v1h-2zM425 651h1v1h-1zM431 651h1v1h-1zM363 652h1v1h-1zM411 652h2v1h-2zM414 652h1v1h-1zM419 652h1v1h-1zM421 652h1v1h-1zM424 652h1v1h-1zM406 653h1v1h-1zM408 653h2v1h-2zM411 653h1v1h-1zM413 653h2v1h-2zM416 653h2v1h-2zM420 653h1v1h-1zM423 653h2v1h-2zM362 654h2v1h-2zM408 654h1v1h-1zM411 654h2v1h-2zM414 654h2v1h-2zM421 654h2v1h-2zM425 654h1v1h-1zM365 655h1v1h-1zM405 655h1v1h-1zM407 655h1v1h-1zM410 655h1v1h-1zM414 655h2v1h-2zM419 655h2v1h-2zM425 655h2v1h-2zM363 656h2v1h-2zM407 656h1v1h-1zM409 656h1v1h-1zM412 656h2v1h-2zM416 656h1v1h-1zM418 656h2v1h-2zM421 656h1v1h-1zM427 656h1v1h-1zM362 657h1v1h-1zM368 657h1v1h-1zM405 657h1v1h-1zM413 657h1v1h-1zM416 657h3v1h-3zM473 657h1v1h-1zM363 658h3v1h-3zM367 658h2v1h-2zM399 658h1v1h-1zM409 658h3v1h-3zM414 658h1v1h-1zM365 659h3v1h-3zM369 659h1v1h-1zM376 659h1v1h-1zM396 659h1v1h-1zM400 659h1v1h-1zM406 659h4v1h-4zM411 659h1v1h-1zM413 659h2v1h-2zM419 659h1v1h-1zM368 660h3v1h-3zM373 660h2v1h-2zM376 660h1v1h-1zM378 660h1v1h-1zM384 660h1v1h-1zM400 660h1v1h-1zM402 660h2v1h-2zM406 660h1v1h-1zM408 660h1v1h-1zM449 660h1v1h-1zM364 661h1v1h-1zM367 661h1v1h-1zM371 661h1v1h-1zM373 661h1v1h-1zM375 661h1v1h-1zM378 661h3v1h-3zM382 661h2v1h-2zM387 661h1v1h-1zM399 661h1v1h-1zM402 661h1v1h-1zM363 662h2v1h-2zM366 662h1v1h-1zM370 662h1v1h-1zM375 662h3v1h-3zM379 662h1v1h-1zM381 662h2v1h-2zM385 662h1v1h-1zM391 662h1v1h-1zM394 662h1v1h-1zM397 662h2v1h-2zM400 662h1v1h-1zM404 662h1v1h-1zM406 662h1v1h-1z" fill="#c4c4c4"/><path d="M404 564h1v1h-1zM401 565h1v1h-1zM400 567h1v1h-1zM407 567h1v1h-1zM382 569h1v1h-1zM391 569h1v1h-1zM400 569h1v1h-1zM384 570h1v1h-1zM405 570h1v1h-1zM389 571h1v1h-1zM394 571h1v1h-1zM403 571h1v1h-1zM383 572h1v1h-1zM396 572h1v1h-1zM436 572h2v1h-2zM441 572h1v1h-1zM443 572h1v1h-1zM391 573h1v1h-1zM404 573h1v1h-1zM413 573h1v1h-1zM435 573h1v1h-1zM437 573h1v1h-1zM443 573h2v1h-2zM383 574h1v1h-1zM385 574h1v1h-1zM394 574h1v1h-1zM406 574h2v1h-2zM412 574h1v1h-1zM432 574h1v1h-1zM436 574h1v1h-1zM438 574h5v1h-5zM374 575h1v1h-1zM378 575h2v1h-2zM382 575h1v1h-1zM384 575h1v1h-1zM391 575h1v1h-1zM394 575h1v1h-1zM396 575h1v1h-1zM400 575h1v1h-1zM404 575h1v1h-1zM408 575h1v1h-1zM410 575h1v1h-1zM433 575h1v1h-1zM437 575h1v1h-1zM439 575h2v1h-2zM443 575h1v1h-1zM370 576h1v1h-1zM374 576h1v1h-1zM381 576h3v1h-3zM387 576h1v1h-1zM392 576h1v1h-1zM396 576h1v1h-1zM408 576h2v1h-2zM435 576h1v1h-1zM437 576h1v1h-1zM443 576h2v1h-2zM372 577h3v1h-3zM389 577h1v1h-1zM392 577h2v1h-2zM397 577h1v1h-1zM404 577h1v1h-1zM407 577h3v1h-3zM411 577h1v1h-1zM427 577h1v1h-1zM437 577h1v1h-1zM440 577h1v1h-1zM443 577h1v1h-1zM446 577h1v1h-1zM448 577h1v1h-1zM374 578h1v1h-1zM388 578h2v1h-2zM396 578h1v1h-1zM399 578h1v1h-1zM430 578h2v1h-2zM433 578h1v1h-1zM436 578h3v1h-3zM446 578h2v1h-2zM449 578h1v1h-1zM372 579h1v1h-1zM381 579h3v1h-3zM403 579h1v1h-1zM405 579h2v1h-2zM410 579h1v1h-1zM413 579h1v1h-1zM424 579h1v1h-1zM430 579h1v1h-1zM432 579h1v1h-1zM445 579h1v1h-1zM448 579h2v1h-2zM369 580h2v1h-2zM374 580h1v1h-1zM376 580h1v1h-1zM382 580h1v1h-1zM387 580h1v1h-1zM394 580h1v1h-1zM410 580h1v1h-1zM413 580h2v1h-2zM429 580h1v1h-1zM433 580h1v1h-1zM435 580h1v1h-1zM443 580h1v1h-1zM446 580h1v1h-1zM374 581h1v1h-1zM379 581h2v1h-2zM382 581h1v1h-1zM384 581h3v1h-3zM401 581h2v1h-2zM404 581h2v1h-2zM407 581h2v1h-2zM413 581h2v1h-2zM421 581h1v1h-1zM425 581h1v1h-1zM428 581h1v1h-1zM430 581h1v1h-1zM445 581h1v1h-1zM447 581h2v1h-2zM371 582h1v1h-1zM373 582h2v1h-2zM379 582h1v1h-1zM383 582h1v1h-1zM387 582h1v1h-1zM390 582h1v1h-1zM396 582h1v1h-1zM401 582h1v1h-1zM403 582h4v1h-4zM409 582h1v1h-1zM413 582h1v1h-1zM421 582h1v1h-1zM426 582h1v1h-1zM428 582h1v1h-1zM432 582h2v1h-2zM435 582h1v1h-1zM447 582h2v1h-2zM453 582h1v1h-1zM370 583h2v1h-2zM374 583h2v1h-2zM378 583h2v1h-2zM384 583h1v1h-1zM388 583h1v1h-1zM390 583h2v1h-2zM398 583h1v1h-1zM402 583h1v1h-1zM404 583h1v1h-1zM406 583h2v1h-2zM409 583h1v1h-1zM413 583h1v1h-1zM424 583h2v1h-2zM432 583h1v1h-1zM434 583h1v1h-1zM446 583h1v1h-1zM449 583h2v1h-2zM452 583h1v1h-1zM371 584h1v1h-1zM379 584h2v1h-2zM383 584h1v1h-1zM387 584h1v1h-1zM390 584h2v1h-2zM393 584h1v1h-1zM398 584h2v1h-2zM405 584h1v1h-1zM408 584h1v1h-1zM410 584h1v1h-1zM412 584h1v1h-1zM417 584h1v1h-1zM420 584h1v1h-1zM423 584h1v1h-1zM427 584h4v1h-4zM448 584h1v1h-1zM363 585h1v1h-1zM384 585h1v1h-1zM389 585h1v1h-1zM393 585h2v1h-2zM399 585h2v1h-2zM404 585h5v1h-5zM414 585h1v1h-1zM425 585h1v1h-1zM428 585h2v1h-2zM433 585h2v1h-2zM436 585h1v1h-1zM446 585h1v1h-1zM449 585h1v1h-1zM366 586h1v1h-1zM369 586h2v1h-2zM376 586h2v1h-2zM385 586h2v1h-2zM399 586h1v1h-1zM405 586h3v1h-3zM410 586h1v1h-1zM415 586h1v1h-1zM420 586h1v1h-1zM425 586h1v1h-1zM428 586h1v1h-1zM447 586h4v1h-4zM387 587h1v1h-1zM394 587h1v1h-1zM401 587h1v1h-1zM404 587h1v1h-1zM409 587h1v1h-1zM413 587h1v1h-1zM418 587h1v1h-1zM426 587h1v1h-1zM430 587h1v1h-1zM433 587h1v1h-1zM442 587h1v1h-1zM446 587h1v1h-1zM448 587h1v1h-1zM451 587h1v1h-1zM370 588h2v1h-2zM381 588h1v1h-1zM384 588h1v1h-1zM387 588h1v1h-1zM391 588h1v1h-1zM393 588h1v1h-1zM404 588h1v1h-1zM416 588h1v1h-1zM422 588h2v1h-2zM425 588h3v1h-3zM430 588h1v1h-1zM433 588h1v1h-1zM442 588h1v1h-1zM451 588h2v1h-2zM366 589h1v1h-1zM368 589h2v1h-2zM373 589h1v1h-1zM378 589h2v1h-2zM381 589h1v1h-1zM384 589h1v1h-1zM386 589h1v1h-1zM389 589h1v1h-1zM392 589h1v1h-1zM397 589h1v1h-1zM399 589h2v1h-2zM405 589h1v1h-1zM408 589h1v1h-1zM412 589h1v1h-1zM419 589h1v1h-1zM424 589h2v1h-2zM444 589h1v1h-1zM446 589h2v1h-2zM449 589h1v1h-1zM362 590h1v1h-1zM365 590h1v1h-1zM377 590h1v1h-1zM381 590h3v1h-3zM385 590h1v1h-1zM389 590h2v1h-2zM394 590h1v1h-1zM404 590h1v1h-1zM406 590h1v1h-1zM409 590h2v1h-2zM418 590h1v1h-1zM420 590h1v1h-1zM427 590h1v1h-1zM436 590h1v1h-1zM445 590h3v1h-3zM451 590h1v1h-1zM368 591h1v1h-1zM372 591h1v1h-1zM378 591h1v1h-1zM387 591h1v1h-1zM395 591h1v1h-1zM397 591h1v1h-1zM401 591h1v1h-1zM404 591h1v1h-1zM409 591h1v1h-1zM414 591h1v1h-1zM420 591h1v1h-1zM423 591h1v1h-1zM440 591h1v1h-1zM442 591h1v1h-1zM362 592h1v1h-1zM364 592h1v1h-1zM366 592h1v1h-1zM376 592h1v1h-1zM378 592h1v1h-1zM387 592h2v1h-2zM393 592h1v1h-1zM399 592h1v1h-1zM403 592h1v1h-1zM409 592h1v1h-1zM411 592h1v1h-1zM424 592h1v1h-1zM427 592h1v1h-1zM430 592h1v1h-1zM432 592h1v1h-1zM437 592h1v1h-1zM444 592h1v1h-1zM450 592h1v1h-1zM371 593h1v1h-1zM378 593h1v1h-1zM380 593h1v1h-1zM382 593h6v1h-6zM402 593h1v1h-1zM405 593h3v1h-3zM410 593h1v1h-1zM412 593h1v1h-1zM414 593h1v1h-1zM417 593h2v1h-2zM421 593h1v1h-1zM427 593h1v1h-1zM441 593h2v1h-2zM446 593h1v1h-1zM367 594h1v1h-1zM377 594h2v1h-2zM380 594h1v1h-1zM382 594h1v1h-1zM386 594h1v1h-1zM392 594h1v1h-1zM398 594h1v1h-1zM402 594h2v1h-2zM405 594h1v1h-1zM409 594h1v1h-1zM414 594h3v1h-3zM436 594h1v1h-1zM441 594h1v1h-1zM365 595h1v1h-1zM369 595h1v1h-1zM373 595h1v1h-1zM377 595h1v1h-1zM384 595h1v1h-1zM386 595h1v1h-1zM389 595h5v1h-5zM399 595h1v1h-1zM408 595h2v1h-2zM412 595h1v1h-1zM417 595h2v1h-2zM425 595h1v1h-1zM436 595h2v1h-2zM441 595h1v1h-1zM443 595h1v1h-1zM445 595h1v1h-1zM362 596h1v1h-1zM370 596h1v1h-1zM378 596h1v1h-1zM380 596h2v1h-2zM386 596h2v1h-2zM393 596h1v1h-1zM395 596h1v1h-1zM397 596h1v1h-1zM402 596h1v1h-1zM405 596h2v1h-2zM418 596h1v1h-1zM422 596h1v1h-1zM431 596h2v1h-2zM434 596h1v1h-1zM439 596h2v1h-2zM442 596h2v1h-2zM449 596h1v1h-1zM364 597h1v1h-1zM375 597h1v1h-1zM377 597h1v1h-1zM380 597h1v1h-1zM383 597h1v1h-1zM385 597h1v1h-1zM389 597h4v1h-4zM394 597h3v1h-3zM398 597h2v1h-2zM402 597h4v1h-4zM408 597h1v1h-1zM418 597h1v1h-1zM421 597h1v1h-1zM425 597h1v1h-1zM434 597h1v1h-1zM439 597h1v1h-1zM447 597h1v1h-1zM367 598h1v1h-1zM369 598h2v1h-2zM385 598h2v1h-2zM388 598h1v1h-1zM392 598h4v1h-4zM398 598h3v1h-3zM404 598h1v1h-1zM410 598h2v1h-2zM413 598h3v1h-3zM417 598h1v1h-1zM419 598h2v1h-2zM427 598h2v1h-2zM432 598h1v1h-1zM434 598h1v1h-1zM436 598h1v1h-1zM440 598h2v1h-2zM362 599h1v1h-1zM367 599h1v1h-1zM372 599h1v1h-1zM383 599h1v1h-1zM385 599h4v1h-4zM391 599h1v1h-1zM394 599h2v1h-2zM401 599h1v1h-1zM411 599h1v1h-1zM420 599h1v1h-1zM430 599h1v1h-1zM433 599h4v1h-4zM439 599h1v1h-1zM445 599h1v1h-1zM369 600h3v1h-3zM376 600h3v1h-3zM381 600h1v1h-1zM385 600h1v1h-1zM391 600h1v1h-1zM395 600h2v1h-2zM398 600h2v1h-2zM401 600h1v1h-1zM405 600h1v1h-1zM407 600h1v1h-1zM416 600h1v1h-1zM419 600h1v1h-1zM422 600h2v1h-2zM430 600h2v1h-2zM438 600h1v1h-1zM447 600h1v1h-1zM362 601h1v1h-1zM365 601h2v1h-2zM371 601h1v1h-1zM373 601h1v1h-1zM378 601h1v1h-1zM381 601h1v1h-1zM383 601h1v1h-1zM387 601h1v1h-1zM391 601h1v1h-1zM398 601h1v1h-1zM400 601h1v1h-1zM404 601h5v1h-5zM411 601h1v1h-1zM416 601h1v1h-1zM426 601h1v1h-1zM431 601h1v1h-1zM437 601h1v1h-1zM439 601h1v1h-1zM442 601h3v1h-3zM365 602h1v1h-1zM371 602h1v1h-1zM376 602h2v1h-2zM381 602h1v1h-1zM392 602h1v1h-1zM397 602h1v1h-1zM400 602h1v1h-1zM409 602h2v1h-2zM416 602h1v1h-1zM418 602h1v1h-1zM424 602h2v1h-2zM429 602h2v1h-2zM432 602h1v1h-1zM370 603h1v1h-1zM374 603h1v1h-1zM396 603h1v1h-1zM401 603h1v1h-1zM405 603h1v1h-1zM411 603h1v1h-1zM417 603h1v1h-1zM425 603h3v1h-3zM431 603h1v1h-1zM436 603h2v1h-2zM444 603h2v1h-2zM366 604h2v1h-2zM380 604h1v1h-1zM386 604h1v1h-1zM420 604h1v1h-1zM425 604h1v1h-1zM427 604h4v1h-4zM433 604h1v1h-1zM435 604h1v1h-1zM441 604h1v1h-1zM448 604h2v1h-2zM362 605h2v1h-2zM366 605h1v1h-1zM369 605h1v1h-1zM376 605h1v1h-1zM387 605h1v1h-1zM399 605h2v1h-2zM411 605h1v1h-1zM418 605h4v1h-4zM423 605h1v1h-1zM427 605h2v1h-2zM431 605h1v1h-1zM436 605h1v1h-1zM445 605h1v1h-1zM374 606h1v1h-1zM380 606h1v1h-1zM386 606h1v1h-1zM392 606h1v1h-1zM406 606h1v1h-1zM413 606h1v1h-1zM429 606h2v1h-2zM433 606h1v1h-1zM439 606h1v1h-1zM444 606h2v1h-2zM363 607h1v1h-1zM366 607h1v1h-1zM370 607h1v1h-1zM372 607h1v1h-1zM375 607h1v1h-1zM380 607h1v1h-1zM386 607h1v1h-1zM393 607h1v1h-1zM401 607h1v1h-1zM408 607h1v1h-1zM420 607h4v1h-4zM425 607h1v1h-1zM429 607h1v1h-1zM440 607h1v1h-1zM442 607h2v1h-2zM363 608h1v1h-1zM369 608h1v1h-1zM372 608h1v1h-1zM378 608h1v1h-1zM418 608h1v1h-1zM421 608h2v1h-2zM424 608h3v1h-3zM438 608h1v1h-1zM442 608h2v1h-2zM445 608h1v1h-1zM365 609h2v1h-2zM369 609h1v1h-1zM371 609h1v1h-1zM413 609h1v1h-1zM421 609h1v1h-1zM423 609h1v1h-1zM432 609h1v1h-1zM440 609h1v1h-1zM443 609h1v1h-1zM368 610h3v1h-3zM437 610h2v1h-2zM444 610h1v1h-1zM446 610h2v1h-2zM363 611h1v1h-1zM367 611h1v1h-1zM369 611h1v1h-1zM421 611h1v1h-1zM423 611h2v1h-2zM430 611h1v1h-1zM441 611h2v1h-2zM447 611h1v1h-1zM364 612h1v1h-1zM366 612h2v1h-2zM369 612h1v1h-1zM372 612h1v1h-1zM399 612h1v1h-1zM402 612h1v1h-1zM418 612h1v1h-1zM420 612h1v1h-1zM425 612h1v1h-1zM433 612h1v1h-1zM442 612h1v1h-1zM444 612h1v1h-1zM448 612h1v1h-1zM365 613h1v1h-1zM368 613h2v1h-2zM372 613h1v1h-1zM384 613h1v1h-1zM401 613h1v1h-1zM420 613h1v1h-1zM422 613h1v1h-1zM430 613h1v1h-1zM432 613h1v1h-1zM438 613h1v1h-1zM443 613h1v1h-1zM363 614h1v1h-1zM366 614h2v1h-2zM370 614h1v1h-1zM384 614h1v1h-1zM409 614h1v1h-1zM420 614h1v1h-1zM422 614h2v1h-2zM429 614h1v1h-1zM441 614h1v1h-1zM443 614h1v1h-1zM445 614h1v1h-1zM448 614h1v1h-1zM419 615h2v1h-2zM435 615h1v1h-1zM442 615h1v1h-1zM445 615h1v1h-1zM365 616h1v1h-1zM367 616h2v1h-2zM419 616h1v1h-1zM421 616h1v1h-1zM423 616h1v1h-1zM434 616h1v1h-1zM437 616h1v1h-1zM440 616h1v1h-1zM446 616h1v1h-1zM369 617h1v1h-1zM409 617h1v1h-1zM415 617h1v1h-1zM419 617h1v1h-1zM421 617h1v1h-1zM427 617h1v1h-1zM434 617h2v1h-2zM445 617h1v1h-1zM367 618h1v1h-1zM371 618h1v1h-1zM410 618h1v1h-1zM414 618h1v1h-1zM417 618h1v1h-1zM428 618h1v1h-1zM431 618h1v1h-1zM433 618h1v1h-1zM436 618h1v1h-1zM366 619h1v1h-1zM370 619h1v1h-1zM418 619h1v1h-1zM423 619h1v1h-1zM427 619h1v1h-1zM437 619h1v1h-1zM440 619h1v1h-1zM444 619h1v1h-1zM451 619h1v1h-1zM366 620h1v1h-1zM417 620h1v1h-1zM424 620h2v1h-2zM367 621h1v1h-1zM413 621h1v1h-1zM425 621h2v1h-2zM428 621h1v1h-1zM441 621h2v1h-2zM369 622h1v1h-1zM425 622h1v1h-1zM432 622h1v1h-1zM439 622h1v1h-1zM444 622h1v1h-1zM446 622h1v1h-1zM363 623h1v1h-1zM367 623h1v1h-1zM375 623h1v1h-1zM415 623h1v1h-1zM418 623h2v1h-2zM426 623h1v1h-1zM363 624h1v1h-1zM412 624h3v1h-3zM417 624h1v1h-1zM419 624h1v1h-1zM422 624h2v1h-2zM428 624h1v1h-1zM435 624h1v1h-1zM438 624h1v1h-1zM413 625h2v1h-2zM416 625h3v1h-3zM428 625h1v1h-1zM434 625h1v1h-1zM445 625h1v1h-1zM449 625h1v1h-1zM366 626h1v1h-1zM368 626h2v1h-2zM396 626h1v1h-1zM413 626h1v1h-1zM416 626h1v1h-1zM419 626h2v1h-2zM425 626h1v1h-1zM448 626h2v1h-2zM364 627h2v1h-2zM369 627h1v1h-1zM371 627h1v1h-1zM422 627h1v1h-1zM426 627h2v1h-2zM433 627h1v1h-1zM441 627h1v1h-1zM446 627h1v1h-1zM364 628h1v1h-1zM370 628h1v1h-1zM416 628h1v1h-1zM425 628h2v1h-2zM366 629h6v1h-6zM407 629h1v1h-1zM411 629h3v1h-3zM419 629h1v1h-1zM426 629h1v1h-1zM428 629h1v1h-1zM440 629h1v1h-1zM365 630h1v1h-1zM367 630h1v1h-1zM408 630h1v1h-1zM410 630h1v1h-1zM416 630h2v1h-2zM419 630h1v1h-1zM426 630h1v1h-1zM431 630h1v1h-1zM362 631h1v1h-1zM365 631h2v1h-2zM410 631h2v1h-2zM415 631h1v1h-1zM422 631h1v1h-1zM426 631h1v1h-1zM429 631h1v1h-1zM365 632h3v1h-3zM410 632h1v1h-1zM413 632h1v1h-1zM419 632h1v1h-1zM422 632h1v1h-1zM424 632h1v1h-1zM427 632h1v1h-1zM431 632h2v1h-2zM365 633h2v1h-2zM411 633h1v1h-1zM417 633h4v1h-4zM422 633h1v1h-1zM428 633h1v1h-1zM367 634h1v1h-1zM410 634h2v1h-2zM417 634h1v1h-1zM422 634h1v1h-1zM426 634h1v1h-1zM429 634h1v1h-1zM365 635h1v1h-1zM367 635h1v1h-1zM424 635h2v1h-2zM429 635h1v1h-1zM364 636h2v1h-2zM421 636h1v1h-1zM423 636h2v1h-2zM363 637h1v1h-1zM367 637h1v1h-1zM420 637h1v1h-1zM424 637h2v1h-2zM429 637h1v1h-1zM364 638h2v1h-2zM411 638h1v1h-1zM413 638h1v1h-1zM416 638h1v1h-1zM419 638h1v1h-1zM423 638h1v1h-1zM429 638h1v1h-1zM364 639h2v1h-2zM412 639h1v1h-1zM418 639h1v1h-1zM425 639h1v1h-1zM428 639h2v1h-2zM365 640h1v1h-1zM412 640h1v1h-1zM417 640h1v1h-1zM422 640h1v1h-1zM425 640h1v1h-1zM427 640h1v1h-1zM363 641h2v1h-2zM414 641h1v1h-1zM417 641h1v1h-1zM363 642h2v1h-2zM412 642h1v1h-1zM414 642h1v1h-1zM418 642h2v1h-2zM421 642h2v1h-2zM431 642h1v1h-1zM414 643h3v1h-3zM418 643h2v1h-2zM421 643h1v1h-1zM424 643h1v1h-1zM363 644h1v1h-1zM412 644h2v1h-2zM418 644h3v1h-3zM425 644h1v1h-1zM363 645h1v1h-1zM414 645h4v1h-4zM419 645h1v1h-1zM421 645h2v1h-2zM429 645h1v1h-1zM362 646h2v1h-2zM365 646h1v1h-1zM411 646h2v1h-2zM411 647h4v1h-4zM421 647h1v1h-1zM362 648h2v1h-2zM412 648h2v1h-2zM415 648h1v1h-1zM417 648h3v1h-3zM422 648h1v1h-1zM364 649h1v1h-1zM410 649h1v1h-1zM412 649h1v1h-1zM414 649h1v1h-1zM416 649h1v1h-1zM419 649h1v1h-1zM424 649h1v1h-1zM408 650h1v1h-1zM414 650h1v1h-1zM416 650h1v1h-1zM362 651h1v1h-1zM412 651h1v1h-1zM362 652h1v1h-1zM410 652h1v1h-1zM413 652h1v1h-1zM415 652h1v1h-1zM420 652h1v1h-1zM422 652h1v1h-1zM362 653h3v1h-3zM366 653h1v1h-1zM410 653h1v1h-1zM419 653h1v1h-1zM364 654h2v1h-2zM409 654h1v1h-1zM416 654h1v1h-1zM366 655h1v1h-1zM406 655h1v1h-1zM413 655h1v1h-1zM416 655h1v1h-1zM418 655h1v1h-1zM365 656h2v1h-2zM368 656h1v1h-1zM406 656h1v1h-1zM408 656h1v1h-1zM414 656h2v1h-2zM363 657h1v1h-1zM366 657h2v1h-2zM381 657h1v1h-1zM398 657h1v1h-1zM403 657h2v1h-2zM407 657h2v1h-2zM366 658h1v1h-1zM369 658h1v1h-1zM383 658h1v1h-1zM396 658h2v1h-2zM401 658h4v1h-4zM407 658h1v1h-1zM368 659h1v1h-1zM370 659h2v1h-2zM373 659h1v1h-1zM381 659h1v1h-1zM397 659h3v1h-3zM404 659h2v1h-2zM367 660h1v1h-1zM371 660h1v1h-1zM375 660h1v1h-1zM377 660h1v1h-1zM380 660h1v1h-1zM395 660h1v1h-1zM397 660h1v1h-1zM401 660h1v1h-1zM415 660h1v1h-1zM372 661h1v1h-1zM374 661h1v1h-1zM376 661h1v1h-1zM381 661h1v1h-1zM388 661h1v1h-1zM390 661h3v1h-3zM405 661h1v1h-1zM408 661h1v1h-1zM371 662h1v1h-1zM374 662h1v1h-1zM380 662h1v1h-1zM383 662h2v1h-2zM386 662h5v1h-5zM392 662h2v1h-2zM395 662h2v1h-2z" fill="#8a8a8a"/><path d="M401 567h1v1h-1zM383 573h1v1h-1zM390 573h1v1h-1zM402 574h1v1h-1zM444 574h1v1h-1zM445 575h1v1h-1zM390 576h1v1h-1zM434 576h1v1h-1zM439 576h3v1h-3zM384 577h1v1h-1zM406 577h1v1h-1zM410 577h1v1h-1zM436 577h1v1h-1zM441 577h1v1h-1zM391 578h1v1h-1zM395 578h1v1h-1zM410 578h1v1h-1zM435 578h1v1h-1zM440 578h3v1h-3zM444 578h1v1h-1zM388 579h1v1h-1zM391 579h1v1h-1zM415 579h1v1h-1zM433 579h3v1h-3zM437 579h1v1h-1zM440 579h4v1h-4zM409 580h1v1h-1zM434 580h1v1h-1zM439 580h1v1h-1zM442 580h1v1h-1zM444 580h2v1h-2zM378 581h1v1h-1zM388 581h1v1h-1zM390 581h1v1h-1zM432 581h1v1h-1zM435 581h1v1h-1zM438 581h1v1h-1zM440 581h1v1h-1zM444 581h1v1h-1zM446 581h1v1h-1zM368 582h1v1h-1zM376 582h1v1h-1zM391 582h1v1h-1zM429 582h1v1h-1zM436 582h2v1h-2zM442 582h3v1h-3zM446 582h1v1h-1zM387 583h1v1h-1zM395 583h2v1h-2zM408 583h1v1h-1zM414 583h2v1h-2zM418 583h1v1h-1zM436 583h1v1h-1zM443 583h1v1h-1zM448 583h1v1h-1zM372 584h1v1h-1zM431 584h2v1h-2zM434 584h1v1h-1zM436 584h1v1h-1zM444 584h2v1h-2zM449 584h1v1h-1zM390 585h1v1h-1zM402 585h1v1h-1zM430 585h1v1h-1zM432 585h1v1h-1zM440 585h1v1h-1zM448 585h1v1h-1zM451 585h1v1h-1zM374 586h2v1h-2zM380 586h1v1h-1zM388 586h1v1h-1zM398 586h1v1h-1zM431 586h3v1h-3zM435 586h1v1h-1zM438 586h2v1h-2zM443 586h1v1h-1zM445 586h2v1h-2zM423 587h1v1h-1zM431 587h2v1h-2zM434 587h4v1h-4zM440 587h1v1h-1zM447 587h1v1h-1zM376 588h1v1h-1zM397 588h1v1h-1zM405 588h1v1h-1zM428 588h2v1h-2zM431 588h1v1h-1zM438 588h1v1h-1zM444 588h1v1h-1zM447 588h3v1h-3zM394 589h2v1h-2zM427 589h1v1h-1zM431 589h1v1h-1zM434 589h3v1h-3zM439 589h1v1h-1zM441 589h2v1h-2zM445 589h1v1h-1zM448 589h1v1h-1zM378 590h2v1h-2zM387 590h1v1h-1zM391 590h2v1h-2zM396 590h1v1h-1zM399 590h1v1h-1zM405 590h1v1h-1zM407 590h2v1h-2zM426 590h1v1h-1zM429 590h1v1h-1zM431 590h1v1h-1zM433 590h3v1h-3zM439 590h3v1h-3zM443 590h2v1h-2zM448 590h1v1h-1zM366 591h1v1h-1zM377 591h1v1h-1zM388 591h1v1h-1zM391 591h4v1h-4zM396 591h1v1h-1zM403 591h1v1h-1zM406 591h1v1h-1zM410 591h1v1h-1zM415 591h2v1h-2zM424 591h4v1h-4zM430 591h1v1h-1zM432 591h1v1h-1zM437 591h3v1h-3zM443 591h2v1h-2zM389 592h1v1h-1zM397 592h2v1h-2zM405 592h1v1h-1zM407 592h1v1h-1zM412 592h1v1h-1zM414 592h1v1h-1zM416 592h2v1h-2zM426 592h1v1h-1zM428 592h1v1h-1zM434 592h1v1h-1zM438 592h2v1h-2zM441 592h3v1h-3zM445 592h1v1h-1zM366 593h1v1h-1zM391 593h2v1h-2zM394 593h2v1h-2zM401 593h1v1h-1zM409 593h1v1h-1zM422 593h2v1h-2zM425 593h1v1h-1zM429 593h1v1h-1zM431 593h1v1h-1zM434 593h2v1h-2zM438 593h1v1h-1zM444 593h1v1h-1zM362 594h1v1h-1zM394 594h4v1h-4zM401 594h1v1h-1zM410 594h1v1h-1zM412 594h2v1h-2zM418 594h3v1h-3zM422 594h1v1h-1zM424 594h1v1h-1zM427 594h2v1h-2zM430 594h1v1h-1zM434 594h1v1h-1zM437 594h1v1h-1zM440 594h1v1h-1zM442 594h2v1h-2zM364 595h1v1h-1zM380 595h1v1h-1zM388 595h1v1h-1zM401 595h1v1h-1zM404 595h1v1h-1zM407 595h1v1h-1zM413 595h1v1h-1zM420 595h2v1h-2zM423 595h1v1h-1zM427 595h1v1h-1zM429 595h1v1h-1zM431 595h5v1h-5zM367 596h1v1h-1zM382 596h1v1h-1zM388 596h3v1h-3zM392 596h1v1h-1zM396 596h1v1h-1zM399 596h1v1h-1zM407 596h1v1h-1zM417 596h1v1h-1zM419 596h3v1h-3zM423 596h1v1h-1zM425 596h1v1h-1zM427 596h2v1h-2zM433 596h1v1h-1zM436 596h2v1h-2zM444 596h1v1h-1zM365 597h1v1h-1zM381 597h2v1h-2zM387 597h1v1h-1zM393 597h1v1h-1zM400 597h2v1h-2zM413 597h1v1h-1zM416 597h1v1h-1zM420 597h1v1h-1zM422 597h1v1h-1zM429 597h4v1h-4zM436 597h1v1h-1zM440 597h1v1h-1zM384 598h1v1h-1zM389 598h2v1h-2zM403 598h1v1h-1zM408 598h2v1h-2zM416 598h1v1h-1zM422 598h2v1h-2zM425 598h2v1h-2zM431 598h1v1h-1zM433 598h1v1h-1zM378 599h1v1h-1zM381 599h1v1h-1zM392 599h2v1h-2zM397 599h2v1h-2zM400 599h1v1h-1zM409 599h1v1h-1zM412 599h1v1h-1zM416 599h2v1h-2zM419 599h1v1h-1zM423 599h1v1h-1zM426 599h3v1h-3zM431 599h1v1h-1zM372 600h1v1h-1zM379 600h2v1h-2zM384 600h1v1h-1zM388 600h3v1h-3zM392 600h3v1h-3zM404 600h1v1h-1zM406 600h1v1h-1zM409 600h1v1h-1zM411 600h1v1h-1zM414 600h2v1h-2zM420 600h2v1h-2zM425 600h1v1h-1zM429 600h1v1h-1zM433 600h2v1h-2zM367 601h1v1h-1zM374 601h1v1h-1zM377 601h1v1h-1zM379 601h2v1h-2zM385 601h2v1h-2zM388 601h3v1h-3zM393 601h2v1h-2zM401 601h2v1h-2zM410 601h1v1h-1zM412 601h1v1h-1zM415 601h1v1h-1zM419 601h4v1h-4zM424 601h2v1h-2zM366 602h1v1h-1zM372 602h4v1h-4zM378 602h1v1h-1zM382 602h2v1h-2zM387 602h1v1h-1zM389 602h1v1h-1zM395 602h2v1h-2zM402 602h1v1h-1zM405 602h2v1h-2zM412 602h3v1h-3zM420 602h2v1h-2zM427 602h1v1h-1zM447 602h1v1h-1zM371 603h1v1h-1zM373 603h1v1h-1zM375 603h1v1h-1zM377 603h3v1h-3zM382 603h2v1h-2zM385 603h1v1h-1zM391 603h3v1h-3zM397 603h2v1h-2zM400 603h1v1h-1zM409 603h1v1h-1zM413 603h1v1h-1zM416 603h1v1h-1zM430 603h1v1h-1zM434 603h1v1h-1zM369 604h1v1h-1zM372 604h1v1h-1zM376 604h1v1h-1zM379 604h1v1h-1zM381 604h1v1h-1zM388 604h3v1h-3zM393 604h1v1h-1zM399 604h1v1h-1zM401 604h1v1h-1zM406 604h1v1h-1zM409 604h2v1h-2zM412 604h3v1h-3zM416 604h1v1h-1zM418 604h1v1h-1zM424 604h1v1h-1zM371 605h1v1h-1zM381 605h1v1h-1zM383 605h1v1h-1zM390 605h1v1h-1zM393 605h1v1h-1zM401 605h1v1h-1zM406 605h2v1h-2zM409 605h1v1h-1zM413 605h1v1h-1zM417 605h1v1h-1zM422 605h1v1h-1zM424 605h2v1h-2zM369 606h1v1h-1zM371 606h1v1h-1zM373 606h1v1h-1zM375 606h1v1h-1zM378 606h2v1h-2zM381 606h1v1h-1zM394 606h1v1h-1zM398 606h3v1h-3zM402 606h1v1h-1zM407 606h1v1h-1zM411 606h2v1h-2zM415 606h3v1h-3zM419 606h1v1h-1zM423 606h1v1h-1zM427 606h1v1h-1zM371 607h1v1h-1zM373 607h1v1h-1zM381 607h1v1h-1zM389 607h1v1h-1zM394 607h1v1h-1zM405 607h1v1h-1zM409 607h1v1h-1zM416 607h1v1h-1zM418 607h1v1h-1zM426 607h1v1h-1zM428 607h1v1h-1zM375 608h1v1h-1zM377 608h1v1h-1zM388 608h3v1h-3zM394 608h2v1h-2zM398 608h1v1h-1zM403 608h2v1h-2zM407 608h2v1h-2zM412 608h1v1h-1zM415 608h1v1h-1zM419 608h2v1h-2zM423 608h1v1h-1zM368 609h1v1h-1zM370 609h1v1h-1zM373 609h2v1h-2zM382 609h1v1h-1zM385 609h1v1h-1zM399 609h1v1h-1zM401 609h1v1h-1zM405 609h1v1h-1zM422 609h1v1h-1zM424 609h1v1h-1zM366 610h2v1h-2zM378 610h1v1h-1zM382 610h1v1h-1zM386 610h1v1h-1zM390 610h1v1h-1zM392 610h3v1h-3zM396 610h2v1h-2zM403 610h1v1h-1zM405 610h1v1h-1zM411 610h1v1h-1zM413 610h2v1h-2zM419 610h1v1h-1zM421 610h1v1h-1zM433 610h1v1h-1zM368 611h1v1h-1zM371 611h2v1h-2zM375 611h2v1h-2zM381 611h1v1h-1zM383 611h1v1h-1zM390 611h2v1h-2zM393 611h2v1h-2zM398 611h1v1h-1zM400 611h1v1h-1zM406 611h2v1h-2zM410 611h1v1h-1zM417 611h4v1h-4zM422 611h1v1h-1zM368 612h1v1h-1zM373 612h1v1h-1zM375 612h1v1h-1zM377 612h1v1h-1zM382 612h2v1h-2zM385 612h3v1h-3zM390 612h1v1h-1zM393 612h1v1h-1zM401 612h1v1h-1zM406 612h1v1h-1zM408 612h1v1h-1zM411 612h1v1h-1zM414 612h1v1h-1zM419 612h1v1h-1zM431 612h1v1h-1zM370 613h2v1h-2zM373 613h1v1h-1zM382 613h1v1h-1zM390 613h1v1h-1zM392 613h1v1h-1zM397 613h1v1h-1zM403 613h1v1h-1zM412 613h1v1h-1zM416 613h2v1h-2zM426 613h1v1h-1zM371 614h1v1h-1zM376 614h1v1h-1zM378 614h1v1h-1zM380 614h1v1h-1zM382 614h1v1h-1zM389 614h1v1h-1zM405 614h1v1h-1zM408 614h1v1h-1zM413 614h1v1h-1zM415 614h1v1h-1zM419 614h1v1h-1zM437 614h1v1h-1zM370 615h1v1h-1zM375 615h1v1h-1zM379 615h1v1h-1zM391 615h1v1h-1zM395 615h1v1h-1zM398 615h1v1h-1zM408 615h1v1h-1zM410 615h1v1h-1zM414 615h1v1h-1zM418 615h1v1h-1zM423 615h1v1h-1zM436 615h1v1h-1zM443 615h1v1h-1zM369 616h1v1h-1zM374 616h1v1h-1zM381 616h1v1h-1zM400 616h1v1h-1zM412 616h1v1h-1zM416 616h1v1h-1zM420 616h1v1h-1zM373 617h1v1h-1zM382 617h1v1h-1zM384 617h1v1h-1zM402 617h1v1h-1zM410 617h1v1h-1zM412 617h2v1h-2zM418 617h1v1h-1zM420 617h1v1h-1zM422 617h1v1h-1zM424 617h1v1h-1zM369 618h1v1h-1zM389 618h1v1h-1zM392 618h1v1h-1zM406 618h3v1h-3zM411 618h2v1h-2zM416 618h1v1h-1zM420 618h2v1h-2zM369 619h1v1h-1zM381 619h1v1h-1zM387 619h1v1h-1zM392 619h1v1h-1zM398 619h1v1h-1zM407 619h1v1h-1zM414 619h1v1h-1zM416 619h1v1h-1zM420 619h1v1h-1zM369 620h1v1h-1zM375 620h1v1h-1zM410 620h1v1h-1zM413 620h1v1h-1zM415 620h1v1h-1zM370 621h1v1h-1zM372 621h1v1h-1zM378 621h1v1h-1zM408 621h1v1h-1zM417 621h4v1h-4zM423 621h1v1h-1zM445 621h1v1h-1zM367 622h2v1h-2zM370 622h5v1h-5zM379 622h1v1h-1zM381 622h2v1h-2zM400 622h1v1h-1zM407 622h1v1h-1zM411 622h2v1h-2zM415 622h2v1h-2zM418 622h2v1h-2zM368 623h1v1h-1zM372 623h1v1h-1zM385 623h1v1h-1zM389 623h1v1h-1zM396 623h1v1h-1zM411 623h3v1h-3zM416 623h2v1h-2zM422 623h1v1h-1zM425 623h1v1h-1zM429 623h1v1h-1zM366 624h3v1h-3zM371 624h2v1h-2zM386 624h1v1h-1zM411 624h1v1h-1zM366 625h1v1h-1zM368 625h3v1h-3zM390 625h1v1h-1zM406 625h1v1h-1zM412 625h1v1h-1zM415 625h1v1h-1zM419 625h1v1h-1zM424 625h1v1h-1zM371 626h2v1h-2zM374 626h1v1h-1zM395 626h1v1h-1zM401 626h1v1h-1zM404 626h1v1h-1zM410 626h1v1h-1zM422 626h2v1h-2zM368 627h1v1h-1zM372 627h1v1h-1zM375 627h1v1h-1zM399 627h1v1h-1zM401 627h1v1h-1zM408 627h3v1h-3zM416 627h1v1h-1zM418 627h1v1h-1zM421 627h1v1h-1zM365 628h2v1h-2zM369 628h1v1h-1zM371 628h2v1h-2zM402 628h1v1h-1zM405 628h1v1h-1zM409 628h2v1h-2zM412 628h3v1h-3zM417 628h1v1h-1zM427 628h1v1h-1zM372 629h2v1h-2zM402 629h1v1h-1zM404 629h1v1h-1zM406 629h1v1h-1zM408 629h1v1h-1zM410 629h1v1h-1zM421 629h1v1h-1zM427 629h1v1h-1zM403 630h1v1h-1zM407 630h1v1h-1zM412 630h1v1h-1zM421 630h1v1h-1zM370 631h2v1h-2zM408 631h1v1h-1zM417 631h1v1h-1zM421 631h1v1h-1zM404 632h1v1h-1zM407 632h1v1h-1zM423 632h1v1h-1zM370 633h1v1h-1zM409 633h1v1h-1zM412 633h1v1h-1zM416 633h1v1h-1zM364 634h2v1h-2zM408 634h1v1h-1zM416 634h1v1h-1zM421 634h1v1h-1zM363 635h2v1h-2zM410 635h3v1h-3zM363 636h1v1h-1zM366 636h1v1h-1zM369 636h1v1h-1zM411 636h3v1h-3zM417 636h1v1h-1zM365 637h1v1h-1zM410 637h3v1h-3zM422 637h1v1h-1zM362 638h1v1h-1zM412 638h1v1h-1zM417 638h1v1h-1zM421 638h1v1h-1zM426 638h1v1h-1zM410 639h1v1h-1zM415 639h2v1h-2zM420 639h1v1h-1zM413 640h1v1h-1zM426 640h1v1h-1zM428 640h1v1h-1zM362 641h1v1h-1zM410 641h1v1h-1zM413 641h1v1h-1zM416 641h1v1h-1zM420 641h1v1h-1zM365 642h3v1h-3zM410 642h2v1h-2zM413 642h1v1h-1zM416 642h1v1h-1zM423 642h1v1h-1zM363 643h1v1h-1zM367 643h1v1h-1zM425 643h1v1h-1zM365 644h1v1h-1zM414 644h1v1h-1zM421 644h3v1h-3zM428 644h1v1h-1zM364 645h2v1h-2zM411 645h1v1h-1zM364 646h1v1h-1zM366 646h2v1h-2zM413 646h1v1h-1zM415 646h1v1h-1zM417 646h1v1h-1zM365 647h2v1h-2zM410 647h1v1h-1zM416 647h1v1h-1zM420 647h1v1h-1zM365 648h2v1h-2zM407 648h1v1h-1zM409 648h2v1h-2zM362 649h2v1h-2zM365 649h1v1h-1zM367 649h1v1h-1zM407 649h3v1h-3zM364 650h3v1h-3zM407 650h1v1h-1zM409 650h2v1h-2zM424 650h1v1h-1zM363 651h1v1h-1zM409 651h1v1h-1zM413 651h1v1h-1zM417 651h1v1h-1zM368 652h1v1h-1zM404 652h6v1h-6zM365 653h1v1h-1zM367 653h1v1h-1zM400 653h1v1h-1zM402 653h1v1h-1zM405 653h1v1h-1zM412 653h1v1h-1zM366 654h1v1h-1zM371 654h1v1h-1zM376 654h1v1h-1zM400 654h1v1h-1zM405 654h2v1h-2zM364 655h1v1h-1zM403 655h1v1h-1zM412 655h1v1h-1zM369 656h2v1h-2zM372 656h1v1h-1zM382 656h1v1h-1zM399 656h1v1h-1zM403 656h2v1h-2zM364 657h2v1h-2zM369 657h1v1h-1zM371 657h3v1h-3zM376 657h1v1h-1zM378 657h2v1h-2zM382 657h1v1h-1zM390 657h1v1h-1zM395 657h1v1h-1zM399 657h2v1h-2zM402 657h1v1h-1zM406 657h1v1h-1zM412 657h1v1h-1zM381 658h1v1h-1zM386 658h2v1h-2zM394 658h1v1h-1zM372 659h1v1h-1zM374 659h1v1h-1zM377 659h4v1h-4zM382 659h5v1h-5zM388 659h2v1h-2zM392 659h1v1h-1zM394 659h2v1h-2zM372 660h1v1h-1zM382 660h1v1h-1zM388 660h1v1h-1zM390 660h3v1h-3zM394 660h1v1h-1zM398 660h1v1h-1zM369 661h1v1h-1zM393 661h1v1h-1zM395 661h3v1h-3z" fill="#484848"/><path d="M393 573h1v1h-1zM438 577h1v1h-1zM443 578h1v1h-1zM438 579h2v1h-2zM444 579h1v1h-1zM436 580h3v1h-3zM440 580h2v1h-2zM447 580h1v1h-1zM396 581h1v1h-1zM406 581h1v1h-1zM434 581h1v1h-1zM437 581h1v1h-1zM439 581h1v1h-1zM441 581h3v1h-3zM449 581h1v1h-1zM434 582h1v1h-1zM438 582h4v1h-4zM445 582h1v1h-1zM433 583h1v1h-1zM435 583h1v1h-1zM437 583h6v1h-6zM444 583h2v1h-2zM447 583h1v1h-1zM433 584h1v1h-1zM435 584h1v1h-1zM437 584h7v1h-7zM446 584h2v1h-2zM435 585h1v1h-1zM437 585h3v1h-3zM441 585h5v1h-5zM447 585h1v1h-1zM434 586h1v1h-1zM436 586h2v1h-2zM440 586h3v1h-3zM444 586h1v1h-1zM428 587h2v1h-2zM438 587h2v1h-2zM441 587h1v1h-1zM443 587h3v1h-3zM449 587h1v1h-1zM392 588h1v1h-1zM408 588h1v1h-1zM432 588h1v1h-1zM434 588h4v1h-4zM439 588h3v1h-3zM443 588h1v1h-1zM445 588h2v1h-2zM426 589h1v1h-1zM428 589h3v1h-3zM432 589h2v1h-2zM437 589h2v1h-2zM440 589h1v1h-1zM443 589h1v1h-1zM424 590h1v1h-1zM430 590h1v1h-1zM432 590h1v1h-1zM437 590h2v1h-2zM442 590h1v1h-1zM428 591h2v1h-2zM431 591h1v1h-1zM433 591h4v1h-4zM441 591h1v1h-1zM445 591h1v1h-1zM425 592h1v1h-1zM429 592h1v1h-1zM431 592h1v1h-1zM433 592h1v1h-1zM435 592h2v1h-2zM440 592h1v1h-1zM446 592h1v1h-1zM448 592h1v1h-1zM388 593h1v1h-1zM420 593h1v1h-1zM426 593h1v1h-1zM428 593h1v1h-1zM430 593h1v1h-1zM432 593h2v1h-2zM436 593h2v1h-2zM439 593h1v1h-1zM385 594h1v1h-1zM425 594h2v1h-2zM429 594h1v1h-1zM431 594h3v1h-3zM435 594h1v1h-1zM438 594h2v1h-2zM444 594h1v1h-1zM419 595h1v1h-1zM424 595h1v1h-1zM426 595h1v1h-1zM428 595h1v1h-1zM430 595h1v1h-1zM438 595h1v1h-1zM383 596h1v1h-1zM401 596h1v1h-1zM416 596h1v1h-1zM424 596h1v1h-1zM426 596h1v1h-1zM429 596h1v1h-1zM435 596h1v1h-1zM417 597h1v1h-1zM419 597h1v1h-1zM423 597h2v1h-2zM426 597h3v1h-3zM433 597h1v1h-1zM435 597h1v1h-1zM405 598h3v1h-3zM418 598h1v1h-1zM421 598h1v1h-1zM424 598h1v1h-1zM429 598h1v1h-1zM384 599h1v1h-1zM389 599h2v1h-2zM403 599h1v1h-1zM405 599h1v1h-1zM407 599h1v1h-1zM410 599h1v1h-1zM413 599h1v1h-1zM415 599h1v1h-1zM418 599h1v1h-1zM421 599h2v1h-2zM424 599h2v1h-2zM432 599h1v1h-1zM365 600h1v1h-1zM374 600h1v1h-1zM402 600h2v1h-2zM410 600h1v1h-1zM412 600h2v1h-2zM417 600h2v1h-2zM424 600h1v1h-1zM426 600h3v1h-3zM372 601h1v1h-1zM375 601h1v1h-1zM382 601h1v1h-1zM384 601h1v1h-1zM392 601h1v1h-1zM395 601h3v1h-3zM399 601h1v1h-1zM403 601h1v1h-1zM409 601h1v1h-1zM413 601h2v1h-2zM417 601h2v1h-2zM427 601h2v1h-2zM430 601h1v1h-1zM432 601h1v1h-1zM380 602h1v1h-1zM384 602h1v1h-1zM386 602h1v1h-1zM388 602h1v1h-1zM390 602h2v1h-2zM393 602h2v1h-2zM398 602h2v1h-2zM401 602h1v1h-1zM403 602h2v1h-2zM407 602h2v1h-2zM411 602h1v1h-1zM415 602h1v1h-1zM417 602h1v1h-1zM419 602h1v1h-1zM422 602h2v1h-2zM426 602h1v1h-1zM376 603h1v1h-1zM381 603h1v1h-1zM384 603h1v1h-1zM386 603h5v1h-5zM394 603h2v1h-2zM399 603h1v1h-1zM402 603h3v1h-3zM406 603h3v1h-3zM410 603h1v1h-1zM412 603h1v1h-1zM414 603h2v1h-2zM418 603h6v1h-6zM429 603h1v1h-1zM370 604h1v1h-1zM373 604h3v1h-3zM377 604h2v1h-2zM382 604h4v1h-4zM387 604h1v1h-1zM391 604h2v1h-2zM394 604h5v1h-5zM400 604h1v1h-1zM402 604h4v1h-4zM407 604h2v1h-2zM411 604h1v1h-1zM415 604h1v1h-1zM417 604h1v1h-1zM419 604h1v1h-1zM421 604h3v1h-3zM426 604h1v1h-1zM370 605h1v1h-1zM372 605h2v1h-2zM377 605h4v1h-4zM382 605h1v1h-1zM384 605h3v1h-3zM388 605h2v1h-2zM391 605h2v1h-2zM394 605h5v1h-5zM402 605h4v1h-4zM408 605h1v1h-1zM410 605h1v1h-1zM412 605h1v1h-1zM414 605h3v1h-3zM372 606h1v1h-1zM376 606h2v1h-2zM382 606h4v1h-4zM387 606h5v1h-5zM393 606h1v1h-1zM395 606h3v1h-3zM401 606h1v1h-1zM403 606h3v1h-3zM408 606h3v1h-3zM414 606h1v1h-1zM418 606h1v1h-1zM420 606h3v1h-3zM374 607h1v1h-1zM376 607h4v1h-4zM382 607h4v1h-4zM387 607h2v1h-2zM390 607h3v1h-3zM395 607h6v1h-6zM402 607h3v1h-3zM406 607h2v1h-2zM410 607h6v1h-6zM417 607h1v1h-1zM419 607h1v1h-1zM370 608h2v1h-2zM373 608h2v1h-2zM376 608h1v1h-1zM379 608h9v1h-9zM391 608h3v1h-3zM396 608h2v1h-2zM399 608h4v1h-4zM405 608h2v1h-2zM409 608h3v1h-3zM413 608h2v1h-2zM416 608h2v1h-2zM372 609h1v1h-1zM375 609h7v1h-7zM383 609h2v1h-2zM386 609h13v1h-13zM400 609h1v1h-1zM402 609h3v1h-3zM406 609h7v1h-7zM414 609h6v1h-6zM371 610h7v1h-7zM379 610h3v1h-3zM383 610h3v1h-3zM387 610h1v1h-1zM389 610h1v1h-1zM391 610h1v1h-1zM395 610h1v1h-1zM398 610h5v1h-5zM404 610h1v1h-1zM406 610h5v1h-5zM412 610h1v1h-1zM415 610h4v1h-4zM420 610h1v1h-1zM370 611h1v1h-1zM373 611h2v1h-2zM377 611h4v1h-4zM382 611h1v1h-1zM384 611h6v1h-6zM392 611h1v1h-1zM395 611h3v1h-3zM399 611h1v1h-1zM401 611h5v1h-5zM408 611h2v1h-2zM411 611h6v1h-6zM370 612h2v1h-2zM374 612h1v1h-1zM376 612h1v1h-1zM378 612h4v1h-4zM384 612h1v1h-1zM388 612h2v1h-2zM391 612h2v1h-2zM394 612h5v1h-5zM400 612h1v1h-1zM403 612h3v1h-3zM407 612h1v1h-1zM409 612h2v1h-2zM412 612h2v1h-2zM415 612h3v1h-3zM421 612h2v1h-2zM374 613h8v1h-8zM383 613h1v1h-1zM385 613h5v1h-5zM391 613h1v1h-1zM393 613h4v1h-4zM398 613h3v1h-3zM402 613h1v1h-1zM404 613h8v1h-8zM413 613h3v1h-3zM418 613h2v1h-2zM372 614h4v1h-4zM377 614h1v1h-1zM379 614h1v1h-1zM381 614h1v1h-1zM383 614h1v1h-1zM385 614h4v1h-4zM390 614h15v1h-15zM406 614h2v1h-2zM410 614h3v1h-3zM414 614h1v1h-1zM416 614h2v1h-2zM421 614h1v1h-1zM372 615h3v1h-3zM376 615h3v1h-3zM380 615h11v1h-11zM392 615h3v1h-3zM396 615h2v1h-2zM399 615h9v1h-9zM409 615h1v1h-1zM411 615h3v1h-3zM415 615h3v1h-3zM370 616h4v1h-4zM375 616h6v1h-6zM382 616h18v1h-18zM401 616h11v1h-11zM413 616h3v1h-3zM417 616h2v1h-2zM368 617h1v1h-1zM370 617h3v1h-3zM374 617h8v1h-8zM383 617h1v1h-1zM385 617h17v1h-17zM403 617h6v1h-6zM411 617h1v1h-1zM414 617h1v1h-1zM416 617h2v1h-2zM370 618h1v1h-1zM372 618h17v1h-17zM390 618h2v1h-2zM393 618h13v1h-13zM409 618h1v1h-1zM413 618h1v1h-1zM415 618h1v1h-1zM418 618h2v1h-2zM371 619h10v1h-10zM382 619h5v1h-5zM388 619h4v1h-4zM393 619h5v1h-5zM399 619h8v1h-8zM408 619h6v1h-6zM415 619h1v1h-1zM417 619h1v1h-1zM370 620h5v1h-5zM376 620h34v1h-34zM411 620h2v1h-2zM414 620h1v1h-1zM416 620h1v1h-1zM418 620h1v1h-1zM420 620h1v1h-1zM368 621h2v1h-2zM373 621h5v1h-5zM379 621h29v1h-29zM409 621h4v1h-4zM414 621h3v1h-3zM375 622h4v1h-4zM380 622h1v1h-1zM383 622h17v1h-17zM401 622h6v1h-6zM408 622h3v1h-3zM413 622h2v1h-2zM417 622h1v1h-1zM370 623h2v1h-2zM373 623h2v1h-2zM376 623h9v1h-9zM386 623h3v1h-3zM390 623h6v1h-6zM397 623h14v1h-14zM414 623h1v1h-1zM369 624h2v1h-2zM373 624h13v1h-13zM387 624h24v1h-24zM371 625h19v1h-19zM391 625h15v1h-15zM407 625h5v1h-5zM370 626h1v1h-1zM373 626h1v1h-1zM375 626h20v1h-20zM397 626h4v1h-4zM402 626h2v1h-2zM405 626h5v1h-5zM411 626h1v1h-1zM370 627h1v1h-1zM373 627h2v1h-2zM376 627h23v1h-23zM400 627h1v1h-1zM402 627h6v1h-6zM411 627h2v1h-2zM373 628h29v1h-29zM403 628h2v1h-2zM406 628h3v1h-3zM411 628h1v1h-1zM374 629h28v1h-28zM403 629h1v1h-1zM405 629h1v1h-1zM369 630h34v1h-34zM404 630h3v1h-3zM409 630h1v1h-1zM368 631h2v1h-2zM372 631h36v1h-36zM368 632h36v1h-36zM405 632h2v1h-2zM408 632h2v1h-2zM367 633h3v1h-3zM371 633h38v1h-38zM366 634h1v1h-1zM368 634h40v1h-40zM409 634h1v1h-1zM366 635h1v1h-1zM368 635h42v1h-42zM367 636h2v1h-2zM370 636h41v1h-41zM366 637h1v1h-1zM368 637h42v1h-42zM363 638h1v1h-1zM366 638h45v1h-45zM366 639h44v1h-44zM363 640h2v1h-2zM366 640h46v1h-46zM365 641h45v1h-45zM411 641h1v1h-1zM368 642h42v1h-42zM364 643h3v1h-3zM368 643h45v1h-45zM362 644h1v1h-1zM364 644h1v1h-1zM366 644h46v1h-46zM366 645h43v1h-43zM410 645h1v1h-1zM412 645h1v1h-1zM368 646h43v1h-43zM367 647h43v1h-43zM367 648h40v1h-40zM408 648h1v1h-1zM366 649h1v1h-1zM368 649h39v1h-39zM367 650h40v1h-40zM364 651h45v1h-45zM364 652h4v1h-4zM369 652h35v1h-35zM368 653h32v1h-32zM401 653h1v1h-1zM403 653h2v1h-2zM407 653h1v1h-1zM367 654h4v1h-4zM372 654h4v1h-4zM377 654h23v1h-23zM401 654h4v1h-4zM407 654h1v1h-1zM367 655h36v1h-36zM404 655h1v1h-1zM411 655h1v1h-1zM367 656h1v1h-1zM371 656h1v1h-1zM373 656h9v1h-9zM383 656h16v1h-16zM400 656h3v1h-3zM405 656h1v1h-1zM370 657h1v1h-1zM374 657h2v1h-2zM377 657h1v1h-1zM380 657h1v1h-1zM383 657h7v1h-7zM391 657h4v1h-4zM396 657h2v1h-2zM401 657h1v1h-1zM370 658h5v1h-5zM376 658h5v1h-5zM382 658h1v1h-1zM384 658h2v1h-2zM388 658h6v1h-6zM395 658h1v1h-1zM398 658h1v1h-1zM400 658h1v1h-1zM375 659h1v1h-1zM387 659h1v1h-1zM390 659h2v1h-2zM393 659h1v1h-1zM381 660h1v1h-1zM383 660h1v1h-1zM385 660h3v1h-3zM389 660h1v1h-1zM393 660h1v1h-1zM396 660h1v1h-1zM384 661h3v1h-3zM389 661h1v1h-1z" fill="#000"/>
<rect x="360.6" y="560" width="119.6" height="103" fill="none" stroke="#777" stroke-width="1"/>
<path d="M360.4 559.6V663.2H480.2" fill="none" stroke="#222" stroke-width="1.2"/>
<rect x="363.8" y="569.3" width="53.7" height="25.7" fill="none" stroke="#7a7a7a" stroke-width="1"/>
<rect x="426.8" y="572" width="23.3" height="56.2" fill="none" stroke="#7a7a7a" stroke-width="1"/>
<text transform="translate(357.1,607) rotate(-90)" style="font-size:10px;text-anchor:middle">CD11C APC</text>
<text x="388.2" y="674.1" style="font-size:11px">PDCA-1 V450</text>
<g fill="none" stroke="#111" stroke-width="1.7"><path d="M353.6 639.5V669.6H383.3"/><path d="M350.2 645.5L353.6 639.3L357 645.5"/><path d="M378 666.4L384 669.8L378 673.2"/></g>
</svg></body></html>
